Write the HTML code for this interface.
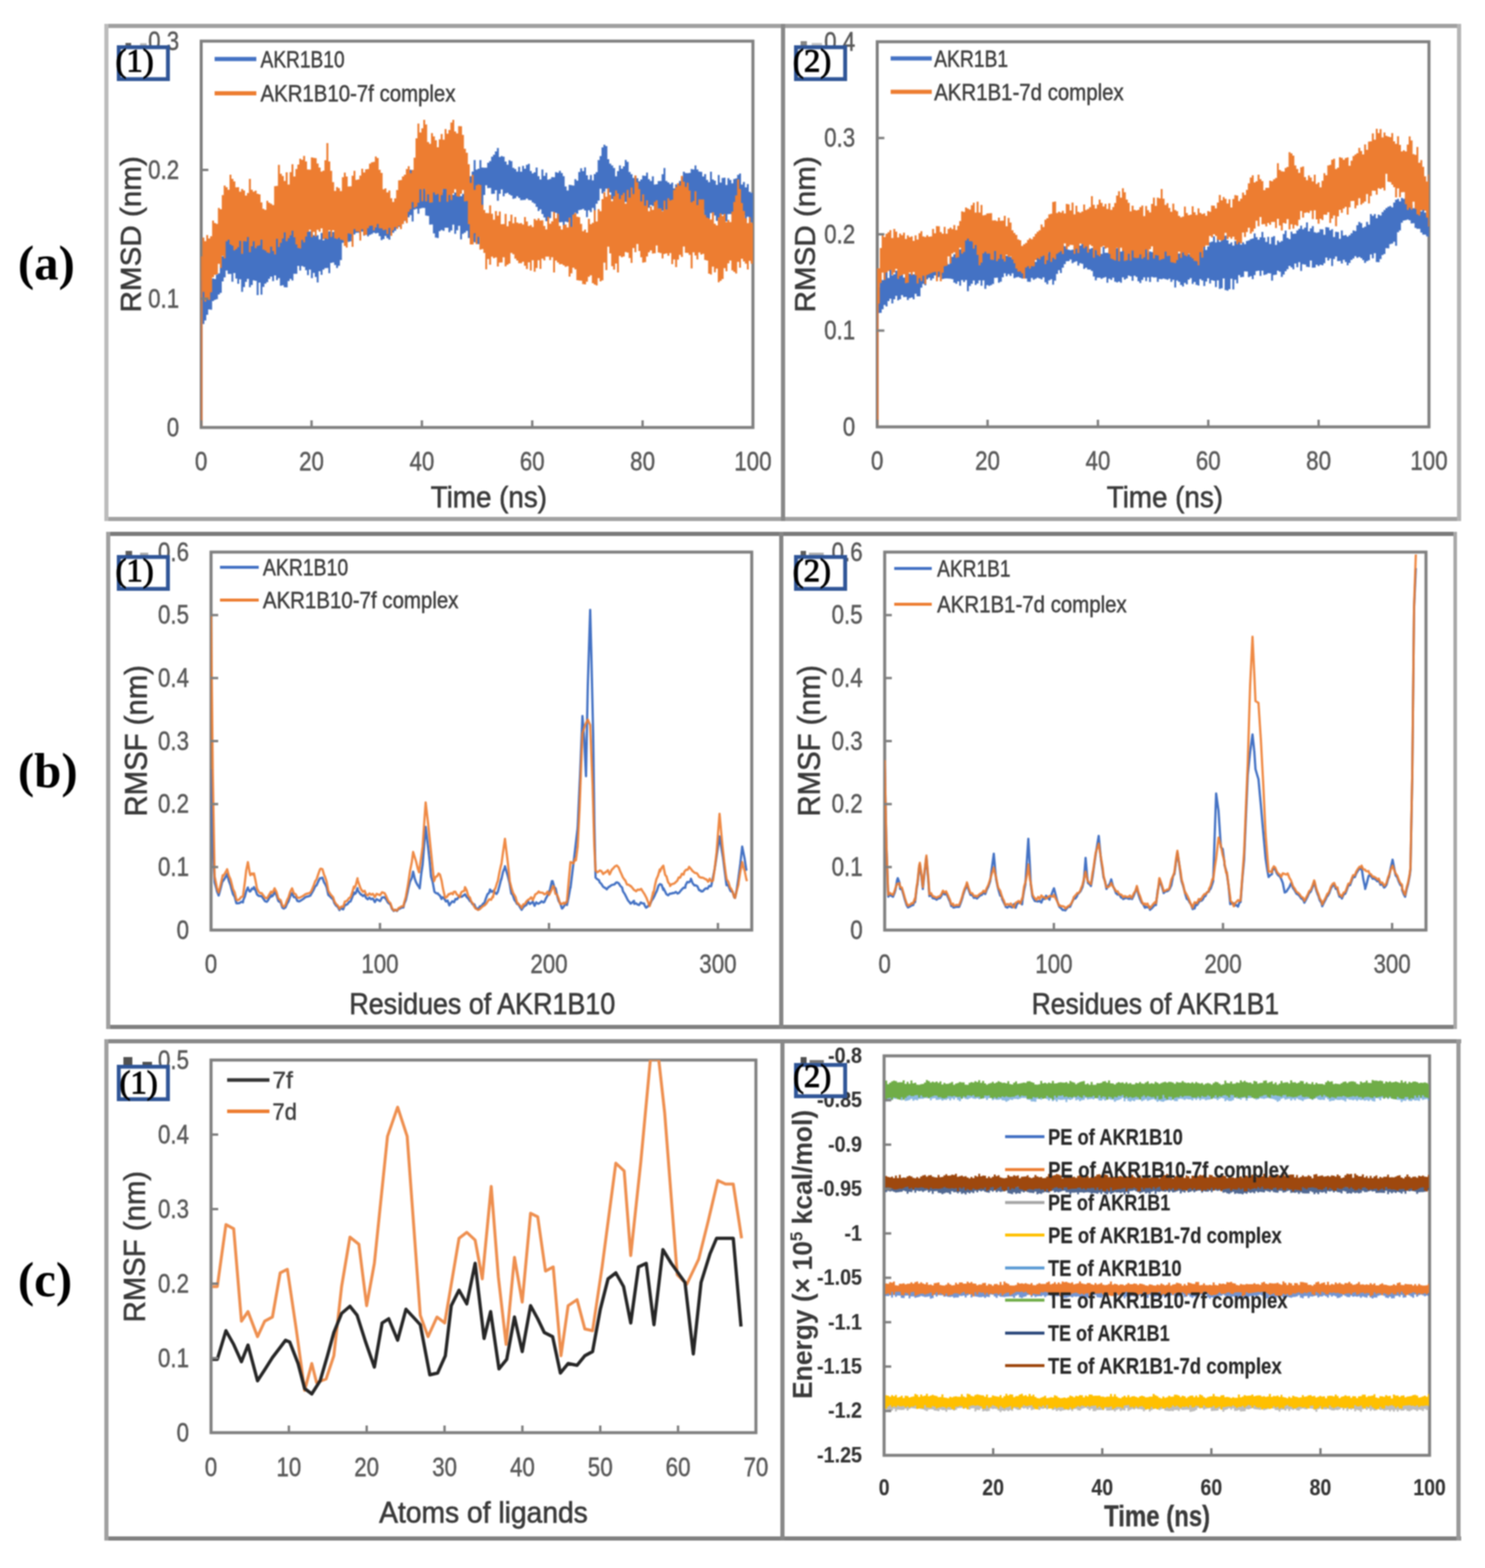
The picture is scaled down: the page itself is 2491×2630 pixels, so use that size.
<!DOCTYPE html>
<html><head><meta charset="utf-8"><title>Figure</title>
<style>html,body{margin:0;padding:0;background:#fff;} svg{display:block;filter:blur(0.8px);}</style>
</head><body>
<svg width="2491" height="2630" viewBox="0 0 2491 2630"><rect x="175" y="40" width="2276" height="7" fill="#a0a0a0"/>
<rect x="175" y="867" width="2276" height="7" fill="#a2a2a2"/>
<rect x="175" y="40" width="7" height="834" fill="#bcbcbc"/>
<rect x="1310" y="40" width="7" height="834" fill="#888888"/>
<rect x="2444" y="40" width="7" height="834" fill="#b5b5b5"/>
<rect x="178" y="892" width="2266" height="7" fill="#7a7a7a"/>
<rect x="178" y="1719" width="2266" height="7" fill="#808080"/>
<rect x="178" y="892" width="7" height="834" fill="#a0a0a0"/>
<rect x="1307" y="892" width="7" height="834" fill="#858585"/>
<rect x="2438" y="892" width="6" height="834" fill="#a8a8a8"/>
<rect x="175" y="1743" width="2276" height="7" fill="#888888"/>
<rect x="175" y="2577" width="2276" height="7" fill="#808080"/>
<rect x="175" y="1743" width="7" height="841" fill="#a0a0a0"/>
<rect x="1309" y="1743" width="7" height="841" fill="#888888"/>
<rect x="2443" y="1743" width="7" height="841" fill="#999999"/>
<text x="30.0" y="469.0" font-size="82" text-anchor="start" fill="#000" font-family="'Liberation Serif', serif" font-weight="bold">(a)</text>
<text x="30.0" y="1320.0" font-size="82" text-anchor="start" fill="#000" font-family="'Liberation Serif', serif" font-weight="bold">(b)</text>
<text x="30.0" y="2174.0" font-size="82" text-anchor="start" fill="#000" font-family="'Liberation Serif', serif" font-weight="bold">(c)</text>
<rect x="337.5" y="69" width="925.5" height="648" fill="none" stroke="#7f7f7f" stroke-width="5"/>
<rect x="1471.5" y="70" width="925.5" height="646" fill="none" stroke="#7f7f7f" stroke-width="5"/>
<rect x="354" y="926" width="907" height="634" fill="none" stroke="#7f7f7f" stroke-width="5"/>
<rect x="1484" y="926" width="908" height="634" fill="none" stroke="#7f7f7f" stroke-width="5"/>
<rect x="354" y="1778" width="914" height="625" fill="none" stroke="#7f7f7f" stroke-width="5"/>
<rect x="1483" y="1771" width="915" height="670" fill="none" stroke="#7f7f7f" stroke-width="5"/>
<clipPath id="clip_a1"><rect x="337.5" y="69" width="925.5" height="648"/></clipPath>
<clipPath id="clip_a2"><rect x="1471.5" y="70" width="925.5" height="646"/></clipPath>
<clipPath id="clip_b1"><rect x="354" y="926" width="907" height="634"/></clipPath>
<clipPath id="clip_b2"><rect x="1484" y="926" width="908" height="634"/></clipPath>
<clipPath id="clip_c1"><rect x="354" y="1778" width="914" height="625"/></clipPath>
<clipPath id="clip_c2"><rect x="1483" y="1771" width="915" height="670"/></clipPath>
<path d="M338.5,717 L338.5,470" fill="none" stroke="#4472C4" stroke-width="3" stroke-linejoin="round"/>
<path d="M339.5,471.7 342.8,471.7 342.8,483.6 346.0,483.6 346.0,482.4 349.2,482.4 349.2,468.8 352.5,468.8 352.5,469.5 355.8,469.5 355.8,467.1 359.0,467.1 359.0,468.1 362.2,468.1 362.2,460.4 365.5,460.4 365.5,458.5 368.8,458.5 368.8,441.9 372.0,441.9 372.0,429.7 375.2,429.7 375.2,402.9 378.5,402.9 378.5,401.7 381.8,401.7 381.8,383.0 385.0,383.0 385.0,384.8 388.2,384.8 388.2,376.9 391.5,376.9 391.5,394.8 394.8,394.8 394.8,385.4 398.0,385.4 398.0,393.6 401.2,393.6 401.2,389.6 404.5,389.6 404.5,389.4 407.8,389.4 407.8,372.1 411.0,372.1 411.0,389.3 414.2,389.3 414.2,388.7 417.5,388.7 417.5,388.6 420.8,388.6 420.8,367.8 424.0,367.8 424.0,390.4 427.2,390.4 427.2,390.9 430.5,390.9 430.5,393.7 433.8,393.7 433.8,390.1 437.0,390.1 437.0,393.3 440.2,393.3 440.2,381.8 443.5,381.8 443.5,394.4 446.8,394.4 446.8,380.6 450.0,380.6 450.0,397.0 453.2,397.0 453.2,393.5 456.5,393.5 456.5,389.8 459.8,389.8 459.8,384.7 463.0,384.7 463.0,397.3 466.2,397.3 466.2,398.7 469.5,398.7 469.5,393.3 472.8,393.3 472.8,381.1 476.0,381.1 476.0,380.8 479.2,380.8 479.2,377.2 482.5,377.2 482.5,378.6 485.8,378.6 485.8,386.8 489.0,386.8 489.0,375.4 492.2,375.4 492.2,383.3 495.5,383.3 495.5,395.1 498.8,395.1 498.8,387.0 502.0,387.0 502.0,386.0 505.2,386.0 505.2,390.2 508.5,390.2 508.5,380.0 511.8,380.0 511.8,390.6 515.0,390.6 515.0,381.8 518.2,381.8 518.2,388.3 521.5,388.3 521.5,381.0 524.8,381.0 524.8,394.4 528.0,394.4 528.0,395.8 531.2,395.8 531.2,394.6 534.5,394.6 534.5,401.4 537.8,401.4 537.8,390.8 541.0,390.8 541.0,402.9 544.2,402.9 544.2,387.8 547.5,387.8 547.5,390.5 550.8,390.5 550.8,388.0 554.0,388.0 554.0,395.5 557.2,395.5 557.2,389.0 560.5,389.0 560.5,388.5 563.8,388.5 563.8,394.4 567.0,394.4 567.0,387.6 570.2,387.6 570.2,388.1 573.5,388.1 573.5,377.8 576.8,377.8 576.8,373.6 580.0,373.6 580.0,368.7 583.2,368.7 583.2,361.4 586.5,361.4 586.5,366.8 589.8,366.8 589.8,368.7 593.0,368.7 593.0,363.3 596.2,363.3 596.2,359.4 599.5,359.4 599.5,363.5 602.8,363.5 602.8,354.2 606.0,354.2 606.0,354.7 609.2,354.7 609.2,361.3 612.5,361.3 612.5,356.7 615.8,356.7 615.8,356.5 619.0,356.5 619.0,354.4 622.2,354.4 622.2,360.1 625.5,360.1 625.5,356.8 628.8,356.8 628.8,361.2 632.0,361.2 632.0,363.6 635.2,363.6 635.2,369.3 638.5,369.3 638.5,363.0 641.8,363.0 641.8,370.7 645.0,370.7 645.0,367.7 648.2,367.7 648.2,368.5 651.5,368.5 651.5,374.9 654.8,374.9 654.8,371.8 658.0,371.8 658.0,367.7 661.2,367.7 661.2,365.8 664.5,365.8 664.5,357.9 667.8,357.9 667.8,357.5 671.0,357.5 671.0,359.0 674.2,359.0 674.2,349.6 677.5,349.6 677.5,350.4 680.8,350.4 680.8,334.7 684.0,334.7 684.0,323.7 687.2,323.7 687.2,284.7 690.5,284.7 690.5,286.5 693.8,286.5 693.8,299.2 697.0,299.2 697.0,297.0 700.2,297.0 700.2,297.7 703.5,297.7 703.5,316.3 706.8,316.3 706.8,315.5 710.0,315.5 710.0,312.8 713.2,312.8 713.2,320.4 716.5,320.4 716.5,321.8 719.8,321.8 719.8,309.8 723.0,309.8 723.0,315.6 726.2,315.6 726.2,307.5 729.5,307.5 729.5,312.4 732.8,312.4 732.8,309.8 736.0,309.8 736.0,313.3 739.2,313.3 739.2,323.0 742.5,323.0 742.5,314.0 745.8,314.0 745.8,312.1 749.0,312.1 749.0,315.9 752.2,315.9 752.2,314.8 755.5,314.8 755.5,317.2 758.8,317.2 758.8,326.7 762.0,326.7 762.0,322.9 765.2,322.9 765.2,306.7 768.5,306.7 768.5,312.1 771.8,312.1 771.8,329.0 775.0,329.0 775.0,325.3 778.2,325.3 778.2,306.6 781.5,306.6 781.5,314.7 784.8,314.7 784.8,306.8 788.0,306.8 788.0,295.5 791.2,295.5 791.2,287.8 794.5,287.8 794.5,268.4 797.8,268.4 797.8,284.4 801.0,284.4 801.0,283.1 804.2,283.1 804.2,268.4 807.5,268.4 807.5,280.9 810.8,280.9 810.8,281.3 814.0,281.3 814.0,281.3 817.2,281.3 817.2,272.9 820.5,272.9 820.5,270.3 823.8,270.3 823.8,262.8 827.0,262.8 827.0,259.5 830.2,259.5 830.2,254.0 833.5,254.0 833.5,248.3 836.8,248.3 836.8,263.3 840.0,263.3 840.0,261.8 843.2,261.8 843.2,262.8 846.5,262.8 846.5,270.9 849.8,270.9 849.8,276.3 853.0,276.3 853.0,268.7 856.2,268.7 856.2,270.2 859.5,270.2 859.5,281.5 862.8,281.5 862.8,283.6 866.0,283.6 866.0,287.8 869.2,287.8 869.2,279.7 872.5,279.7 872.5,288.0 875.8,288.0 875.8,278.3 879.0,278.3 879.0,282.9 882.2,282.9 882.2,276.6 885.5,276.6 885.5,274.8 888.8,274.8 888.8,286.8 892.0,286.8 892.0,290.7 895.2,290.7 895.2,289.0 898.5,289.0 898.5,281.0 901.8,281.0 901.8,295.5 905.0,295.5 905.0,301.1 908.2,301.1 908.2,284.2 911.5,284.2 911.5,295.1 914.8,295.1 914.8,289.7 918.0,289.7 918.0,301.2 921.2,301.2 921.2,300.3 924.5,300.3 924.5,296.9 927.8,296.9 927.8,297.2 931.0,297.2 931.0,288.8 934.2,288.8 934.2,289.8 937.5,289.8 937.5,286.6 940.8,286.6 940.8,290.3 944.0,290.3 944.0,295.5 947.2,295.5 947.2,312.8 950.5,312.8 950.5,319.4 953.8,319.4 953.8,309.9 957.0,309.9 957.0,310.5 960.2,310.5 960.2,311.3 963.5,311.3 963.5,300.6 966.8,300.6 966.8,303.1 970.0,303.1 970.0,288.6 973.2,288.6 973.2,282.3 976.5,282.3 976.5,287.0 979.8,287.0 979.8,280.8 983.0,280.8 983.0,294.1 986.2,294.1 986.2,301.2 989.5,301.2 989.5,293.4 992.8,293.4 992.8,302.4 996.0,302.4 996.0,291.9 999.2,291.9 999.2,288.7 1002.5,288.7 1002.5,268.6 1005.8,268.6 1005.8,261.8 1009.0,261.8 1009.0,247.2 1012.2,247.2 1012.2,242.7 1015.5,242.7 1015.5,244.9 1018.8,244.9 1018.8,266.9 1022.0,266.9 1022.0,274.6 1025.2,274.6 1025.2,277.6 1028.5,277.6 1028.5,281.8 1031.8,281.8 1031.8,295.8 1035.0,295.8 1035.0,287.1 1038.2,287.1 1038.2,277.5 1041.5,277.5 1041.5,282.9 1044.8,282.9 1044.8,279.0 1048.0,279.0 1048.0,268.2 1051.2,268.2 1051.2,271.4 1054.5,271.4 1054.5,288.6 1057.8,288.6 1057.8,292.3 1061.0,292.3 1061.0,298.5 1064.2,298.5 1064.2,295.1 1067.5,295.1 1067.5,299.1 1070.8,299.1 1070.8,304.1 1074.0,304.1 1074.0,301.0 1077.2,301.0 1077.2,294.4 1080.5,294.4 1080.5,294.9 1083.8,294.9 1083.8,289.6 1087.0,289.6 1087.0,300.5 1090.2,300.5 1090.2,303.4 1093.5,303.4 1093.5,295.7 1096.8,295.7 1096.8,309.6 1100.0,309.6 1100.0,309.1 1103.2,309.1 1103.2,303.8 1106.5,303.8 1106.5,303.6 1109.8,303.6 1109.8,292.2 1113.0,292.2 1113.0,281.8 1116.2,281.8 1116.2,303.4 1119.5,303.4 1119.5,306.1 1122.8,306.1 1122.8,308.8 1126.0,308.8 1126.0,306.2 1129.2,306.2 1129.2,316.1 1132.5,316.1 1132.5,309.2 1135.8,309.2 1135.8,312.4 1139.0,312.4 1139.0,303.6 1142.2,303.6 1142.2,297.7 1145.5,297.7 1145.5,287.9 1148.8,287.9 1148.8,290.3 1152.0,290.3 1152.0,290.6 1155.2,290.6 1155.2,289.9 1158.5,289.9 1158.5,283.6 1161.8,283.6 1161.8,284.2 1165.0,284.2 1165.0,277.6 1168.2,277.6 1168.2,284.3 1171.5,284.3 1171.5,287.8 1174.8,287.8 1174.8,288.3 1178.0,288.3 1178.0,296.1 1181.2,296.1 1181.2,292.1 1184.5,292.1 1184.5,301.8 1187.8,301.8 1187.8,305.6 1191.0,305.6 1191.0,288.1 1194.2,288.1 1194.2,301.1 1197.5,301.1 1197.5,303.1 1200.8,303.1 1200.8,309.9 1204.0,309.9 1204.0,293.4 1207.2,293.4 1207.2,306.3 1210.5,306.3 1210.5,298.5 1213.8,298.5 1213.8,298.1 1217.0,298.1 1217.0,310.3 1220.2,310.3 1220.2,298.8 1223.5,298.8 1223.5,301.7 1226.8,301.7 1226.8,307.5 1230.0,307.5 1230.0,300.3 1233.2,300.3 1233.2,299.2 1236.5,299.2 1236.5,293.2 1239.8,293.2 1239.8,291.1 1243.0,291.1 1243.0,309.5 1246.2,309.5 1246.2,305.3 1249.5,305.3 1249.5,314.3 1252.8,314.3 1252.8,308.7 1256.0,308.7 1256.0,321.7 1259.2,321.7 1259.2,323.6 1262.5,323.6 1262.5,322.5 1263.0,322.5 1263.0,366.5 1262.5,366.5 1262.5,372.9 1259.2,372.9 1259.2,375.4 1256.0,375.4 1256.0,363.4 1252.8,363.4 1252.8,373.4 1249.5,373.4 1249.5,360.9 1246.2,360.9 1246.2,378.3 1243.0,378.3 1243.0,370.3 1239.8,370.3 1239.8,369.3 1236.5,369.3 1236.5,372.5 1233.2,372.5 1233.2,361.8 1230.0,361.8 1230.0,360.8 1226.8,360.8 1226.8,359.1 1223.5,359.1 1223.5,359.3 1220.2,359.3 1220.2,371.2 1217.0,371.2 1217.0,372.0 1213.8,372.0 1213.8,359.9 1210.5,359.9 1210.5,371.6 1207.2,371.6 1207.2,373.2 1204.0,373.2 1204.0,370.5 1200.8,370.5 1200.8,361.5 1197.5,361.5 1197.5,356.5 1194.2,356.5 1194.2,357.4 1191.0,357.4 1191.0,372.8 1187.8,372.8 1187.8,369.7 1184.5,369.7 1184.5,370.2 1181.2,370.2 1181.2,351.7 1178.0,351.7 1178.0,352.7 1174.8,352.7 1174.8,352.9 1171.5,352.9 1171.5,347.0 1168.2,347.0 1168.2,358.6 1165.0,358.6 1165.0,346.1 1161.8,346.1 1161.8,353.9 1158.5,353.9 1158.5,349.9 1155.2,349.9 1155.2,360.5 1152.0,360.5 1152.0,352.1 1148.8,352.1 1148.8,350.3 1145.5,350.3 1145.5,342.1 1142.2,342.1 1142.2,346.4 1139.0,346.4 1139.0,350.2 1135.8,350.2 1135.8,346.9 1132.5,346.9 1132.5,355.2 1129.2,355.2 1129.2,359.8 1126.0,359.8 1126.0,349.6 1122.8,349.6 1122.8,357.8 1119.5,357.8 1119.5,360.0 1116.2,360.0 1116.2,362.7 1113.0,362.7 1113.0,353.5 1109.8,353.5 1109.8,358.3 1106.5,358.3 1106.5,356.2 1103.2,356.2 1103.2,343.0 1100.0,343.0 1100.0,354.0 1096.8,354.0 1096.8,345.4 1093.5,345.4 1093.5,344.1 1090.2,344.1 1090.2,348.5 1087.0,348.5 1087.0,348.7 1083.8,348.7 1083.8,346.6 1080.5,346.6 1080.5,346.6 1077.2,346.6 1077.2,346.6 1074.0,346.6 1074.0,342.4 1070.8,342.4 1070.8,346.2 1067.5,346.2 1067.5,337.8 1064.2,337.8 1064.2,341.9 1061.0,341.9 1061.0,344.9 1057.8,344.9 1057.8,336.8 1054.5,336.8 1054.5,341.0 1051.2,341.0 1051.2,338.8 1048.0,338.8 1048.0,345.2 1044.8,345.2 1044.8,342.0 1041.5,342.0 1041.5,336.4 1038.2,336.4 1038.2,336.6 1035.0,336.6 1035.0,335.5 1031.8,335.5 1031.8,341.3 1028.5,341.3 1028.5,334.0 1025.2,334.0 1025.2,322.8 1022.0,322.8 1022.0,331.0 1018.8,331.0 1018.8,316.5 1015.5,316.5 1015.5,321.5 1012.2,321.5 1012.2,324.6 1009.0,324.6 1009.0,316.6 1005.8,316.6 1005.8,336.4 1002.5,336.4 1002.5,341.8 999.2,341.8 999.2,353.0 996.0,353.0 996.0,348.8 992.8,348.8 992.8,355.8 989.5,355.8 989.5,352.7 986.2,352.7 986.2,364.3 983.0,364.3 983.0,353.0 979.8,353.0 979.8,350.4 976.5,350.4 976.5,351.7 973.2,351.7 973.2,352.5 970.0,352.5 970.0,358.6 966.8,358.6 966.8,356.8 963.5,356.8 963.5,361.3 960.2,361.3 960.2,381.6 957.0,381.6 957.0,372.3 953.8,372.3 953.8,372.7 950.5,372.7 950.5,371.8 947.2,371.8 947.2,387.1 944.0,387.1 944.0,372.6 940.8,372.6 940.8,372.9 937.5,372.9 937.5,370.8 934.2,370.8 934.2,357.1 931.0,357.1 931.0,357.4 927.8,357.4 927.8,355.1 924.5,355.1 924.5,365.7 921.2,365.7 921.2,368.7 918.0,368.7 918.0,371.1 914.8,371.1 914.8,364.8 911.5,364.8 911.5,359.1 908.2,359.1 908.2,351.3 905.0,351.3 905.0,354.0 901.8,354.0 901.8,347.0 898.5,347.0 898.5,341.6 895.2,341.6 895.2,339.6 892.0,339.6 892.0,336.0 888.8,336.0 888.8,335.4 885.5,335.4 885.5,333.1 882.2,333.1 882.2,335.3 879.0,335.3 879.0,335.5 875.8,335.5 875.8,335.7 872.5,335.7 872.5,332.1 869.2,332.1 869.2,329.2 866.0,329.2 866.0,332.4 862.8,332.4 862.8,333.6 859.5,333.6 859.5,327.9 856.2,327.9 856.2,326.3 853.0,326.3 853.0,323.6 849.8,323.6 849.8,324.5 846.5,324.5 846.5,329.3 843.2,329.3 843.2,317.7 840.0,317.7 840.0,325.0 836.8,325.0 836.8,336.8 833.5,336.8 833.5,319.0 830.2,319.0 830.2,325.0 827.0,325.0 827.0,325.3 823.8,325.3 823.8,315.3 820.5,315.3 820.5,315.4 817.2,315.4 817.2,310.8 814.0,310.8 814.0,327.0 810.8,327.0 810.8,352.8 807.5,352.8 807.5,385.4 804.2,385.4 804.2,409.5 801.0,409.5 801.0,394.1 797.8,394.1 797.8,406.5 794.5,406.5 794.5,404.8 791.2,404.8 791.2,376.8 788.0,376.8 788.0,399.3 784.8,399.3 784.8,387.2 781.5,387.2 781.5,390.2 778.2,390.2 778.2,392.3 775.0,392.3 775.0,401.5 771.8,401.5 771.8,378.8 768.5,378.8 768.5,386.3 765.2,386.3 765.2,392.2 762.0,392.2 762.0,376.8 758.8,376.8 758.8,386.5 755.5,386.5 755.5,389.5 752.2,389.5 752.2,382.1 749.0,382.1 749.0,382.0 745.8,382.0 745.8,387.2 742.5,387.2 742.5,385.8 739.2,385.8 739.2,387.8 736.0,387.8 736.0,399.3 732.8,399.3 732.8,398.6 729.5,398.6 729.5,391.4 726.2,391.4 726.2,376.6 723.0,376.6 723.0,376.8 719.8,376.8 719.8,362.2 716.5,362.2 716.5,361.4 713.2,361.4 713.2,348.8 710.0,348.8 710.0,348.7 706.8,348.7 706.8,349.7 703.5,349.7 703.5,358.4 700.2,358.4 700.2,350.2 697.0,350.2 697.0,351.6 693.8,351.6 693.8,371.6 690.5,371.6 690.5,360.7 687.2,360.7 687.2,364.4 684.0,364.4 684.0,366.9 680.8,366.9 680.8,370.6 677.5,370.6 677.5,372.2 674.2,372.2 674.2,378.5 671.0,378.5 671.0,380.5 667.8,380.5 667.8,383.1 664.5,383.1 664.5,387.2 661.2,387.2 661.2,390.4 658.0,390.4 658.0,393.0 654.8,393.0 654.8,402.1 651.5,402.1 651.5,399.4 648.2,399.4 648.2,395.8 645.0,395.8 645.0,401.1 641.8,401.1 641.8,402.7 638.5,402.7 638.5,395.9 635.2,395.9 635.2,390.8 632.0,390.8 632.0,391.5 628.8,391.5 628.8,390.2 625.5,390.2 625.5,392.4 622.2,392.4 622.2,394.1 619.0,394.1 619.0,396.5 615.8,396.5 615.8,393.4 612.5,393.4 612.5,395.2 609.2,395.2 609.2,388.5 606.0,388.5 606.0,395.3 602.8,395.3 602.8,390.2 599.5,390.2 599.5,390.6 596.2,390.6 596.2,393.3 593.0,393.3 593.0,397.3 589.8,397.3 589.8,404.8 586.5,404.8 586.5,405.8 583.2,405.8 583.2,402.4 580.0,402.4 580.0,397.7 576.8,397.7 576.8,407.2 573.5,407.2 573.5,436.2 570.2,436.2 570.2,445.7 567.0,445.7 567.0,449.4 563.8,449.4 563.8,444.5 560.5,444.5 560.5,440.2 557.2,440.2 557.2,441.1 554.0,441.1 554.0,458.3 550.8,458.3 550.8,449.4 547.5,449.4 547.5,449.8 544.2,449.8 544.2,452.2 541.0,452.2 541.0,460.9 537.8,460.9 537.8,454.9 534.5,454.9 534.5,473.8 531.2,473.8 531.2,464.6 528.0,464.6 528.0,457.8 524.8,457.8 524.8,466.6 521.5,466.6 521.5,452.2 518.2,452.2 518.2,461.4 515.0,461.4 515.0,453.2 511.8,453.2 511.8,447.8 508.5,447.8 508.5,446.3 505.2,446.3 505.2,453.8 502.0,453.8 502.0,445.9 498.8,445.9 498.8,459.2 495.5,459.2 495.5,459.2 492.2,459.2 492.2,470.6 489.0,470.6 489.0,467.8 485.8,467.8 485.8,471.5 482.5,471.5 482.5,482.1 479.2,482.1 479.2,481.8 476.0,481.8 476.0,478.5 472.8,478.5 472.8,479.2 469.5,479.2 469.5,466.6 466.2,466.6 466.2,469.7 463.0,469.7 463.0,462.1 459.8,462.1 459.8,471.4 456.5,471.4 456.5,464.1 453.2,464.1 453.2,467.8 450.0,467.8 450.0,473.3 446.8,473.3 446.8,475.7 443.5,475.7 443.5,481.2 440.2,481.2 440.2,494.2 437.0,494.2 437.0,473.9 433.8,473.9 433.8,495.1 430.5,495.1 430.5,471.1 427.2,471.1 427.2,470.3 424.0,470.3 424.0,478.1 420.8,478.1 420.8,481.7 417.5,481.7 417.5,467.7 414.2,467.7 414.2,472.8 411.0,472.8 411.0,481.4 407.8,481.4 407.8,489.4 404.5,489.4 404.5,468.4 401.2,468.4 401.2,476.1 398.0,476.1 398.0,467.2 394.8,467.2 394.8,458.1 391.5,458.1 391.5,472.6 388.2,472.6 388.2,459.6 385.0,459.6 385.0,459.5 381.8,459.5 381.8,453.7 378.5,453.7 378.5,465.3 375.2,465.3 375.2,471.9 372.0,471.9 372.0,491.3 368.8,491.3 368.8,493.9 365.5,493.9 365.5,501.8 362.2,501.8 362.2,503.0 359.0,503.0 359.0,504.9 355.8,504.9 355.8,519.4 352.5,519.4 352.5,519.1 349.2,519.1 349.2,527.9 346.0,527.9 346.0,537.4 342.8,537.4 342.8,543.6 339.5,543.6Z" fill="#4472C4" clip-path="url(#clip_a1)"/>
<path d="M338.5,717 L338.5,430" fill="none" stroke="#ED7D31" stroke-width="3" stroke-linejoin="round" opacity="0.8"/>
<path d="M339.5,398.6 342.8,398.6 342.8,404.6 346.0,404.6 346.0,394.3 349.2,394.3 349.2,400.0 352.5,400.0 352.5,396.3 355.8,396.3 355.8,369.9 359.0,369.9 359.0,374.0 362.2,374.0 362.2,375.4 365.5,375.4 365.5,348.7 368.8,348.7 368.8,351.0 372.0,351.0 372.0,327.3 375.2,327.3 375.2,311.2 378.5,311.2 378.5,314.0 381.8,314.0 381.8,318.2 385.0,318.2 385.0,293.1 388.2,293.1 388.2,299.9 391.5,299.9 391.5,304.2 394.8,304.2 394.8,314.3 398.0,314.3 398.0,313.9 401.2,313.9 401.2,321.5 404.5,321.5 404.5,317.0 407.8,317.0 407.8,319.6 411.0,319.6 411.0,328.0 414.2,328.0 414.2,323.8 417.5,323.8 417.5,299.9 420.8,299.9 420.8,318.2 424.0,318.2 424.0,321.4 427.2,321.4 427.2,319.8 430.5,319.8 430.5,325.1 433.8,325.1 433.8,326.1 437.0,326.1 437.0,339.6 440.2,339.6 440.2,350.3 443.5,350.3 443.5,351.9 446.8,351.9 446.8,336.7 450.0,336.7 450.0,339.9 453.2,339.9 453.2,341.8 456.5,341.8 456.5,344.1 459.8,344.1 459.8,312.3 463.0,312.3 463.0,311.8 466.2,311.8 466.2,276.5 469.5,276.5 469.5,291.4 472.8,291.4 472.8,295.3 476.0,295.3 476.0,303.6 479.2,303.6 479.2,288.9 482.5,288.9 482.5,309.4 485.8,309.4 485.8,288.7 489.0,288.7 489.0,275.4 492.2,275.4 492.2,295.9 495.5,295.9 495.5,283.4 498.8,283.4 498.8,275.9 502.0,275.9 502.0,266.2 505.2,266.2 505.2,268.1 508.5,268.1 508.5,261.6 511.8,261.6 511.8,270.8 515.0,270.8 515.0,284.2 518.2,284.2 518.2,284.4 521.5,284.4 521.5,263.9 524.8,263.9 524.8,264.7 528.0,264.7 528.0,265.3 531.2,265.3 531.2,274.3 534.5,274.3 534.5,281.1 537.8,281.1 537.8,287.7 541.0,287.7 541.0,286.2 544.2,286.2 544.2,268.8 547.5,268.8 547.5,240.0 550.8,240.0 550.8,270.8 554.0,270.8 554.0,286.5 557.2,286.5 557.2,305.5 560.5,305.5 560.5,320.3 563.8,320.3 563.8,313.7 567.0,313.7 567.0,315.5 570.2,315.5 570.2,320.5 573.5,320.5 573.5,297.3 576.8,297.3 576.8,289.5 580.0,289.5 580.0,296.0 583.2,296.0 583.2,312.7 586.5,312.7 586.5,312.5 589.8,312.5 589.8,294.7 593.0,294.7 593.0,286.4 596.2,286.4 596.2,301.7 599.5,301.7 599.5,301.1 602.8,301.1 602.8,294.5 606.0,294.5 606.0,282.9 609.2,282.9 609.2,289.3 612.5,289.3 612.5,284.0 615.8,284.0 615.8,283.5 619.0,283.5 619.0,274.4 622.2,274.4 622.2,272.3 625.5,272.3 625.5,271.5 628.8,271.5 628.8,262.4 632.0,262.4 632.0,264.9 635.2,264.9 635.2,284.7 638.5,284.7 638.5,290.0 641.8,290.0 641.8,317.5 645.0,317.5 645.0,315.9 648.2,315.9 648.2,322.8 651.5,322.8 651.5,319.4 654.8,319.4 654.8,332.4 658.0,332.4 658.0,338.7 661.2,338.7 661.2,332.7 664.5,332.7 664.5,318.8 667.8,318.8 667.8,302.5 671.0,302.5 671.0,301.9 674.2,301.9 674.2,296.1 677.5,296.1 677.5,293.1 680.8,293.1 680.8,283.5 684.0,283.5 684.0,278.8 687.2,278.8 687.2,290.4 690.5,290.4 690.5,284.9 693.8,284.9 693.8,264.6 697.0,264.6 697.0,231.9 700.2,231.9 700.2,207.2 703.5,207.2 703.5,222.2 706.8,222.2 706.8,215.3 710.0,215.3 710.0,200.9 713.2,200.9 713.2,208.8 716.5,208.8 716.5,238.2 719.8,238.2 719.8,241.3 723.0,241.3 723.0,223.3 726.2,223.3 726.2,228.7 729.5,228.7 729.5,235.3 732.8,235.3 732.8,247.1 736.0,247.1 736.0,233.7 739.2,233.7 739.2,224.7 742.5,224.7 742.5,234.2 745.8,234.2 745.8,216.5 749.0,216.5 749.0,224.2 752.2,224.2 752.2,218.1 755.5,218.1 755.5,205.4 758.8,205.4 758.8,201.0 762.0,201.0 762.0,220.4 765.2,220.4 765.2,223.8 768.5,223.8 768.5,211.6 771.8,211.6 771.8,211.8 775.0,211.8 775.0,226.2 778.2,226.2 778.2,249.4 781.5,249.4 781.5,256.3 784.8,256.3 784.8,275.6 788.0,275.6 788.0,306.7 791.2,306.7 791.2,293.2 794.5,293.2 794.5,318.4 797.8,318.4 797.8,310.8 801.0,310.8 801.0,309.2 804.2,309.2 804.2,310.3 807.5,310.3 807.5,343.5 810.8,343.5 810.8,352.2 814.0,352.2 814.0,357.2 817.2,357.2 817.2,357.5 820.5,357.5 820.5,344.6 823.8,344.6 823.8,358.4 827.0,358.4 827.0,368.6 830.2,368.6 830.2,353.9 833.5,353.9 833.5,361.8 836.8,361.8 836.8,354.8 840.0,354.8 840.0,376.1 843.2,376.1 843.2,375.7 846.5,375.7 846.5,358.8 849.8,358.8 849.8,379.6 853.0,379.6 853.0,371.1 856.2,371.1 856.2,359.9 859.5,359.9 859.5,374.5 862.8,374.5 862.8,364.0 866.0,364.0 866.0,373.2 869.2,373.2 869.2,374.7 872.5,374.7 872.5,374.3 875.8,374.3 875.8,376.4 879.0,376.4 879.0,364.1 882.2,364.1 882.2,371.4 885.5,371.4 885.5,379.1 888.8,379.1 888.8,377.6 892.0,377.6 892.0,380.7 895.2,380.7 895.2,367.3 898.5,367.3 898.5,369.4 901.8,369.4 901.8,366.2 905.0,366.2 905.0,369.7 908.2,369.7 908.2,369.6 911.5,369.6 911.5,378.9 914.8,378.9 914.8,384.7 918.0,384.7 918.0,363.7 921.2,363.7 921.2,375.3 924.5,375.3 924.5,371.3 927.8,371.3 927.8,355.4 931.0,355.4 931.0,366.2 934.2,366.2 934.2,358.4 937.5,358.4 937.5,379.1 940.8,379.1 940.8,384.9 944.0,384.9 944.0,377.6 947.2,377.6 947.2,376.6 950.5,376.6 950.5,381.4 953.8,381.4 953.8,365.0 957.0,365.0 957.0,380.5 960.2,380.5 960.2,359.9 963.5,359.9 963.5,357.2 966.8,357.2 966.8,363.6 970.0,363.6 970.0,364.2 973.2,364.2 973.2,375.5 976.5,375.5 976.5,387.7 979.8,387.7 979.8,385.0 983.0,385.0 983.0,389.9 986.2,389.9 986.2,366.9 989.5,366.9 989.5,376.1 992.8,376.1 992.8,373.7 996.0,373.7 996.0,352.6 999.2,352.6 999.2,371.5 1002.5,371.5 1002.5,350.7 1005.8,350.7 1005.8,354.3 1009.0,354.3 1009.0,333.9 1012.2,333.9 1012.2,322.6 1015.5,322.6 1015.5,329.9 1018.8,329.9 1018.8,315.8 1022.0,315.8 1022.0,326.7 1025.2,326.7 1025.2,337.6 1028.5,337.6 1028.5,329.1 1031.8,329.1 1031.8,319.4 1035.0,319.4 1035.0,324.5 1038.2,324.5 1038.2,333.7 1041.5,333.7 1041.5,327.2 1044.8,327.2 1044.8,323.4 1048.0,323.4 1048.0,341.4 1051.2,341.4 1051.2,318.6 1054.5,318.6 1054.5,331.6 1057.8,331.6 1057.8,314.6 1061.0,314.6 1061.0,325.5 1064.2,325.5 1064.2,294.3 1067.5,294.3 1067.5,305.8 1070.8,305.8 1070.8,317.3 1074.0,317.3 1074.0,337.7 1077.2,337.7 1077.2,326.1 1080.5,326.1 1080.5,345.1 1083.8,345.1 1083.8,336.0 1087.0,336.0 1087.0,354.2 1090.2,354.2 1090.2,346.2 1093.5,346.2 1093.5,352.0 1096.8,352.0 1096.8,338.4 1100.0,338.4 1100.0,336.0 1103.2,336.0 1103.2,349.6 1106.5,349.6 1106.5,349.5 1109.8,349.5 1109.8,354.3 1113.0,354.3 1113.0,336.6 1116.2,336.6 1116.2,351.3 1119.5,351.3 1119.5,332.4 1122.8,332.4 1122.8,336.2 1126.0,336.2 1126.0,335.0 1129.2,335.0 1129.2,318.6 1132.5,318.6 1132.5,313.8 1135.8,313.8 1135.8,307.3 1139.0,307.3 1139.0,311.2 1142.2,311.2 1142.2,295.0 1145.5,295.0 1145.5,304.7 1148.8,304.7 1148.8,313.4 1152.0,313.4 1152.0,306.6 1155.2,306.6 1155.2,319.5 1158.5,319.5 1158.5,339.3 1161.8,339.3 1161.8,336.9 1165.0,336.9 1165.0,320.8 1168.2,320.8 1168.2,344.0 1171.5,344.0 1171.5,334.4 1174.8,334.4 1174.8,334.4 1178.0,334.4 1178.0,334.5 1181.2,334.5 1181.2,360.4 1184.5,360.4 1184.5,365.1 1187.8,365.1 1187.8,366.3 1191.0,366.3 1191.0,368.3 1194.2,368.3 1194.2,356.0 1197.5,356.0 1197.5,375.2 1200.8,375.2 1200.8,377.9 1204.0,377.9 1204.0,364.4 1207.2,364.4 1207.2,357.9 1210.5,357.9 1210.5,362.2 1213.8,362.2 1213.8,358.8 1217.0,358.8 1217.0,372.5 1220.2,372.5 1220.2,368.7 1223.5,368.7 1223.5,372.4 1226.8,372.4 1226.8,355.0 1230.0,355.0 1230.0,338.7 1233.2,338.7 1233.2,327.8 1236.5,327.8 1236.5,300.7 1239.8,300.7 1239.8,317.0 1243.0,317.0 1243.0,340.5 1246.2,340.5 1246.2,353.7 1249.5,353.7 1249.5,366.1 1252.8,366.1 1252.8,374.3 1256.0,374.3 1256.0,364.2 1259.2,364.2 1259.2,373.6 1262.5,373.6 1262.5,376.5 1263.0,376.5 1263.0,442.8 1262.5,442.8 1262.5,442.2 1259.2,442.2 1259.2,437.4 1256.0,437.4 1256.0,452.1 1252.8,452.1 1252.8,442.3 1249.5,442.3 1249.5,438.4 1246.2,438.4 1246.2,434.1 1243.0,434.1 1243.0,448.9 1239.8,448.9 1239.8,439.3 1236.5,439.3 1236.5,458.7 1233.2,458.7 1233.2,455.9 1230.0,455.9 1230.0,453.4 1226.8,453.4 1226.8,436.9 1223.5,436.9 1223.5,441.8 1220.2,441.8 1220.2,454.9 1217.0,454.9 1217.0,449.8 1213.8,449.8 1213.8,468.1 1210.5,468.1 1210.5,471.1 1207.2,471.1 1207.2,473.6 1204.0,473.6 1204.0,450.6 1200.8,450.6 1200.8,456.8 1197.5,456.8 1197.5,447.3 1194.2,447.3 1194.2,460.5 1191.0,460.5 1191.0,459.0 1187.8,459.0 1187.8,436.9 1184.5,436.9 1184.5,435.9 1181.2,435.9 1181.2,425.8 1178.0,425.8 1178.0,427.0 1174.8,427.0 1174.8,423.4 1171.5,423.4 1171.5,435.3 1168.2,435.3 1168.2,428.4 1165.0,428.4 1165.0,423.2 1161.8,423.2 1161.8,450.2 1158.5,450.2 1158.5,427.6 1155.2,427.6 1155.2,424.3 1152.0,424.3 1152.0,424.1 1148.8,424.1 1148.8,413.5 1145.5,413.5 1145.5,430.9 1142.2,430.9 1142.2,427.5 1139.0,427.5 1139.0,435.5 1135.8,435.5 1135.8,448.1 1132.5,448.1 1132.5,435.3 1129.2,435.3 1129.2,442.9 1126.0,442.9 1126.0,424.6 1122.8,424.6 1122.8,428.9 1119.5,428.9 1119.5,425.1 1116.2,425.1 1116.2,425.9 1113.0,425.9 1113.0,433.6 1109.8,433.6 1109.8,424.5 1106.5,424.5 1106.5,423.4 1103.2,423.4 1103.2,411.8 1100.0,411.8 1100.0,424.7 1096.8,424.7 1096.8,425.2 1093.5,425.2 1093.5,420.1 1090.2,420.1 1090.2,423.3 1087.0,423.3 1087.0,430.3 1083.8,430.3 1083.8,439.7 1080.5,439.7 1080.5,440.6 1077.2,440.6 1077.2,431.4 1074.0,431.4 1074.0,420.9 1070.8,420.9 1070.8,409.3 1067.5,409.3 1067.5,422.9 1064.2,422.9 1064.2,416.1 1061.0,416.1 1061.0,441.1 1057.8,441.1 1057.8,432.7 1054.5,432.7 1054.5,423.8 1051.2,423.8 1051.2,422.8 1048.0,422.8 1048.0,430.2 1044.8,430.2 1044.8,431.4 1041.5,431.4 1041.5,429.2 1038.2,429.2 1038.2,457.0 1035.0,457.0 1035.0,442.0 1031.8,442.0 1031.8,452.3 1028.5,452.3 1028.5,446.4 1025.2,446.4 1025.2,425.1 1022.0,425.1 1022.0,413.8 1018.8,413.8 1018.8,453.0 1015.5,453.0 1015.5,440.6 1012.2,440.6 1012.2,470.3 1009.0,470.3 1009.0,471.9 1005.8,471.9 1005.8,466.6 1002.5,466.6 1002.5,478.7 999.2,478.7 999.2,477.3 996.0,477.3 996.0,475.0 992.8,475.0 992.8,461.8 989.5,461.8 989.5,464.3 986.2,464.3 986.2,472.5 983.0,472.5 983.0,476.9 979.8,476.9 979.8,476.5 976.5,476.5 976.5,470.8 973.2,470.8 973.2,470.6 970.0,470.6 970.0,469.9 966.8,469.9 966.8,451.8 963.5,451.8 963.5,449.0 960.2,449.0 960.2,458.4 957.0,458.4 957.0,463.9 953.8,463.9 953.8,446.6 950.5,446.6 950.5,447.6 947.2,447.6 947.2,445.0 944.0,445.0 944.0,443.0 940.8,443.0 940.8,443.3 937.5,443.3 937.5,440.2 934.2,440.2 934.2,437.1 931.0,437.1 931.0,457.0 927.8,457.0 927.8,431.4 924.5,431.4 924.5,436.3 921.2,436.3 921.2,430.5 918.0,430.5 918.0,430.4 914.8,430.4 914.8,436.7 911.5,436.7 911.5,433.8 908.2,433.8 908.2,450.9 905.0,450.9 905.0,436.6 901.8,436.6 901.8,449.4 898.5,449.4 898.5,455.7 895.2,455.7 895.2,436.4 892.0,436.4 892.0,453.8 888.8,453.8 888.8,440.1 885.5,440.1 885.5,451.3 882.2,451.3 882.2,445.7 879.0,445.7 879.0,438.9 875.8,438.9 875.8,441.5 872.5,441.5 872.5,441.6 869.2,441.6 869.2,437.0 866.0,437.0 866.0,433.8 862.8,433.8 862.8,426.4 859.5,426.4 859.5,424.3 856.2,424.3 856.2,442.1 853.0,442.1 853.0,444.0 849.8,444.0 849.8,446.7 846.5,446.7 846.5,431.4 843.2,431.4 843.2,440.2 840.0,440.2 840.0,440.5 836.8,440.5 836.8,446.9 833.5,446.9 833.5,431.8 830.2,431.8 830.2,432.9 827.0,432.9 827.0,430.5 823.8,430.5 823.8,444.1 820.5,444.1 820.5,434.4 817.2,434.4 817.2,451.7 814.0,451.7 814.0,424.2 810.8,424.2 810.8,417.8 807.5,417.8 807.5,418.7 804.2,418.7 804.2,397.2 801.0,397.2 801.0,409.4 797.8,409.4 797.8,391.2 794.5,391.2 794.5,410.1 791.2,410.1 791.2,409.9 788.0,409.9 788.0,376.0 784.8,376.0 784.8,337.2 781.5,337.2 781.5,337.8 778.2,337.8 778.2,318.8 775.0,318.8 775.0,325.1 771.8,325.1 771.8,329.9 768.5,329.9 768.5,329.2 765.2,329.2 765.2,317.5 762.0,317.5 762.0,324.2 758.8,324.2 758.8,335.5 755.5,335.5 755.5,327.1 752.2,327.1 752.2,338.5 749.0,338.5 749.0,317.1 745.8,317.1 745.8,316.9 742.5,316.9 742.5,327.2 739.2,327.2 739.2,338.6 736.0,338.6 736.0,325.6 732.8,325.6 732.8,326.7 729.5,326.7 729.5,322.7 726.2,322.7 726.2,339.4 723.0,339.4 723.0,340.0 719.8,340.0 719.8,325.9 716.5,325.9 716.5,337.7 713.2,337.7 713.2,317.0 710.0,317.0 710.0,337.4 706.8,337.4 706.8,317.5 703.5,317.5 703.5,340.1 700.2,340.1 700.2,346.7 697.0,346.7 697.0,348.5 693.8,348.5 693.8,338.9 690.5,338.9 690.5,350.7 687.2,350.7 687.2,355.3 684.0,355.3 684.0,374.2 680.8,374.2 680.8,370.3 677.5,370.3 677.5,375.7 674.2,375.7 674.2,384.2 671.0,384.2 671.0,379.1 667.8,379.1 667.8,383.9 664.5,383.9 664.5,381.0 661.2,381.0 661.2,386.0 658.0,386.0 658.0,395.6 654.8,395.6 654.8,382.3 651.5,382.3 651.5,392.6 648.2,392.6 648.2,385.3 645.0,385.3 645.0,385.9 641.8,385.9 641.8,382.9 638.5,382.9 638.5,382.8 635.2,382.8 635.2,375.7 632.0,375.7 632.0,381.5 628.8,381.5 628.8,386.6 625.5,386.6 625.5,378.6 622.2,378.6 622.2,378.8 619.0,378.8 619.0,382.8 615.8,382.8 615.8,394.0 612.5,394.0 612.5,394.5 609.2,394.5 609.2,384.4 606.0,384.4 606.0,403.4 602.8,403.4 602.8,388.4 599.5,388.4 599.5,388.2 596.2,388.2 596.2,384.3 593.0,384.3 593.0,414.0 589.8,414.0 589.8,392.6 586.5,392.6 586.5,391.6 583.2,391.6 583.2,415.3 580.0,415.3 580.0,412.5 576.8,412.5 576.8,402.8 573.5,402.8 573.5,402.1 570.2,402.1 570.2,398.8 567.0,398.8 567.0,401.0 563.8,401.0 563.8,399.7 560.5,399.7 560.5,386.2 557.2,386.2 557.2,397.4 554.0,397.4 554.0,386.2 550.8,386.2 550.8,401.1 547.5,401.1 547.5,399.5 544.2,399.5 544.2,401.4 541.0,401.4 541.0,382.9 537.8,382.9 537.8,388.7 534.5,388.7 534.5,385.4 531.2,385.4 531.2,396.8 528.0,396.8 528.0,389.1 524.8,389.1 524.8,397.8 521.5,397.8 521.5,385.3 518.2,385.3 518.2,389.0 515.0,389.0 515.0,396.7 511.8,396.7 511.8,406.4 508.5,406.4 508.5,402.6 505.2,402.6 505.2,416.8 502.0,416.8 502.0,416.1 498.8,416.1 498.8,410.0 495.5,410.0 495.5,398.1 492.2,398.1 492.2,387.1 489.0,387.1 489.0,394.8 485.8,394.8 485.8,399.5 482.5,399.5 482.5,404.4 479.2,404.4 479.2,389.8 476.0,389.8 476.0,400.1 472.8,400.1 472.8,407.2 469.5,407.2 469.5,414.2 466.2,414.2 466.2,400.4 463.0,400.4 463.0,426.7 459.8,426.7 459.8,421.1 456.5,421.1 456.5,413.8 453.2,413.8 453.2,424.6 450.0,424.6 450.0,423.6 446.8,423.6 446.8,420.3 443.5,420.3 443.5,418.4 440.2,418.4 440.2,402.0 437.0,402.0 437.0,411.4 433.8,411.4 433.8,412.5 430.5,412.5 430.5,416.3 427.2,416.3 427.2,404.8 424.0,404.8 424.0,412.9 420.8,412.9 420.8,423.1 417.5,423.1 417.5,397.6 414.2,397.6 414.2,405.0 411.0,405.0 411.0,404.4 407.8,404.4 407.8,425.8 404.5,425.8 404.5,404.0 401.2,404.0 401.2,414.6 398.0,414.6 398.0,417.7 394.8,417.7 394.8,420.0 391.5,420.0 391.5,412.1 388.2,412.1 388.2,409.9 385.0,409.9 385.0,402.0 381.8,402.0 381.8,404.8 378.5,404.8 378.5,433.2 375.2,433.2 375.2,429.0 372.0,429.0 372.0,449.6 368.8,449.6 368.8,442.5 365.5,442.5 365.5,459.9 362.2,459.9 362.2,461.0 359.0,461.0 359.0,465.1 355.8,465.1 355.8,490.2 352.5,490.2 352.5,503.1 349.2,503.1 349.2,499.1 346.0,499.1 346.0,505.9 342.8,505.9 342.8,489.4 339.5,489.4Z" fill="#ED7D31" clip-path="url(#clip_a1)"/>
<path d="M1472.5,716 L1472.5,520" fill="none" stroke="#4472C4" stroke-width="3" stroke-linejoin="round"/>
<path d="M1472.5,482.1 1475.8,482.1 1475.8,466.6 1479.0,466.6 1479.0,469.7 1482.2,469.7 1482.2,456.8 1485.5,456.8 1485.5,451.0 1488.8,451.0 1488.8,466.3 1492.0,466.3 1492.0,452.2 1495.2,452.2 1495.2,462.1 1498.5,462.1 1498.5,460.1 1501.8,460.1 1501.8,453.9 1505.0,453.9 1505.0,454.8 1508.2,454.8 1508.2,462.2 1511.5,462.2 1511.5,458.1 1514.8,458.1 1514.8,465.4 1518.0,465.4 1518.0,457.5 1521.2,457.5 1521.2,457.9 1524.5,457.9 1524.5,459.2 1527.8,459.2 1527.8,458.2 1531.0,458.2 1531.0,460.1 1534.2,460.1 1534.2,459.9 1537.5,459.9 1537.5,453.4 1540.8,453.4 1540.8,443.7 1544.0,443.7 1544.0,431.1 1547.2,431.1 1547.2,440.5 1550.5,440.5 1550.5,445.1 1553.8,445.1 1553.8,438.7 1557.0,438.7 1557.0,441.9 1560.2,441.9 1560.2,435.3 1563.5,435.3 1563.5,442.0 1566.8,442.0 1566.8,443.5 1570.0,443.5 1570.0,438.8 1573.2,438.8 1573.2,438.7 1576.5,438.7 1576.5,439.6 1579.8,439.6 1579.8,445.9 1583.0,445.9 1583.0,442.8 1586.2,442.8 1586.2,439.6 1589.5,439.6 1589.5,443.3 1592.8,443.3 1592.8,432.7 1596.0,432.7 1596.0,430.7 1599.2,430.7 1599.2,426.6 1602.5,426.6 1602.5,418.2 1605.8,418.2 1605.8,425.7 1609.0,425.7 1609.0,418.2 1612.2,418.2 1612.2,412.0 1615.5,412.0 1615.5,396.7 1618.8,396.7 1618.8,393.1 1622.0,393.1 1622.0,396.4 1625.2,396.4 1625.2,398.6 1628.5,398.6 1628.5,384.9 1631.8,384.9 1631.8,406.2 1635.0,406.2 1635.0,393.3 1638.2,393.3 1638.2,398.2 1641.5,398.2 1641.5,405.1 1644.8,405.1 1644.8,408.7 1648.0,408.7 1648.0,407.5 1651.2,407.5 1651.2,404.8 1654.5,404.8 1654.5,408.0 1657.8,408.0 1657.8,408.7 1661.0,408.7 1661.0,409.7 1664.2,409.7 1664.2,415.4 1667.5,415.4 1667.5,407.7 1670.8,407.7 1670.8,418.4 1674.0,418.4 1674.0,421.0 1677.2,421.0 1677.2,425.6 1680.5,425.6 1680.5,425.1 1683.8,425.1 1683.8,419.3 1687.0,419.3 1687.0,428.9 1690.2,428.9 1690.2,427.9 1693.5,427.9 1693.5,431.1 1696.8,431.1 1696.8,433.0 1700.0,433.0 1700.0,436.6 1703.2,436.6 1703.2,441.2 1706.5,441.2 1706.5,436.5 1709.8,436.5 1709.8,440.9 1713.0,440.9 1713.0,441.8 1716.2,441.8 1716.2,442.0 1719.5,442.0 1719.5,439.1 1722.8,439.1 1722.8,436.3 1726.0,436.3 1726.0,439.7 1729.2,439.7 1729.2,439.1 1732.5,439.1 1732.5,436.0 1735.8,436.0 1735.8,439.2 1739.0,439.2 1739.0,431.0 1742.2,431.0 1742.2,427.6 1745.5,427.6 1745.5,429.9 1748.8,429.9 1748.8,426.9 1752.0,426.9 1752.0,423.0 1755.2,423.0 1755.2,425.4 1758.5,425.4 1758.5,417.4 1761.8,417.4 1761.8,408.5 1765.0,408.5 1765.0,402.8 1768.2,402.8 1768.2,405.3 1771.5,405.3 1771.5,403.4 1774.8,403.4 1774.8,409.7 1778.0,409.7 1778.0,412.4 1781.2,412.4 1781.2,410.4 1784.5,410.4 1784.5,413.0 1787.8,413.0 1787.8,416.5 1791.0,416.5 1791.0,418.7 1794.2,418.7 1794.2,419.6 1797.5,419.6 1797.5,418.8 1800.8,418.8 1800.8,408.4 1804.0,408.4 1804.0,416.7 1807.2,416.7 1807.2,408.6 1810.5,408.6 1810.5,411.9 1813.8,411.9 1813.8,409.3 1817.0,409.3 1817.0,407.3 1820.2,407.3 1820.2,403.8 1823.5,403.8 1823.5,409.4 1826.8,409.4 1826.8,417.4 1830.0,417.4 1830.0,416.1 1833.2,416.1 1833.2,416.5 1836.5,416.5 1836.5,415.7 1839.8,415.7 1839.8,421.6 1843.0,421.6 1843.0,412.4 1846.2,412.4 1846.2,425.7 1849.5,425.7 1849.5,414.0 1852.8,414.0 1852.8,424.1 1856.0,424.1 1856.0,424.1 1859.2,424.1 1859.2,421.1 1862.5,421.1 1862.5,413.6 1865.8,413.6 1865.8,412.5 1869.0,412.5 1869.0,417.3 1872.2,417.3 1872.2,416.3 1875.5,416.3 1875.5,413.6 1878.8,413.6 1878.8,422.0 1882.0,422.0 1882.0,416.1 1885.2,416.1 1885.2,421.6 1888.5,421.6 1888.5,416.7 1891.8,416.7 1891.8,417.7 1895.0,417.7 1895.0,418.4 1898.2,418.4 1898.2,416.7 1901.5,416.7 1901.5,413.8 1904.8,413.8 1904.8,420.1 1908.0,420.1 1908.0,415.5 1911.2,415.5 1911.2,418.6 1914.5,418.6 1914.5,422.3 1917.8,422.3 1917.8,416.8 1921.0,416.8 1921.0,412.2 1924.2,412.2 1924.2,424.5 1927.5,424.5 1927.5,421.7 1930.8,421.7 1930.8,422.7 1934.0,422.7 1934.0,422.9 1937.2,422.9 1937.2,416.3 1940.5,416.3 1940.5,415.8 1943.8,415.8 1943.8,415.0 1947.0,415.0 1947.0,418.0 1950.2,418.0 1950.2,415.3 1953.5,415.3 1953.5,408.4 1956.8,408.4 1956.8,413.6 1960.0,413.6 1960.0,419.8 1963.2,419.8 1963.2,415.9 1966.5,415.9 1966.5,412.6 1969.8,412.6 1969.8,416.4 1973.0,416.4 1973.0,412.7 1976.2,412.7 1976.2,425.3 1979.5,425.3 1979.5,424.6 1982.8,424.6 1982.8,417.0 1986.0,417.0 1986.0,415.6 1989.2,415.6 1989.2,416.8 1992.5,416.8 1992.5,426.3 1995.8,426.3 1995.8,428.2 1999.0,428.2 1999.0,426.4 2002.2,426.4 2002.2,419.9 2005.5,419.9 2005.5,418.2 2008.8,418.2 2008.8,409.3 2012.0,409.3 2012.0,411.9 2015.2,411.9 2015.2,420.2 2018.5,420.2 2018.5,410.6 2021.8,410.6 2021.8,419.2 2025.0,419.2 2025.0,413.4 2028.2,413.4 2028.2,406.5 2031.5,406.5 2031.5,405.3 2034.8,405.3 2034.8,396.4 2038.0,396.4 2038.0,406.6 2041.2,406.6 2041.2,399.2 2044.5,399.2 2044.5,405.5 2047.8,405.5 2047.8,393.1 2051.0,393.1 2051.0,397.6 2054.2,397.6 2054.2,395.3 2057.5,395.3 2057.5,403.1 2060.8,403.1 2060.8,409.1 2064.0,409.1 2064.0,406.5 2067.2,406.5 2067.2,412.1 2070.5,412.1 2070.5,404.3 2073.8,404.3 2073.8,407.9 2077.0,407.9 2077.0,400.0 2080.2,400.0 2080.2,410.3 2083.5,410.3 2083.5,406.6 2086.8,406.6 2086.8,409.6 2090.0,409.6 2090.0,404.3 2093.2,404.3 2093.2,403.2 2096.5,403.2 2096.5,400.9 2099.8,400.9 2099.8,400.1 2103.0,400.1 2103.0,391.4 2106.2,391.4 2106.2,397.8 2109.5,397.8 2109.5,402.0 2112.8,402.0 2112.8,398.1 2116.0,398.1 2116.0,389.0 2119.2,389.0 2119.2,398.5 2122.5,398.5 2122.5,405.7 2125.8,405.7 2125.8,397.2 2129.0,397.2 2129.0,409.3 2132.2,409.3 2132.2,397.7 2135.5,397.7 2135.5,396.0 2138.8,396.0 2138.8,410.8 2142.0,410.8 2142.0,403.4 2145.2,403.4 2145.2,406.3 2148.5,406.3 2148.5,404.2 2151.8,404.2 2151.8,392.5 2155.0,392.5 2155.0,386.7 2158.2,386.7 2158.2,399.1 2161.5,399.1 2161.5,401.0 2164.8,401.0 2164.8,388.6 2168.0,388.6 2168.0,392.0 2171.2,392.0 2171.2,391.8 2174.5,391.8 2174.5,386.6 2177.8,386.6 2177.8,383.8 2181.0,383.8 2181.0,378.4 2184.2,378.4 2184.2,384.6 2187.5,384.6 2187.5,381.7 2190.8,381.7 2190.8,372.9 2194.0,372.9 2194.0,388.0 2197.2,388.0 2197.2,383.0 2200.5,383.0 2200.5,379.3 2203.8,379.3 2203.8,389.4 2207.0,389.4 2207.0,390.4 2210.2,390.4 2210.2,389.6 2213.5,389.6 2213.5,384.4 2216.8,384.4 2216.8,384.8 2220.0,384.8 2220.0,393.7 2223.2,393.7 2223.2,380.9 2226.5,380.9 2226.5,381.6 2229.8,381.6 2229.8,386.3 2233.0,386.3 2233.0,384.6 2236.2,384.6 2236.2,397.4 2239.5,397.4 2239.5,388.8 2242.8,388.8 2242.8,389.3 2246.0,389.3 2246.0,400.4 2249.2,400.4 2249.2,386.5 2252.5,386.5 2252.5,395.0 2255.8,395.0 2255.8,394.3 2259.0,394.3 2259.0,396.8 2262.2,396.8 2262.2,394.6 2265.5,394.6 2265.5,391.3 2268.8,391.3 2268.8,386.4 2272.0,386.4 2272.0,387.4 2275.2,387.4 2275.2,377.7 2278.5,377.7 2278.5,372.3 2281.8,372.3 2281.8,374.3 2285.0,374.3 2285.0,381.9 2288.2,381.9 2288.2,380.3 2291.5,380.3 2291.5,372.2 2294.8,372.2 2294.8,376.8 2298.0,376.8 2298.0,359.1 2301.2,359.1 2301.2,362.1 2304.5,362.1 2304.5,359.0 2307.8,359.0 2307.8,366.0 2311.0,366.0 2311.0,360.1 2314.2,360.1 2314.2,361.4 2317.5,361.4 2317.5,355.7 2320.8,355.7 2320.8,352.3 2324.0,352.3 2324.0,348.9 2327.2,348.9 2327.2,346.8 2330.5,346.8 2330.5,345.6 2333.8,345.6 2333.8,347.7 2337.0,347.7 2337.0,339.8 2340.2,339.8 2340.2,334.9 2343.5,334.9 2343.5,333.4 2346.8,333.4 2346.8,337.7 2350.0,337.7 2350.0,332.0 2353.2,332.0 2353.2,333.5 2356.5,333.5 2356.5,332.6 2359.8,332.6 2359.8,337.6 2363.0,337.6 2363.0,336.8 2366.2,336.8 2366.2,344.0 2369.5,344.0 2369.5,349.2 2372.8,349.2 2372.8,348.3 2376.0,348.3 2376.0,347.1 2379.2,347.1 2379.2,353.5 2382.5,353.5 2382.5,354.5 2385.8,354.5 2385.8,351.9 2389.0,351.9 2389.0,356.6 2392.2,356.6 2392.2,361.6 2395.5,361.6 2395.5,363.6 2398.0,363.6 2398.0,397.4 2395.5,397.4 2395.5,396.6 2392.2,396.6 2392.2,393.5 2389.0,393.5 2389.0,393.4 2385.8,393.4 2385.8,390.1 2382.5,390.1 2382.5,383.8 2379.2,383.8 2379.2,383.7 2376.0,383.7 2376.0,382.2 2372.8,382.2 2372.8,374.5 2369.5,374.5 2369.5,374.7 2366.2,374.7 2366.2,369.4 2363.0,369.4 2363.0,368.2 2359.8,368.2 2359.8,369.2 2356.5,369.2 2356.5,369.9 2353.2,369.9 2353.2,373.4 2350.0,373.4 2350.0,386.6 2346.8,386.6 2346.8,389.4 2343.5,389.4 2343.5,412.3 2340.2,412.3 2340.2,405.6 2337.0,405.6 2337.0,408.4 2333.8,408.4 2333.8,409.6 2330.5,409.6 2330.5,416.4 2327.2,416.4 2327.2,416.2 2324.0,416.2 2324.0,425.9 2320.8,425.9 2320.8,427.8 2317.5,427.8 2317.5,434.5 2314.2,434.5 2314.2,439.7 2311.0,439.7 2311.0,439.4 2307.8,439.4 2307.8,424.7 2304.5,424.7 2304.5,433.3 2301.2,433.3 2301.2,426.7 2298.0,426.7 2298.0,436.6 2294.8,436.6 2294.8,438.1 2291.5,438.1 2291.5,441.1 2288.2,441.1 2288.2,436.3 2285.0,436.3 2285.0,433.0 2281.8,433.0 2281.8,430.9 2278.5,430.9 2278.5,432.4 2275.2,432.4 2275.2,429.8 2272.0,429.8 2272.0,433.6 2268.8,433.6 2268.8,436.1 2265.5,436.1 2265.5,440.9 2262.2,440.9 2262.2,445.0 2259.0,445.0 2259.0,439.4 2255.8,439.4 2255.8,435.7 2252.5,435.7 2252.5,441.9 2249.2,441.9 2249.2,437.7 2246.0,437.7 2246.0,437.9 2242.8,437.9 2242.8,430.2 2239.5,430.2 2239.5,434.5 2236.2,434.5 2236.2,446.3 2233.0,446.3 2233.0,433.5 2229.8,433.5 2229.8,437.0 2226.5,437.0 2226.5,432.0 2223.2,432.0 2223.2,441.4 2220.0,441.4 2220.0,445.1 2216.8,445.1 2216.8,443.9 2213.5,443.9 2213.5,446.2 2210.2,446.2 2210.2,443.9 2207.0,443.9 2207.0,448.7 2203.8,448.7 2203.8,448.9 2200.5,448.9 2200.5,437.0 2197.2,437.0 2197.2,447.9 2194.0,447.9 2194.0,447.4 2190.8,447.4 2190.8,443.7 2187.5,443.7 2187.5,443.3 2184.2,443.3 2184.2,454.6 2181.0,454.6 2181.0,439.7 2177.8,439.7 2177.8,448.3 2174.5,448.3 2174.5,442.0 2171.2,442.0 2171.2,451.8 2168.0,451.8 2168.0,448.5 2164.8,448.5 2164.8,445.9 2161.5,445.9 2161.5,451.5 2158.2,451.5 2158.2,454.9 2155.0,454.9 2155.0,460.5 2151.8,460.5 2151.8,464.4 2148.5,464.4 2148.5,455.8 2145.2,455.8 2145.2,454.0 2142.0,454.0 2142.0,460.8 2138.8,460.8 2138.8,461.2 2135.5,461.2 2135.5,470.7 2132.2,470.7 2132.2,458.5 2129.0,458.5 2129.0,458.3 2125.8,458.3 2125.8,460.3 2122.5,460.3 2122.5,461.3 2119.2,461.3 2119.2,454.1 2116.0,454.1 2116.0,462.8 2112.8,462.8 2112.8,454.1 2109.5,454.1 2109.5,454.8 2106.2,454.8 2106.2,461.4 2103.0,461.4 2103.0,468.2 2099.8,468.2 2099.8,463.3 2096.5,463.3 2096.5,464.7 2093.2,464.7 2093.2,455.5 2090.0,455.5 2090.0,455.3 2086.8,455.3 2086.8,464.4 2083.5,464.4 2083.5,465.1 2080.2,465.1 2080.2,461.5 2077.0,461.5 2077.0,475.2 2073.8,475.2 2073.8,469.2 2070.5,469.2 2070.5,485.4 2067.2,485.4 2067.2,467.6 2064.0,467.6 2064.0,485.1 2060.8,485.1 2060.8,487.6 2057.5,487.6 2057.5,486.6 2054.2,486.6 2054.2,467.1 2051.0,467.1 2051.0,483.4 2047.8,483.4 2047.8,484.4 2044.5,484.4 2044.5,470.3 2041.2,470.3 2041.2,481.5 2038.0,481.5 2038.0,471.0 2034.8,471.0 2034.8,469.9 2031.5,469.9 2031.5,475.4 2028.2,475.4 2028.2,466.8 2025.0,466.8 2025.0,472.2 2021.8,472.2 2021.8,479.8 2018.5,479.8 2018.5,470.5 2015.2,470.5 2015.2,468.2 2012.0,468.2 2012.0,479.1 2008.8,479.1 2008.8,477.7 2005.5,477.7 2005.5,473.0 2002.2,473.0 2002.2,476.2 1999.0,476.2 1999.0,466.6 1995.8,466.6 1995.8,469.0 1992.5,469.0 1992.5,476.9 1989.2,476.9 1989.2,474.4 1986.0,474.4 1986.0,480.6 1982.8,480.6 1982.8,478.1 1979.5,478.1 1979.5,472.8 1976.2,472.8 1976.2,470.5 1973.0,470.5 1973.0,482.2 1969.8,482.2 1969.8,469.3 1966.5,469.3 1966.5,472.8 1963.2,472.8 1963.2,467.6 1960.0,467.6 1960.0,469.3 1956.8,469.3 1956.8,468.3 1953.5,468.3 1953.5,467.2 1950.2,467.2 1950.2,468.2 1947.0,468.2 1947.0,468.0 1943.8,468.0 1943.8,472.7 1940.5,472.7 1940.5,465.3 1937.2,465.3 1937.2,465.6 1934.0,465.6 1934.0,464.6 1930.8,464.6 1930.8,473.0 1927.5,473.0 1927.5,465.2 1924.2,465.2 1924.2,471.5 1921.0,471.5 1921.0,465.2 1917.8,465.2 1917.8,469.4 1914.5,469.4 1914.5,474.7 1911.2,474.7 1911.2,471.8 1908.0,471.8 1908.0,464.4 1904.8,464.4 1904.8,462.5 1901.5,462.5 1901.5,471.1 1898.2,471.1 1898.2,463.5 1895.0,463.5 1895.0,462.2 1891.8,462.2 1891.8,466.9 1888.5,466.9 1888.5,469.0 1885.2,469.0 1885.2,465.2 1882.0,465.2 1882.0,474.3 1878.8,474.3 1878.8,472.2 1875.5,472.2 1875.5,473.7 1872.2,473.7 1872.2,472.6 1869.0,472.6 1869.0,465.8 1865.8,465.8 1865.8,469.4 1862.5,469.4 1862.5,467.6 1859.2,467.6 1859.2,474.2 1856.0,474.2 1856.0,464.8 1852.8,464.8 1852.8,466.0 1849.5,466.0 1849.5,467.8 1846.2,467.8 1846.2,465.7 1843.0,465.7 1843.0,465.8 1839.8,465.8 1839.8,470.3 1836.5,470.3 1836.5,463.7 1833.2,463.7 1833.2,454.4 1830.0,454.4 1830.0,452.3 1826.8,452.3 1826.8,451.9 1823.5,451.9 1823.5,449.1 1820.2,449.1 1820.2,451.1 1817.0,451.1 1817.0,442.4 1813.8,442.4 1813.8,441.4 1810.5,441.4 1810.5,445.6 1807.2,445.6 1807.2,438.3 1804.0,438.3 1804.0,439.6 1800.8,439.6 1800.8,441.5 1797.5,441.5 1797.5,435.3 1794.2,435.3 1794.2,438.0 1791.0,438.0 1791.0,438.3 1787.8,438.3 1787.8,443.1 1784.5,443.1 1784.5,448.9 1781.2,448.9 1781.2,457.9 1778.0,457.9 1778.0,453.2 1774.8,453.2 1774.8,459.5 1771.5,459.5 1771.5,470.7 1768.2,470.7 1768.2,477.4 1765.0,477.4 1765.0,468.6 1761.8,468.6 1761.8,470.3 1758.5,470.3 1758.5,476.8 1755.2,476.8 1755.2,473.5 1752.0,473.5 1752.0,465.2 1748.8,465.2 1748.8,468.4 1745.5,468.4 1745.5,466.9 1742.2,466.9 1742.2,465.7 1739.0,465.7 1739.0,467.4 1735.8,467.4 1735.8,469.2 1732.5,469.2 1732.5,466.3 1729.2,466.3 1729.2,472.8 1726.0,472.8 1726.0,472.5 1722.8,472.5 1722.8,467.2 1719.5,467.2 1719.5,466.9 1716.2,466.9 1716.2,467.2 1713.0,467.2 1713.0,466.0 1709.8,466.0 1709.8,464.5 1706.5,464.5 1706.5,465.2 1703.2,465.2 1703.2,466.4 1700.0,466.4 1700.0,458.5 1696.8,458.5 1696.8,462.7 1693.5,462.7 1693.5,459.8 1690.2,459.8 1690.2,463.2 1687.0,463.2 1687.0,458.5 1683.8,458.5 1683.8,465.0 1680.5,465.0 1680.5,472.6 1677.2,472.6 1677.2,474.3 1674.0,474.3 1674.0,465.7 1670.8,465.7 1670.8,466.1 1667.5,466.1 1667.5,476.2 1664.2,476.2 1664.2,478.3 1661.0,478.3 1661.0,479.6 1657.8,479.6 1657.8,478.2 1654.5,478.2 1654.5,484.4 1651.2,484.4 1651.2,470.3 1648.0,470.3 1648.0,479.3 1644.8,479.3 1644.8,470.2 1641.5,470.2 1641.5,475.6 1638.2,475.6 1638.2,478.1 1635.0,478.1 1635.0,470.6 1631.8,470.6 1631.8,476.0 1628.5,476.0 1628.5,479.8 1625.2,479.8 1625.2,488.6 1622.0,488.6 1622.0,469.8 1618.8,469.8 1618.8,473.1 1615.5,473.1 1615.5,469.8 1612.2,469.8 1612.2,479.3 1609.0,479.3 1609.0,472.1 1605.8,472.1 1605.8,475.9 1602.5,475.9 1602.5,473.9 1599.2,473.9 1599.2,468.3 1596.0,468.3 1596.0,467.6 1592.8,467.6 1592.8,467.3 1589.5,467.3 1589.5,466.9 1586.2,466.9 1586.2,467.2 1583.0,467.2 1583.0,468.0 1579.8,468.0 1579.8,461.8 1576.5,461.8 1576.5,464.7 1573.2,464.7 1573.2,466.5 1570.0,466.5 1570.0,462.1 1566.8,462.1 1566.8,467.0 1563.5,467.0 1563.5,470.2 1560.2,470.2 1560.2,466.1 1557.0,466.1 1557.0,468.4 1553.8,468.4 1553.8,478.4 1550.5,478.4 1550.5,476.2 1547.2,476.2 1547.2,482.6 1544.0,482.6 1544.0,496.9 1540.8,496.9 1540.8,497.1 1537.5,497.1 1537.5,492.7 1534.2,492.7 1534.2,502.1 1531.0,502.1 1531.0,499.1 1527.8,499.1 1527.8,500.1 1524.5,500.1 1524.5,503.2 1521.2,503.2 1521.2,497.9 1518.0,497.9 1518.0,498.2 1514.8,498.2 1514.8,495.1 1511.5,495.1 1511.5,502.0 1508.2,502.0 1508.2,503.8 1505.0,503.8 1505.0,496.3 1501.8,496.3 1501.8,501.9 1498.5,501.9 1498.5,509.0 1495.2,509.0 1495.2,501.1 1492.0,501.1 1492.0,504.9 1488.8,504.9 1488.8,514.0 1485.5,514.0 1485.5,511.4 1482.2,511.4 1482.2,518.8 1479.0,518.8 1479.0,524.8 1475.8,524.8 1475.8,525.1 1472.5,525.1Z" fill="#4472C4" clip-path="url(#clip_a2)"/>
<path d="M1472.5,716 L1472.5,450" fill="none" stroke="#ED7D31" stroke-width="3" stroke-linejoin="round" opacity="0.8"/>
<path d="M1472.5,450.1 1475.8,450.1 1475.8,415.9 1479.0,415.9 1479.0,393.0 1482.2,393.0 1482.2,397.5 1485.5,397.5 1485.5,391.9 1488.8,391.9 1488.8,389.6 1492.0,389.6 1492.0,386.0 1495.2,386.0 1495.2,399.3 1498.5,399.3 1498.5,384.0 1501.8,384.0 1501.8,388.5 1505.0,388.5 1505.0,398.2 1508.2,398.2 1508.2,391.7 1511.5,391.7 1511.5,394.6 1514.8,394.6 1514.8,390.2 1518.0,390.2 1518.0,400.8 1521.2,400.8 1521.2,394.8 1524.5,394.8 1524.5,397.7 1527.8,397.7 1527.8,396.6 1531.0,396.6 1531.0,404.0 1534.2,404.0 1534.2,394.8 1537.5,394.8 1537.5,401.7 1540.8,401.7 1540.8,391.3 1544.0,391.3 1544.0,387.7 1547.2,387.7 1547.2,396.4 1550.5,396.4 1550.5,397.4 1553.8,397.4 1553.8,394.4 1557.0,394.4 1557.0,397.1 1560.2,397.1 1560.2,396.4 1563.5,396.4 1563.5,384.1 1566.8,384.1 1566.8,391.2 1570.0,391.2 1570.0,379.3 1573.2,379.3 1573.2,379.6 1576.5,379.6 1576.5,389.3 1579.8,389.3 1579.8,391.9 1583.0,391.9 1583.0,380.4 1586.2,380.4 1586.2,391.9 1589.5,391.9 1589.5,384.1 1592.8,384.1 1592.8,381.8 1596.0,381.8 1596.0,384.2 1599.2,384.2 1599.2,377.6 1602.5,377.6 1602.5,385.7 1605.8,385.7 1605.8,378.7 1609.0,378.7 1609.0,370.8 1612.2,370.8 1612.2,354.6 1615.5,354.6 1615.5,355.5 1618.8,355.5 1618.8,347.9 1622.0,347.9 1622.0,349.8 1625.2,349.8 1625.2,351.5 1628.5,351.5 1628.5,344.2 1631.8,344.2 1631.8,340.0 1635.0,340.0 1635.0,356.6 1638.2,356.6 1638.2,338.3 1641.5,338.3 1641.5,356.4 1644.8,356.4 1644.8,343.7 1648.0,343.7 1648.0,361.3 1651.2,361.3 1651.2,360.5 1654.5,360.5 1654.5,358.0 1657.8,358.0 1657.8,357.8 1661.0,357.8 1661.0,357.4 1664.2,357.4 1664.2,369.8 1667.5,369.8 1667.5,369.5 1670.8,369.5 1670.8,370.7 1674.0,370.7 1674.0,365.1 1677.2,365.1 1677.2,370.3 1680.5,370.3 1680.5,370.0 1683.8,370.0 1683.8,361.9 1687.0,361.9 1687.0,379.6 1690.2,379.6 1690.2,365.6 1693.5,365.6 1693.5,373.3 1696.8,373.3 1696.8,386.2 1700.0,386.2 1700.0,390.7 1703.2,390.7 1703.2,394.0 1706.5,394.0 1706.5,401.4 1709.8,401.4 1709.8,403.0 1713.0,403.0 1713.0,412.6 1716.2,412.6 1716.2,409.7 1719.5,409.7 1719.5,407.5 1722.8,407.5 1722.8,402.6 1726.0,402.6 1726.0,399.4 1729.2,399.4 1729.2,401.2 1732.5,401.2 1732.5,397.0 1735.8,397.0 1735.8,392.3 1739.0,392.3 1739.0,388.8 1742.2,388.8 1742.2,386.2 1745.5,386.2 1745.5,376.6 1748.8,376.6 1748.8,380.7 1752.0,380.7 1752.0,368.5 1755.2,368.5 1755.2,366.1 1758.5,366.1 1758.5,359.6 1761.8,359.6 1761.8,358.4 1765.0,358.4 1765.0,338.7 1768.2,338.7 1768.2,337.9 1771.5,337.9 1771.5,357.3 1774.8,357.3 1774.8,355.0 1778.0,355.0 1778.0,356.5 1781.2,356.5 1781.2,353.5 1784.5,353.5 1784.5,358.1 1787.8,358.1 1787.8,341.9 1791.0,341.9 1791.0,342.8 1794.2,342.8 1794.2,353.0 1797.5,353.0 1797.5,339.7 1800.8,339.7 1800.8,359.4 1804.0,359.4 1804.0,344.9 1807.2,344.9 1807.2,355.2 1810.5,355.2 1810.5,356.7 1813.8,356.7 1813.8,354.8 1817.0,354.8 1817.0,343.0 1820.2,343.0 1820.2,352.3 1823.5,352.3 1823.5,350.4 1826.8,350.4 1826.8,347.4 1830.0,347.4 1830.0,328.9 1833.2,328.9 1833.2,343.4 1836.5,343.4 1836.5,349.8 1839.8,349.8 1839.8,343.2 1843.0,343.2 1843.0,334.8 1846.2,334.8 1846.2,340.3 1849.5,340.3 1849.5,346.3 1852.8,346.3 1852.8,341.9 1856.0,341.9 1856.0,350.6 1859.2,350.6 1859.2,340.9 1862.5,340.9 1862.5,352.0 1865.8,352.0 1865.8,347.3 1869.0,347.3 1869.0,340.5 1872.2,340.5 1872.2,328.1 1875.5,328.1 1875.5,320.7 1878.8,320.7 1878.8,331.6 1882.0,331.6 1882.0,315.8 1885.2,315.8 1885.2,322.5 1888.5,322.5 1888.5,334.8 1891.8,334.8 1891.8,340.2 1895.0,340.2 1895.0,354.6 1898.2,354.6 1898.2,345.0 1901.5,345.0 1901.5,351.9 1904.8,351.9 1904.8,352.9 1908.0,352.9 1908.0,351.9 1911.2,351.9 1911.2,347.4 1914.5,347.4 1914.5,344.7 1917.8,344.7 1917.8,362.4 1921.0,362.4 1921.0,345.4 1924.2,345.4 1924.2,352.5 1927.5,352.5 1927.5,356.3 1930.8,356.3 1930.8,342.0 1934.0,342.0 1934.0,331.5 1937.2,331.5 1937.2,345.2 1940.5,345.2 1940.5,331.4 1943.8,331.4 1943.8,332.8 1947.0,332.8 1947.0,317.1 1950.2,317.1 1950.2,333.3 1953.5,333.3 1953.5,343.7 1956.8,343.7 1956.8,340.7 1960.0,340.7 1960.0,348.8 1963.2,348.8 1963.2,355.2 1966.5,355.2 1966.5,341.5 1969.8,341.5 1969.8,352.2 1973.0,352.2 1973.0,354.2 1976.2,354.2 1976.2,362.0 1979.5,362.0 1979.5,364.4 1982.8,364.4 1982.8,363.2 1986.0,363.2 1986.0,346.5 1989.2,346.5 1989.2,357.2 1992.5,357.2 1992.5,361.1 1995.8,361.1 1995.8,360.1 1999.0,360.1 1999.0,346.0 2002.2,346.0 2002.2,356.0 2005.5,356.0 2005.5,360.4 2008.8,360.4 2008.8,349.4 2012.0,349.4 2012.0,357.1 2015.2,357.1 2015.2,359.1 2018.5,359.1 2018.5,357.8 2021.8,357.8 2021.8,362.0 2025.0,362.0 2025.0,354.1 2028.2,354.1 2028.2,355.3 2031.5,355.3 2031.5,344.7 2034.8,344.7 2034.8,344.9 2038.0,344.9 2038.0,349.4 2041.2,349.4 2041.2,339.7 2044.5,339.7 2044.5,326.9 2047.8,326.9 2047.8,336.1 2051.0,336.1 2051.0,330.6 2054.2,330.6 2054.2,333.4 2057.5,333.4 2057.5,341.2 2060.8,341.2 2060.8,334.2 2064.0,334.2 2064.0,348.0 2067.2,348.0 2067.2,333.7 2070.5,333.7 2070.5,327.2 2073.8,327.2 2073.8,327.9 2077.0,327.9 2077.0,337.3 2080.2,337.3 2080.2,333.3 2083.5,333.3 2083.5,323.1 2086.8,323.1 2086.8,326.9 2090.0,326.9 2090.0,318.5 2093.2,318.5 2093.2,307.6 2096.5,307.6 2096.5,297.7 2099.8,297.7 2099.8,293.9 2103.0,293.9 2103.0,305.9 2106.2,305.9 2106.2,303.9 2109.5,303.9 2109.5,293.0 2112.8,293.0 2112.8,300.6 2116.0,300.6 2116.0,303.8 2119.2,303.8 2119.2,319.0 2122.5,319.0 2122.5,315.0 2125.8,315.0 2125.8,314.9 2129.0,314.9 2129.0,303.1 2132.2,303.1 2132.2,304.1 2135.5,304.1 2135.5,300.8 2138.8,300.8 2138.8,298.6 2142.0,298.6 2142.0,273.7 2145.2,273.7 2145.2,285.0 2148.5,285.0 2148.5,287.2 2151.8,287.2 2151.8,287.8 2155.0,287.8 2155.0,281.7 2158.2,281.7 2158.2,279.9 2161.5,279.9 2161.5,255.3 2164.8,255.3 2164.8,257.2 2168.0,257.2 2168.0,261.1 2171.2,261.1 2171.2,277.5 2174.5,277.5 2174.5,283.5 2177.8,283.5 2177.8,289.9 2181.0,289.9 2181.0,280.6 2184.2,280.6 2184.2,279.2 2187.5,279.2 2187.5,296.9 2190.8,296.9 2190.8,302.2 2194.0,302.2 2194.0,294.2 2197.2,294.2 2197.2,297.8 2200.5,297.8 2200.5,304.2 2203.8,304.2 2203.8,293.0 2207.0,293.0 2207.0,308.5 2210.2,308.5 2210.2,306.0 2213.5,306.0 2213.5,314.3 2216.8,314.3 2216.8,303.3 2220.0,303.3 2220.0,290.4 2223.2,290.4 2223.2,293.9 2226.5,293.9 2226.5,277.4 2229.8,277.4 2229.8,276.6 2233.0,276.6 2233.0,268.0 2236.2,268.0 2236.2,266.2 2239.5,266.2 2239.5,283.6 2242.8,283.6 2242.8,281.3 2246.0,281.3 2246.0,263.8 2249.2,263.8 2249.2,264.7 2252.5,264.7 2252.5,267.9 2255.8,267.9 2255.8,264.9 2259.0,264.9 2259.0,264.1 2262.2,264.1 2262.2,277.9 2265.5,277.9 2265.5,269.5 2268.8,269.5 2268.8,261.8 2272.0,261.8 2272.0,259.3 2275.2,259.3 2275.2,257.1 2278.5,257.1 2278.5,248.1 2281.8,248.1 2281.8,253.3 2285.0,253.3 2285.0,259.0 2288.2,259.0 2288.2,242.3 2291.5,242.3 2291.5,251.2 2294.8,251.2 2294.8,237.5 2298.0,237.5 2298.0,236.9 2301.2,236.9 2301.2,223.7 2304.5,223.7 2304.5,234.2 2307.8,234.2 2307.8,216.1 2311.0,216.1 2311.0,223.2 2314.2,223.2 2314.2,216.5 2317.5,216.5 2317.5,230.5 2320.8,230.5 2320.8,222.2 2324.0,222.2 2324.0,227.8 2327.2,227.8 2327.2,229.0 2330.5,229.0 2330.5,230.0 2333.8,230.0 2333.8,223.3 2337.0,223.3 2337.0,237.1 2340.2,237.1 2340.2,241.2 2343.5,241.2 2343.5,228.6 2346.8,228.6 2346.8,243.0 2350.0,243.0 2350.0,253.9 2353.2,253.9 2353.2,252.1 2356.5,252.1 2356.5,253.9 2359.8,253.9 2359.8,242.6 2363.0,242.6 2363.0,228.7 2366.2,228.7 2366.2,235.6 2369.5,235.6 2369.5,258.5 2372.8,258.5 2372.8,259.8 2376.0,259.8 2376.0,246.5 2379.2,246.5 2379.2,273.1 2382.5,273.1 2382.5,268.5 2385.8,268.5 2385.8,279.7 2389.0,279.7 2389.0,295.8 2392.2,295.8 2392.2,304.6 2395.5,304.6 2395.5,292.7 2398.0,292.7 2398.0,380.0 2395.5,380.0 2395.5,365.1 2392.2,365.1 2392.2,353.5 2389.0,353.5 2389.0,351.9 2385.8,351.9 2385.8,352.9 2382.5,352.9 2382.5,361.5 2379.2,361.5 2379.2,359.6 2376.0,359.6 2376.0,350.6 2372.8,350.6 2372.8,338.2 2369.5,338.2 2369.5,351.4 2366.2,351.4 2366.2,348.4 2363.0,348.4 2363.0,352.1 2359.8,352.1 2359.8,342.6 2356.5,342.6 2356.5,322.3 2353.2,322.3 2353.2,322.4 2350.0,322.4 2350.0,330.8 2346.8,330.8 2346.8,315.9 2343.5,315.9 2343.5,331.0 2340.2,331.0 2340.2,313.9 2337.0,313.9 2337.0,309.7 2333.8,309.7 2333.8,305.6 2330.5,305.6 2330.5,304.7 2327.2,304.7 2327.2,291.4 2324.0,291.4 2324.0,319.4 2320.8,319.4 2320.8,315.1 2317.5,315.1 2317.5,316.9 2314.2,316.9 2314.2,315.7 2311.0,315.7 2311.0,326.6 2307.8,326.6 2307.8,320.1 2304.5,320.1 2304.5,319.7 2301.2,319.7 2301.2,328.8 2298.0,328.8 2298.0,341.3 2294.8,341.3 2294.8,325.5 2291.5,325.5 2291.5,337.9 2288.2,337.9 2288.2,340.7 2285.0,340.7 2285.0,343.3 2281.8,343.3 2281.8,332.4 2278.5,332.4 2278.5,344.4 2275.2,344.4 2275.2,349.5 2272.0,349.5 2272.0,336.9 2268.8,336.9 2268.8,337.2 2265.5,337.2 2265.5,347.7 2262.2,347.7 2262.2,360.0 2259.0,360.0 2259.0,346.9 2255.8,346.9 2255.8,349.7 2252.5,349.7 2252.5,356.9 2249.2,356.9 2249.2,351.9 2246.0,351.9 2246.0,363.0 2242.8,363.0 2242.8,379.4 2239.5,379.4 2239.5,361.5 2236.2,361.5 2236.2,366.4 2233.0,366.4 2233.0,374.0 2229.8,374.0 2229.8,355.9 2226.5,355.9 2226.5,360.3 2223.2,360.3 2223.2,359.9 2220.0,359.9 2220.0,368.9 2216.8,368.9 2216.8,367.0 2213.5,367.0 2213.5,375.3 2210.2,375.3 2210.2,368.1 2207.0,368.1 2207.0,352.8 2203.8,352.8 2203.8,367.5 2200.5,367.5 2200.5,353.6 2197.2,353.6 2197.2,357.3 2194.0,357.3 2194.0,356.2 2190.8,356.2 2190.8,357.1 2187.5,357.1 2187.5,365.0 2184.2,365.0 2184.2,354.0 2181.0,354.0 2181.0,368.4 2177.8,368.4 2177.8,378.9 2174.5,378.9 2174.5,377.3 2171.2,377.3 2171.2,383.5 2168.0,383.5 2168.0,376.2 2164.8,376.2 2164.8,384.7 2161.5,384.7 2161.5,367.6 2158.2,367.6 2158.2,374.9 2155.0,374.9 2155.0,374.0 2151.8,374.0 2151.8,386.6 2148.5,386.6 2148.5,378.2 2145.2,378.2 2145.2,367.1 2142.0,367.1 2142.0,382.4 2138.8,382.4 2138.8,372.3 2135.5,372.3 2135.5,372.2 2132.2,372.2 2132.2,377.0 2129.0,377.0 2129.0,373.9 2125.8,373.9 2125.8,379.7 2122.5,379.7 2122.5,375.8 2119.2,375.8 2119.2,376.3 2116.0,376.3 2116.0,364.0 2112.8,364.0 2112.8,379.5 2109.5,379.5 2109.5,370.3 2106.2,370.3 2106.2,383.5 2103.0,383.5 2103.0,388.5 2099.8,388.5 2099.8,391.8 2096.5,391.8 2096.5,381.9 2093.2,381.9 2093.2,389.2 2090.0,389.2 2090.0,397.5 2086.8,397.5 2086.8,389.9 2083.5,389.9 2083.5,408.2 2080.2,408.2 2080.2,406.2 2077.0,406.2 2077.0,409.7 2073.8,409.7 2073.8,402.6 2070.5,402.6 2070.5,396.9 2067.2,396.9 2067.2,400.5 2064.0,400.5 2064.0,397.6 2060.8,397.6 2060.8,400.9 2057.5,400.9 2057.5,390.4 2054.2,390.4 2054.2,401.9 2051.0,401.9 2051.0,403.8 2047.8,403.8 2047.8,402.8 2044.5,402.8 2044.5,402.0 2041.2,402.0 2041.2,395.8 2038.0,395.8 2038.0,393.0 2034.8,393.0 2034.8,398.3 2031.5,398.3 2031.5,395.7 2028.2,395.7 2028.2,411.8 2025.0,411.8 2025.0,411.4 2021.8,411.4 2021.8,413.9 2018.5,413.9 2018.5,431.9 2015.2,431.9 2015.2,423.1 2012.0,423.1 2012.0,445.1 2008.8,445.1 2008.8,438.3 2005.5,438.3 2005.5,437.6 2002.2,437.6 2002.2,433.6 1999.0,433.6 1999.0,431.0 1995.8,431.0 1995.8,425.6 1992.5,425.6 1992.5,429.7 1989.2,429.7 1989.2,428.3 1986.0,428.3 1986.0,423.4 1982.8,423.4 1982.8,432.6 1979.5,432.6 1979.5,422.0 1976.2,422.0 1976.2,436.2 1973.0,436.2 1973.0,441.3 1969.8,441.3 1969.8,440.4 1966.5,440.4 1966.5,439.7 1963.2,439.7 1963.2,429.0 1960.0,429.0 1960.0,429.6 1956.8,429.6 1956.8,421.9 1953.5,421.9 1953.5,434.0 1950.2,434.0 1950.2,435.1 1947.0,435.1 1947.0,436.3 1943.8,436.3 1943.8,428.6 1940.5,428.6 1940.5,427.8 1937.2,427.8 1937.2,433.6 1934.0,433.6 1934.0,413.3 1930.8,413.3 1930.8,418.1 1927.5,418.1 1927.5,435.5 1924.2,435.5 1924.2,418.6 1921.0,418.6 1921.0,431.6 1917.8,431.6 1917.8,433.9 1914.5,433.9 1914.5,426.7 1911.2,426.7 1911.2,432.6 1908.0,432.6 1908.0,433.1 1904.8,433.1 1904.8,432.3 1901.5,432.3 1901.5,420.3 1898.2,420.3 1898.2,437.0 1895.0,437.0 1895.0,425.8 1891.8,425.8 1891.8,436.6 1888.5,436.6 1888.5,437.4 1885.2,437.4 1885.2,420.9 1882.0,420.9 1882.0,415.4 1878.8,415.4 1878.8,438.0 1875.5,438.0 1875.5,415.8 1872.2,415.8 1872.2,436.8 1869.0,436.8 1869.0,435.2 1865.8,435.2 1865.8,433.7 1862.5,433.7 1862.5,426.0 1859.2,426.0 1859.2,415.6 1856.0,415.6 1856.0,417.0 1852.8,417.0 1852.8,412.4 1849.5,412.4 1849.5,414.2 1846.2,414.2 1846.2,429.8 1843.0,429.8 1843.0,427.7 1839.8,427.7 1839.8,419.6 1836.5,419.6 1836.5,432.2 1833.2,432.2 1833.2,412.7 1830.0,412.7 1830.0,410.6 1826.8,410.6 1826.8,423.7 1823.5,423.7 1823.5,413.5 1820.2,413.5 1820.2,416.3 1817.0,416.3 1817.0,409.6 1813.8,409.6 1813.8,408.4 1810.5,408.4 1810.5,424.4 1807.2,424.4 1807.2,417.3 1804.0,417.3 1804.0,425.7 1800.8,425.7 1800.8,410.9 1797.5,410.9 1797.5,410.8 1794.2,410.8 1794.2,413.5 1791.0,413.5 1791.0,418.2 1787.8,418.2 1787.8,408.2 1784.5,408.2 1784.5,425.9 1781.2,425.9 1781.2,421.3 1778.0,421.3 1778.0,423.6 1774.8,423.6 1774.8,425.7 1771.5,425.7 1771.5,435.1 1768.2,435.1 1768.2,432.4 1765.0,432.4 1765.0,439.3 1761.8,439.3 1761.8,422.8 1758.5,422.8 1758.5,436.4 1755.2,436.4 1755.2,442.9 1752.0,442.9 1752.0,428.7 1748.8,428.7 1748.8,430.6 1745.5,430.6 1745.5,435.0 1742.2,435.0 1742.2,433.2 1739.0,433.2 1739.0,436.2 1735.8,436.2 1735.8,446.8 1732.5,446.8 1732.5,446.6 1729.2,446.6 1729.2,450.4 1726.0,450.4 1726.0,446.5 1722.8,446.5 1722.8,448.8 1719.5,448.8 1719.5,467.2 1716.2,467.2 1716.2,458.4 1713.0,458.4 1713.0,455.3 1709.8,455.3 1709.8,455.4 1706.5,455.4 1706.5,450.6 1703.2,450.6 1703.2,441.5 1700.0,441.5 1700.0,435.3 1696.8,435.3 1696.8,430.2 1693.5,430.2 1693.5,431.1 1690.2,431.1 1690.2,427.3 1687.0,427.3 1687.0,438.4 1683.8,438.4 1683.8,434.6 1680.5,434.6 1680.5,426.7 1677.2,426.7 1677.2,434.3 1674.0,434.3 1674.0,438.1 1670.8,438.1 1670.8,421.0 1667.5,421.0 1667.5,436.1 1664.2,436.1 1664.2,435.4 1661.0,435.4 1661.0,425.2 1657.8,425.2 1657.8,425.4 1654.5,425.4 1654.5,422.3 1651.2,422.3 1651.2,425.1 1648.0,425.1 1648.0,440.4 1644.8,440.4 1644.8,445.1 1641.5,445.1 1641.5,427.6 1638.2,427.6 1638.2,411.0 1635.0,411.0 1635.0,417.0 1631.8,417.0 1631.8,404.7 1628.5,404.7 1628.5,404.4 1625.2,404.4 1625.2,400.2 1622.0,400.2 1622.0,403.6 1618.8,403.6 1618.8,422.4 1615.5,422.4 1615.5,425.6 1612.2,425.6 1612.2,415.4 1609.0,415.4 1609.0,431.5 1605.8,431.5 1605.8,432.6 1602.5,432.6 1602.5,423.2 1599.2,423.2 1599.2,425.2 1596.0,425.2 1596.0,441.8 1592.8,441.8 1592.8,429.9 1589.5,429.9 1589.5,445.7 1586.2,445.7 1586.2,446.4 1583.0,446.4 1583.0,457.4 1579.8,457.4 1579.8,471.7 1576.5,471.7 1576.5,455.5 1573.2,455.5 1573.2,471.8 1570.0,471.8 1570.0,456.1 1566.8,456.1 1566.8,456.8 1563.5,456.8 1563.5,458.2 1560.2,458.2 1560.2,459.7 1557.0,459.7 1557.0,461.3 1553.8,461.3 1553.8,476.4 1550.5,476.4 1550.5,462.5 1547.2,462.5 1547.2,471.6 1544.0,471.6 1544.0,466.6 1540.8,466.6 1540.8,475.4 1537.5,475.4 1537.5,461.8 1534.2,461.8 1534.2,456.3 1531.0,456.3 1531.0,461.6 1527.8,461.6 1527.8,457.1 1524.5,457.1 1524.5,474.2 1521.2,474.2 1521.2,474.9 1518.0,474.9 1518.0,460.1 1514.8,460.1 1514.8,461.6 1511.5,461.6 1511.5,463.1 1508.2,463.1 1508.2,467.8 1505.0,467.8 1505.0,450.9 1501.8,450.9 1501.8,457.2 1498.5,457.2 1498.5,461.2 1495.2,461.2 1495.2,452.7 1492.0,452.7 1492.0,454.4 1488.8,454.4 1488.8,457.2 1485.5,457.2 1485.5,469.4 1482.2,469.4 1482.2,457.3 1479.0,457.3 1479.0,474.4 1475.8,474.4 1475.8,509.2 1472.5,509.2Z" fill="#ED7D31" clip-path="url(#clip_a2)"/>
<path d="M354.0,1290.0 356.8,1413.1 357.0,1420.0 359.8,1475.5 360.0,1480.0 362.8,1489.9 364.0,1495.0 366.8,1502.0 368.0,1498.0 370.8,1487.5 373.7,1475.9 374.0,1478.0 376.8,1473.8 379.7,1468.6 381.0,1466.0 383.8,1477.3 386.7,1484.7 388.0,1490.0 390.8,1499.7 393.7,1504.3 396.5,1515.1 399.0,1515.0 401.8,1514.7 404.7,1512.5 407.5,1513.5 408.0,1510.0 410.8,1503.5 413.0,1495.0 415.8,1488.6 416.0,1490.0 418.8,1495.4 420.0,1495.0 422.8,1490.2 425.7,1491.2 426.0,1488.0 428.8,1493.6 431.0,1500.0 433.8,1502.6 436.0,1503.0 438.8,1503.1 441.7,1507.3 444.5,1511.4 447.4,1512.6 449.0,1511.0 451.8,1506.3 454.7,1501.4 455.0,1504.0 457.8,1502.3 460.7,1495.9 461.0,1497.0 463.8,1501.4 466.7,1510.8 468.0,1512.0 470.8,1513.6 473.7,1522.4 476.0,1524.0 478.8,1522.2 481.7,1515.6 484.0,1512.0 486.8,1503.4 489.7,1498.3 490.0,1498.0 492.8,1504.7 495.7,1505.1 496.0,1505.0 498.8,1511.1 501.7,1511.8 502.0,1512.0 504.8,1510.3 507.7,1508.5 510.5,1506.4 512.0,1505.0 514.8,1503.9 517.7,1503.3 520.5,1502.3 523.0,1498.0 525.8,1493.1 528.7,1486.7 531.0,1485.0 533.8,1478.7 536.7,1473.2 538.0,1473.0 540.8,1472.2 543.7,1480.3 545.0,1482.0 547.8,1487.8 550.7,1501.0 553.0,1503.0 555.8,1506.1 558.7,1508.4 561.0,1515.0 563.8,1519.1 566.7,1521.3 569.5,1526.5 570.0,1525.0 572.8,1523.4 575.7,1525.3 578.5,1517.5 580.0,1518.0 582.8,1516.5 585.7,1512.8 588.0,1512.0 590.8,1505.3 593.7,1497.0 594.0,1500.0 596.8,1498.1 599.7,1489.7 600.0,1493.0 602.8,1497.2 605.7,1500.7 606.0,1500.0 608.8,1503.1 611.7,1500.8 614.0,1506.0 616.8,1508.3 619.7,1505.5 622.5,1508.3 625.4,1507.1 626.0,1508.0 628.8,1513.1 631.7,1508.2 634.5,1509.7 637.4,1511.5 638.0,1511.0 640.8,1505.4 643.7,1505.1 645.0,1505.0 647.8,1508.6 650.7,1513.7 652.0,1515.0 654.8,1517.1 657.7,1524.7 660.5,1527.9 663.0,1526.0 665.8,1528.1 668.7,1524.6 671.0,1524.0 673.8,1522.2 676.7,1522.2 678.0,1516.0 680.8,1509.5 683.7,1496.5 685.0,1490.0 687.8,1478.9 690.7,1472.8 693.0,1462.0 695.8,1474.0 698.0,1480.0 700.8,1485.0 703.7,1489.2 704.0,1490.0 706.8,1464.4 709.0,1450.0 711.8,1414.2 714.0,1387.0 716.8,1410.4 718.0,1420.0 720.8,1445.2 723.0,1470.0 725.8,1479.5 728.7,1495.3 729.0,1496.0 731.8,1498.4 734.7,1498.3 735.0,1500.0 737.8,1501.9 740.7,1507.9 741.0,1505.0 743.8,1505.3 746.7,1509.8 748.0,1512.0 750.8,1510.4 753.7,1518.6 756.0,1515.0 758.8,1511.7 761.7,1513.3 764.0,1508.0 766.8,1508.3 769.7,1503.8 772.0,1504.0 774.8,1504.0 777.7,1501.7 780.0,1500.0 782.8,1504.5 785.7,1507.3 788.5,1511.7 790.0,1512.0 792.8,1516.7 795.7,1517.0 798.5,1523.7 801.4,1523.6 802.0,1526.0 804.8,1520.3 807.7,1519.5 810.5,1515.5 812.0,1516.0 814.8,1507.7 817.7,1500.0 820.5,1497.5 822.0,1492.0 824.8,1495.8 827.7,1494.2 830.0,1497.0 832.8,1499.4 835.0,1496.0 837.8,1485.9 840.7,1474.5 841.0,1475.0 843.8,1462.4 846.7,1455.1 847.0,1453.0 849.8,1462.5 852.0,1470.0 854.8,1481.6 857.7,1498.6 860.0,1501.0 862.8,1509.2 865.7,1513.0 867.0,1516.0 869.8,1517.2 872.7,1522.2 875.0,1526.0 877.8,1521.7 880.7,1519.0 883.0,1518.0 885.8,1511.7 888.7,1516.2 891.0,1515.0 893.8,1512.2 896.7,1519.3 899.5,1513.5 900.0,1514.0 902.8,1515.9 905.7,1514.4 908.5,1511.7 911.4,1513.6 913.0,1513.0 915.8,1506.8 918.7,1501.6 920.0,1500.0 922.8,1491.0 925.7,1477.8 927.0,1478.0 929.8,1487.9 932.0,1490.0 934.8,1503.2 937.0,1511.0 939.8,1515.6 942.7,1523.9 944.0,1523.0 946.8,1518.8 949.7,1513.3 951.0,1518.0 953.8,1504.9 956.7,1488.6 957.0,1489.0 959.8,1465.7 962.7,1441.4 963.0,1440.0 965.8,1415.4 968.7,1390.8 969.0,1388.0 971.8,1325.5 973.0,1300.0 975.8,1229.7 977.0,1201.0 979.8,1237.9 980.0,1240.0 982.8,1298.7 983.0,1302.0 985.8,1158.1 986.0,1150.0 988.8,1059.8 990.0,1023.0 992.0,1100.0 994.8,1223.1 995.0,1230.0 997.0,1380.0 999.0,1472.0 1001.8,1474.7 1004.7,1476.3 1006.0,1480.0 1008.8,1482.7 1011.7,1487.3 1014.5,1489.3 1015.0,1489.0 1017.8,1491.7 1020.7,1488.0 1023.5,1486.5 1025.0,1485.0 1027.8,1484.0 1030.7,1483.4 1033.5,1480.4 1035.0,1480.0 1037.8,1481.4 1040.7,1486.1 1043.5,1488.7 1045.0,1495.0 1047.8,1499.2 1050.7,1504.8 1053.5,1510.5 1055.0,1512.0 1057.8,1515.7 1060.7,1513.5 1063.5,1511.0 1064.0,1516.0 1066.8,1515.1 1069.7,1517.3 1072.0,1518.0 1074.8,1513.7 1077.7,1515.2 1080.5,1515.5 1081.0,1518.0 1083.8,1522.4 1086.7,1520.4 1089.5,1516.4 1090.0,1518.0 1092.8,1511.2 1095.7,1506.8 1098.5,1501.4 1099.0,1500.0 1101.8,1494.4 1104.7,1485.3 1107.0,1483.0 1109.8,1484.1 1112.7,1492.6 1113.0,1490.0 1115.8,1495.6 1118.0,1500.0 1120.8,1501.7 1123.7,1498.8 1126.5,1498.8 1128.0,1498.0 1130.8,1497.9 1133.7,1496.0 1136.5,1498.7 1139.4,1497.2 1141.0,1495.0 1143.8,1491.7 1146.7,1489.0 1149.5,1489.0 1150.0,1485.0 1152.8,1479.4 1155.7,1479.9 1158.5,1477.1 1159.0,1474.0 1161.8,1481.4 1164.7,1485.0 1167.0,1485.0 1169.8,1486.4 1172.7,1493.1 1175.5,1493.7 1176.0,1495.0 1178.8,1495.1 1181.7,1491.8 1184.0,1490.0 1186.8,1490.7 1189.7,1486.0 1192.5,1486.6 1193.0,1486.0 1195.8,1472.6 1198.7,1458.0 1200.0,1450.0 1202.8,1430.9 1205.7,1411.9 1207.0,1403.0 1209.8,1420.5 1212.7,1438.0 1213.0,1440.0 1215.8,1462.4 1218.7,1484.8 1219.0,1483.0 1221.8,1485.8 1224.7,1492.9 1226.0,1495.0 1228.8,1495.8 1231.7,1505.3 1233.0,1506.0 1235.8,1492.5 1238.7,1472.4 1239.0,1470.0 1241.8,1449.0 1244.7,1422.7 1245.0,1420.0 1247.8,1434.2 1249.0,1440.0 1251.8,1458.7 1253.0,1460.0" fill="none" stroke="#4472C4" stroke-width="3.8" stroke-linejoin="round" clip-path="url(#clip_b1)"/>
<path d="M354.0,1030.0 356.8,1285.6 357.0,1300.0 359.8,1459.7 360.0,1470.0 362.8,1483.5 364.0,1490.0 366.8,1497.0 368.0,1493.0 370.8,1481.0 373.7,1468.0 374.0,1470.0 376.8,1465.8 379.7,1460.6 381.0,1458.0 383.8,1468.4 386.7,1475.0 388.0,1480.0 390.8,1491.0 393.7,1496.9 396.5,1508.9 399.0,1510.0 401.8,1508.1 404.7,1504.3 407.5,1503.7 408.0,1500.0 410.8,1479.3 413.0,1460.0 415.8,1446.0 416.0,1447.0 418.8,1463.8 420.0,1468.0 422.8,1465.1 425.7,1467.9 426.0,1465.0 428.8,1478.0 431.0,1490.0 433.8,1495.4 436.0,1498.0 438.8,1497.8 441.7,1501.9 444.5,1505.7 447.4,1506.7 449.0,1505.0 451.8,1500.3 454.7,1495.4 455.0,1498.0 457.8,1496.3 460.7,1489.9 461.0,1491.0 463.8,1496.2 466.7,1506.4 468.0,1508.0 470.8,1509.9 473.7,1519.1 476.0,1521.0 478.8,1517.8 481.7,1509.7 484.0,1505.0 486.8,1495.9 489.7,1490.4 490.0,1490.0 492.8,1498.1 495.7,1499.9 496.0,1500.0 498.8,1505.7 501.7,1505.8 502.0,1506.0 504.8,1504.6 507.7,1503.1 510.5,1501.2 512.0,1500.0 514.8,1498.9 517.7,1498.3 520.5,1497.3 523.0,1493.0 525.8,1486.3 528.7,1478.2 531.0,1475.0 533.8,1466.3 536.7,1458.4 538.0,1457.0 540.8,1457.8 543.7,1467.6 545.0,1470.0 547.8,1478.3 550.7,1494.0 553.0,1498.0 555.8,1501.8 558.7,1504.8 561.0,1512.0 563.8,1516.4 566.7,1519.0 569.5,1524.4 570.0,1523.0 572.8,1520.3 575.7,1521.0 578.5,1512.1 580.0,1512.0 582.8,1510.1 585.7,1506.1 588.0,1505.0 590.8,1496.9 593.7,1487.1 594.0,1490.0 596.8,1484.8 599.7,1473.1 600.0,1476.0 602.8,1484.5 605.7,1492.2 606.0,1492.0 608.8,1495.8 611.7,1494.2 614.0,1500.0 616.8,1501.9 619.7,1498.5 622.5,1500.9 625.4,1499.2 626.0,1500.0 628.8,1504.6 631.7,1499.3 634.5,1500.3 637.4,1501.6 638.0,1501.0 640.8,1496.6 643.7,1497.6 645.0,1498.0 647.8,1503.2 650.7,1510.0 652.0,1512.0 654.8,1514.9 657.7,1523.3 660.5,1527.2 663.0,1526.0 665.8,1527.4 668.7,1523.2 671.0,1522.0 673.8,1520.2 676.7,1520.2 678.0,1514.0 680.8,1504.2 683.7,1488.0 685.0,1480.0 687.8,1460.8 690.7,1446.4 693.0,1429.0 695.8,1438.1 698.0,1445.0 700.8,1457.0 703.0,1463.0 705.8,1442.9 708.7,1422.3 709.0,1420.0 711.8,1378.0 714.0,1346.0 716.8,1370.1 718.0,1380.0 720.8,1407.8 723.0,1429.0 725.8,1456.6 728.0,1478.0 730.8,1470.5 733.0,1470.0 735.8,1465.1 738.0,1467.0 740.8,1477.3 743.0,1490.0 745.8,1502.1 747.0,1506.0 749.8,1504.1 752.7,1499.6 754.0,1500.0 756.8,1497.9 759.7,1500.0 761.0,1496.0 763.8,1495.7 766.0,1500.0 768.8,1502.0 771.0,1505.0 773.8,1496.7 776.0,1495.0 778.8,1494.5 780.0,1488.0 782.8,1493.2 785.7,1503.3 788.0,1505.0 790.8,1512.8 793.7,1515.8 795.0,1520.0 797.8,1523.9 800.7,1525.4 802.0,1526.0 804.8,1525.0 807.7,1522.2 810.0,1520.0 812.8,1518.6 815.7,1515.7 818.0,1512.0 820.8,1508.2 823.7,1509.3 826.5,1503.7 827.0,1505.0 829.8,1491.5 831.0,1490.0 833.8,1480.7 835.0,1478.0 837.8,1462.8 840.7,1450.0 841.0,1450.0 843.8,1429.6 846.7,1409.3 847.0,1407.0 849.8,1430.4 851.0,1440.0 853.8,1464.6 855.0,1478.0 857.8,1488.8 860.7,1497.8 862.0,1500.0 864.8,1504.7 867.7,1515.2 869.0,1515.0 871.8,1518.6 874.7,1520.9 875.0,1523.0 877.8,1516.9 880.7,1516.2 883.0,1512.0 885.8,1509.3 888.7,1507.6 891.0,1505.0 893.8,1509.6 896.7,1503.1 898.0,1500.0 900.8,1498.6 903.7,1495.2 905.0,1497.0 907.8,1497.2 910.7,1497.6 913.0,1500.0 915.8,1499.0 918.7,1495.5 921.0,1501.0 923.8,1495.7 925.0,1493.0 927.8,1486.3 929.0,1487.0 931.8,1499.3 934.0,1500.0 936.8,1506.6 939.7,1516.3 940.0,1515.0 942.8,1516.2 945.7,1514.1 947.0,1516.0 949.8,1513.7 951.0,1512.0 953.8,1479.8 956.7,1448.7 957.0,1446.0 959.8,1447.1 962.0,1448.0 964.8,1440.1 966.0,1443.0 968.8,1421.2 969.0,1420.0 971.8,1363.2 972.0,1360.0 974.8,1286.2 977.0,1230.0 979.8,1221.5 982.0,1215.0 984.8,1209.3 986.0,1207.0 988.8,1213.4 990.0,1216.0 992.8,1287.0 994.0,1316.0 996.8,1414.5 997.0,1420.0 999.0,1460.0 1001.8,1463.1 1004.7,1461.3 1006.0,1460.0 1008.8,1461.1 1011.7,1466.0 1014.0,1464.0 1016.8,1462.5 1019.7,1459.6 1022.5,1466.5 1023.0,1466.0 1025.8,1459.4 1028.7,1456.4 1029.0,1456.0 1031.8,1452.9 1034.7,1451.7 1035.0,1452.0 1037.8,1455.0 1040.7,1462.4 1042.0,1465.0 1044.8,1471.5 1047.7,1475.6 1049.0,1477.0 1051.8,1483.7 1054.7,1484.0 1057.5,1486.4 1058.0,1486.0 1060.8,1489.3 1063.7,1492.9 1066.5,1494.2 1067.0,1495.0 1069.8,1492.1 1072.7,1492.6 1075.5,1490.9 1078.0,1495.0 1080.8,1499.2 1083.7,1504.7 1084.0,1505.0 1086.8,1512.1 1089.7,1519.8 1090.0,1518.0 1092.8,1508.4 1095.7,1496.1 1096.0,1500.0 1098.8,1484.2 1101.0,1475.0 1103.8,1468.7 1106.7,1458.4 1107.0,1462.0 1109.8,1455.4 1112.7,1451.9 1113.0,1454.0 1115.8,1467.5 1118.0,1470.0 1120.8,1479.9 1123.7,1483.5 1124.0,1486.0 1126.8,1483.0 1129.7,1482.4 1132.5,1480.8 1133.0,1480.0 1135.8,1477.6 1138.7,1471.7 1141.0,1472.0 1143.8,1465.7 1146.7,1466.9 1148.0,1462.0 1150.8,1459.0 1153.7,1458.6 1156.0,1454.0 1158.8,1457.2 1161.7,1461.0 1163.0,1462.0 1165.8,1464.2 1168.7,1464.6 1170.0,1466.0 1172.8,1470.8 1175.7,1472.1 1178.0,1472.0 1180.8,1473.1 1183.7,1474.8 1185.0,1475.0 1187.8,1479.0 1190.7,1473.8 1191.0,1476.0 1193.8,1478.4 1196.0,1477.0 1198.8,1457.3 1201.7,1432.5 1202.0,1430.0 1204.8,1393.1 1207.0,1365.0 1209.8,1396.2 1212.0,1420.0 1214.8,1445.8 1217.7,1467.9 1219.0,1475.0 1221.8,1479.3 1224.7,1489.0 1226.0,1490.0 1228.8,1495.7 1231.7,1504.8 1233.0,1506.0 1235.8,1494.1 1238.7,1483.4 1239.0,1480.0 1241.8,1462.4 1244.7,1448.2 1245.0,1446.0 1247.8,1457.1 1249.0,1460.0 1251.8,1474.0 1253.0,1478.0" fill="none" stroke="#ED7D31" stroke-width="3.8" stroke-linejoin="round" clip-path="url(#clip_b1)" stroke-opacity="0.9"/>
<path d="M1484.0,1278.0 1486.8,1415.3 1487.0,1423.0 1489.8,1500.0 1490.0,1504.0 1492.8,1500.8 1495.7,1502.8 1498.0,1504.0 1500.8,1497.0 1502.0,1493.0 1504.8,1476.2 1506.0,1473.0 1508.8,1480.6 1510.0,1491.0 1512.8,1491.7 1515.0,1499.0 1517.8,1509.0 1520.7,1518.0 1523.0,1522.0 1525.8,1520.7 1528.7,1519.0 1529.0,1518.0 1531.8,1518.1 1534.7,1510.0 1535.0,1513.0 1537.8,1488.9 1539.0,1483.0 1541.8,1455.2 1543.0,1450.0 1545.8,1471.1 1546.0,1473.0 1548.0,1491.0 1550.8,1464.0 1551.0,1463.0 1553.8,1439.3 1554.0,1438.0 1556.8,1472.2 1557.0,1473.0 1559.0,1503.0 1561.8,1501.0 1564.7,1506.6 1565.0,1506.0 1567.8,1507.3 1570.7,1508.3 1571.0,1509.0 1573.8,1506.9 1576.7,1506.4 1579.0,1503.0 1581.8,1496.9 1584.7,1500.2 1587.0,1498.0 1589.8,1504.1 1592.7,1511.0 1593.0,1511.0 1595.8,1519.8 1598.7,1518.8 1599.0,1522.0 1601.8,1521.8 1604.7,1520.8 1607.5,1521.1 1609.0,1521.0 1611.8,1513.8 1614.7,1504.9 1615.0,1503.0 1617.8,1494.3 1620.7,1487.9 1622.0,1483.0 1624.8,1492.6 1627.7,1500.4 1628.0,1501.0 1630.8,1501.1 1633.7,1506.0 1636.5,1505.5 1639.0,1507.0 1641.8,1504.0 1644.7,1501.6 1647.0,1501.0 1649.8,1497.0 1652.7,1499.6 1655.0,1493.0 1657.8,1487.5 1660.7,1478.8 1661.0,1478.0 1663.8,1455.8 1666.7,1434.5 1667.0,1432.0 1669.8,1463.1 1671.0,1475.0 1673.8,1488.5 1675.0,1493.0 1677.8,1502.1 1680.7,1504.4 1681.0,1508.0 1683.8,1513.8 1686.7,1519.6 1687.0,1521.0 1689.8,1522.3 1692.7,1519.6 1695.5,1521.1 1698.0,1522.0 1700.8,1516.5 1703.7,1522.6 1706.0,1516.0 1708.8,1514.1 1711.7,1512.6 1714.5,1516.9 1715.0,1511.0 1717.8,1493.5 1720.0,1483.0 1722.8,1439.8 1725.0,1407.0 1727.8,1456.2 1729.0,1483.0 1731.8,1503.2 1733.0,1506.0 1735.8,1511.2 1738.7,1511.6 1741.5,1512.0 1744.0,1511.0 1746.8,1513.8 1749.7,1506.4 1752.0,1508.0 1754.8,1502.4 1757.7,1505.7 1760.5,1509.1 1761.0,1506.0 1763.8,1500.6 1766.7,1492.6 1768.0,1490.0 1770.8,1500.9 1773.7,1512.1 1776.5,1519.8 1777.0,1521.0 1779.8,1523.3 1782.7,1526.4 1785.5,1526.3 1787.0,1527.0 1789.8,1523.4 1792.7,1520.7 1795.0,1521.0 1797.8,1514.4 1800.7,1508.4 1801.0,1508.0 1803.8,1507.0 1806.7,1503.1 1807.0,1501.0 1809.8,1497.9 1812.7,1494.7 1813.0,1494.0 1815.8,1487.9 1818.0,1478.0 1820.8,1442.3 1821.0,1439.0 1823.8,1471.3 1825.0,1481.0 1827.8,1483.2 1830.0,1486.0 1832.8,1469.7 1834.0,1461.0 1836.8,1441.2 1838.0,1433.0 1840.8,1415.4 1843.0,1402.0 1845.8,1431.1 1847.0,1443.0 1849.8,1461.2 1851.0,1471.0 1853.8,1478.8 1856.0,1491.0 1858.8,1486.0 1861.7,1482.0 1864.0,1475.0 1866.8,1485.8 1869.7,1492.0 1872.0,1498.0 1874.8,1500.5 1877.7,1500.1 1880.5,1505.5 1883.4,1505.9 1884.0,1508.0 1886.8,1506.8 1889.7,1505.9 1892.5,1507.3 1895.4,1507.5 1898.2,1505.1 1899.0,1508.0 1901.8,1502.1 1904.7,1494.8 1907.0,1489.0 1909.8,1500.7 1912.7,1509.0 1915.0,1514.0 1917.8,1517.1 1920.7,1522.6 1922.0,1521.0 1924.8,1521.9 1927.7,1520.6 1929.0,1526.0 1931.8,1523.6 1934.7,1520.5 1937.5,1516.7 1939.0,1518.0 1941.8,1495.0 1944.7,1481.4 1945.0,1476.0 1947.8,1482.6 1950.7,1492.9 1952.0,1498.0 1954.8,1495.1 1957.7,1494.9 1960.5,1493.1 1962.0,1491.0 1964.8,1484.9 1967.7,1469.6 1970.0,1466.0 1972.8,1444.7 1975.0,1430.0 1977.8,1447.4 1980.7,1469.6 1982.0,1478.0 1984.8,1486.4 1987.7,1497.3 1988.0,1499.0 1990.8,1507.7 1993.7,1509.6 1995.0,1513.0 1997.8,1516.9 2000.7,1524.9 2001.0,1523.0 2003.8,1523.9 2006.7,1514.4 2008.0,1518.0 2010.8,1513.8 2013.7,1508.0 2015.0,1511.0 2017.8,1508.5 2020.7,1502.5 2022.0,1503.0 2024.8,1496.6 2027.7,1495.7 2028.0,1494.0 2030.8,1490.3 2033.7,1482.0 2035.0,1478.0 2037.8,1394.5 2040.0,1331.0 2042.8,1351.6 2044.0,1360.0 2046.8,1403.3 2048.0,1421.0 2050.8,1423.8 2051.0,1424.0 2053.8,1445.9 2054.0,1451.0 2056.8,1460.4 2058.0,1466.0 2060.8,1485.5 2063.7,1516.6 2064.0,1514.0 2066.8,1515.8 2069.7,1515.2 2071.0,1519.0 2073.8,1518.0 2076.7,1520.7 2079.5,1512.6 2081.0,1513.0 2083.8,1475.6 2086.7,1444.4 2087.0,1440.0 2089.8,1373.7 2092.7,1307.5 2093.0,1300.0 2095.8,1273.0 2097.0,1262.0 2099.8,1240.7 2101.0,1232.0 2103.8,1258.5 2104.0,1260.0 2106.0,1290.0 2108.8,1299.7 2111.0,1307.0 2113.8,1337.5 2115.0,1350.0 2117.8,1382.7 2119.0,1396.0 2121.8,1427.2 2123.0,1440.0 2125.8,1459.0 2128.0,1471.0 2130.8,1467.9 2133.7,1466.2 2134.0,1461.0 2136.8,1456.1 2139.0,1458.0 2141.8,1464.9 2144.0,1468.0 2146.8,1470.0 2149.0,1474.0 2151.8,1481.1 2154.7,1495.4 2155.0,1497.0 2157.8,1495.6 2160.0,1492.0 2162.8,1488.0 2165.7,1481.3 2166.0,1481.0 2168.8,1489.4 2171.7,1493.3 2172.0,1494.0 2174.8,1499.0 2177.7,1500.6 2180.0,1503.0 2182.8,1507.1 2185.7,1508.6 2188.0,1514.0 2190.8,1508.9 2193.7,1503.3 2196.0,1498.0 2198.8,1495.4 2201.7,1488.1 2204.5,1479.7 2205.0,1481.0 2207.8,1492.9 2210.7,1501.2 2211.0,1501.0 2213.8,1510.0 2216.7,1514.6 2218.0,1520.0 2220.8,1514.0 2223.7,1508.7 2226.5,1502.3 2227.0,1503.0 2229.8,1498.1 2232.7,1489.9 2235.5,1485.4 2238.0,1484.0 2240.8,1491.0 2243.7,1491.6 2244.0,1495.0 2246.8,1503.9 2249.7,1504.6 2251.0,1507.0 2253.8,1500.2 2256.7,1498.9 2259.0,1493.0 2261.8,1485.2 2264.7,1484.6 2267.0,1478.0 2269.8,1470.8 2272.7,1471.1 2275.0,1465.0 2277.8,1460.4 2280.7,1456.7 2283.5,1458.5 2284.0,1455.0 2286.8,1474.4 2289.7,1487.9 2290.0,1491.0 2292.8,1481.0 2295.7,1469.4 2297.0,1468.0 2299.8,1469.6 2302.7,1474.0 2303.0,1473.0 2305.8,1474.1 2308.7,1476.1 2310.0,1478.0 2312.8,1476.8 2315.7,1484.0 2316.0,1483.0 2318.8,1483.3 2321.7,1488.7 2323.0,1488.0 2325.8,1484.0 2328.7,1473.6 2330.0,1471.0 2332.8,1455.9 2335.7,1443.2 2336.0,1442.0 2338.8,1456.8 2341.0,1468.0 2343.8,1471.6 2346.0,1478.0 2348.8,1484.0 2351.7,1486.9 2352.0,1493.0 2354.8,1500.0 2357.0,1504.0 2359.8,1490.7 2362.0,1483.0 2364.8,1468.2 2366.0,1458.0 2368.8,1311.3 2369.0,1303.0 2371.8,1036.0 2372.0,1021.0 2374.8,956.6 2375.0,953.0" fill="none" stroke="#4472C4" stroke-width="3.8" stroke-linejoin="round" clip-path="url(#clip_b2)"/>
<path d="M1484.0,1275.0 1486.8,1412.3 1487.0,1420.0 1489.8,1497.0 1490.0,1501.0 1492.8,1497.8 1495.7,1499.8 1498.0,1501.0 1500.8,1494.0 1502.0,1490.0 1504.8,1482.4 1506.0,1483.0 1508.8,1481.3 1510.0,1488.0 1512.8,1488.7 1515.0,1496.0 1517.8,1506.0 1520.7,1515.0 1523.0,1519.0 1525.8,1517.7 1528.7,1516.0 1529.0,1515.0 1531.8,1515.1 1534.7,1507.0 1535.0,1510.0 1537.8,1485.9 1539.0,1480.0 1541.8,1452.2 1543.0,1447.0 1545.8,1468.1 1546.0,1470.0 1548.0,1488.0 1550.8,1461.0 1551.0,1460.0 1553.8,1436.3 1554.0,1435.0 1556.8,1469.2 1557.0,1470.0 1559.0,1500.0 1561.8,1498.0 1564.7,1503.6 1565.0,1503.0 1567.8,1504.3 1570.7,1505.3 1571.0,1506.0 1573.8,1503.9 1576.7,1503.4 1579.0,1500.0 1581.8,1493.9 1584.7,1497.2 1587.0,1495.0 1589.8,1501.1 1592.7,1508.0 1593.0,1508.0 1595.8,1516.8 1598.7,1515.8 1599.0,1519.0 1601.8,1518.8 1604.7,1517.8 1607.5,1518.1 1609.0,1518.0 1611.8,1510.8 1614.7,1501.9 1615.0,1500.0 1617.8,1491.3 1620.7,1484.9 1622.0,1480.0 1624.8,1489.6 1627.7,1497.4 1628.0,1498.0 1630.8,1498.1 1633.7,1503.0 1636.5,1502.5 1639.0,1504.0 1641.8,1501.0 1644.7,1498.6 1647.0,1498.0 1649.8,1494.0 1652.7,1496.6 1655.0,1490.0 1657.8,1484.5 1660.7,1475.8 1661.0,1475.0 1663.8,1465.1 1666.7,1456.7 1667.0,1455.0 1669.8,1467.8 1671.0,1472.0 1673.8,1486.8 1675.0,1490.0 1677.8,1494.3 1680.7,1503.8 1681.0,1505.0 1683.8,1510.4 1686.7,1518.4 1687.0,1518.0 1689.8,1516.3 1692.7,1517.8 1695.5,1515.4 1698.0,1519.0 1700.8,1521.8 1703.7,1514.4 1706.0,1513.0 1708.8,1511.2 1711.7,1515.5 1714.5,1506.7 1715.0,1508.0 1717.8,1487.4 1720.0,1480.0 1722.8,1466.9 1725.0,1450.0 1727.8,1475.2 1729.0,1480.0 1731.8,1499.4 1733.0,1503.0 1735.8,1506.4 1738.7,1509.4 1741.5,1504.4 1744.0,1508.0 1746.8,1502.0 1749.7,1504.8 1752.0,1505.0 1754.8,1507.4 1757.7,1504.8 1760.5,1502.7 1761.0,1503.0 1763.8,1503.3 1766.7,1504.0 1768.0,1501.0 1770.8,1506.9 1773.7,1512.3 1776.5,1519.1 1777.0,1518.0 1779.8,1519.9 1782.7,1520.0 1785.5,1521.1 1787.0,1524.0 1789.8,1521.5 1792.7,1519.4 1795.0,1518.0 1797.8,1514.1 1800.7,1507.4 1801.0,1505.0 1803.8,1501.9 1806.7,1498.7 1807.0,1498.0 1809.8,1497.6 1812.7,1492.6 1813.0,1491.0 1815.8,1484.4 1818.0,1475.0 1820.8,1462.1 1821.0,1462.0 1823.8,1474.8 1825.0,1478.0 1827.8,1480.9 1830.0,1483.0 1832.8,1463.6 1834.0,1458.0 1836.8,1438.1 1838.0,1430.0 1840.8,1421.5 1843.0,1415.0 1845.8,1432.8 1847.0,1440.0 1849.8,1456.3 1851.0,1468.0 1853.8,1480.0 1856.0,1488.0 1858.8,1487.9 1861.7,1485.7 1864.0,1481.0 1866.8,1486.6 1869.7,1491.0 1872.0,1495.0 1874.8,1494.8 1877.7,1500.1 1880.5,1500.5 1883.4,1503.2 1884.0,1505.0 1886.8,1502.9 1889.7,1504.3 1892.5,1504.5 1895.4,1502.1 1898.2,1505.9 1899.0,1505.0 1901.8,1498.5 1904.7,1494.3 1907.0,1486.0 1909.8,1497.1 1912.7,1504.0 1915.0,1511.0 1917.8,1516.8 1920.7,1515.5 1922.0,1518.0 1924.8,1515.6 1927.7,1521.9 1929.0,1523.0 1931.8,1519.8 1934.7,1516.0 1937.5,1513.0 1939.0,1515.0 1941.8,1498.3 1944.7,1472.9 1945.0,1473.0 1947.8,1480.9 1950.7,1490.0 1952.0,1495.0 1954.8,1493.9 1957.7,1492.1 1960.5,1491.8 1962.0,1488.0 1964.8,1475.4 1967.7,1469.4 1970.0,1463.0 1972.8,1440.5 1975.0,1427.0 1977.8,1447.2 1980.7,1464.4 1982.0,1475.0 1984.8,1484.4 1987.7,1497.9 1988.0,1496.0 1990.8,1500.9 1993.7,1506.6 1995.0,1510.0 1997.8,1517.2 2000.7,1522.4 2001.0,1520.0 2003.8,1513.4 2006.7,1514.5 2008.0,1515.0 2010.8,1507.9 2013.7,1510.1 2015.0,1508.0 2017.8,1502.8 2020.7,1499.4 2022.0,1500.0 2024.8,1497.0 2027.7,1494.3 2028.0,1491.0 2030.8,1485.5 2033.7,1474.4 2035.0,1475.0 2037.8,1453.9 2040.0,1440.0 2042.8,1415.2 2044.0,1405.0 2046.8,1414.2 2048.0,1418.0 2050.8,1433.1 2051.0,1434.0 2053.8,1444.0 2054.0,1448.0 2056.8,1463.8 2058.0,1463.0 2060.8,1485.5 2063.7,1505.6 2064.0,1511.0 2066.8,1513.7 2069.7,1520.1 2071.0,1516.0 2073.8,1513.0 2076.7,1509.7 2079.5,1511.4 2081.0,1510.0 2083.8,1472.6 2086.7,1432.4 2087.0,1428.0 2089.8,1358.4 2092.7,1288.8 2093.0,1281.0 2095.8,1188.0 2097.0,1150.0 2099.8,1091.8 2101.0,1068.0 2103.8,1126.7 2104.0,1130.0 2106.0,1176.0 2108.8,1177.7 2111.0,1179.0 2113.8,1222.3 2115.0,1240.0 2117.8,1292.5 2119.0,1314.0 2121.8,1375.1 2123.0,1400.0 2125.8,1435.2 2128.0,1462.0 2130.8,1461.7 2133.7,1462.9 2134.0,1458.0 2136.8,1453.1 2139.0,1455.0 2141.8,1461.9 2144.0,1465.0 2146.8,1467.0 2149.0,1471.0 2151.8,1464.9 2154.7,1465.9 2155.0,1466.0 2157.8,1466.9 2160.0,1465.0 2162.8,1472.3 2165.7,1477.0 2166.0,1478.0 2168.8,1486.4 2171.7,1490.3 2172.0,1491.0 2174.8,1496.0 2177.7,1497.6 2180.0,1500.0 2182.8,1504.1 2185.7,1505.6 2188.0,1511.0 2190.8,1505.9 2193.7,1500.3 2196.0,1495.0 2198.8,1492.4 2201.7,1485.1 2204.5,1476.7 2205.0,1478.0 2207.8,1489.9 2210.7,1498.2 2211.0,1498.0 2213.8,1507.0 2216.7,1511.6 2218.0,1517.0 2220.8,1511.0 2223.7,1505.7 2226.5,1499.3 2227.0,1500.0 2229.8,1495.1 2232.7,1486.9 2235.5,1482.4 2238.0,1481.0 2240.8,1488.0 2243.7,1488.6 2244.0,1492.0 2246.8,1500.9 2249.7,1501.6 2251.0,1504.0 2253.8,1497.2 2256.7,1495.9 2259.0,1490.0 2261.8,1482.2 2264.7,1481.6 2267.0,1475.0 2269.8,1467.8 2272.7,1468.1 2275.0,1462.0 2277.8,1457.4 2280.7,1453.7 2283.5,1455.5 2284.0,1452.0 2286.8,1458.2 2289.7,1458.4 2290.0,1460.0 2292.8,1461.4 2295.7,1461.1 2297.0,1465.0 2299.8,1466.6 2302.7,1471.0 2303.0,1470.0 2305.8,1471.1 2308.7,1473.1 2310.0,1475.0 2312.8,1473.8 2315.7,1481.0 2316.0,1480.0 2318.8,1480.3 2321.7,1485.7 2323.0,1485.0 2325.8,1481.0 2328.7,1470.6 2330.0,1468.0 2332.8,1459.0 2335.7,1452.5 2336.0,1452.0 2338.8,1459.4 2341.0,1465.0 2343.8,1468.6 2346.0,1475.0 2348.8,1481.0 2351.7,1483.9 2352.0,1490.0 2354.8,1497.0 2357.0,1501.0 2359.8,1487.7 2362.0,1480.0 2364.8,1465.2 2366.0,1455.0 2368.8,1308.3 2369.0,1300.0 2371.8,1033.0 2372.0,1018.0 2374.8,934.7 2375.0,930.0" fill="none" stroke="#ED7D31" stroke-width="3.8" stroke-linejoin="round" clip-path="url(#clip_b2)" stroke-opacity="0.9"/>
<path d="M356.5,2158.0 364.5,2158.0 379.0,2054.0 392.0,2061.0 405.0,2216.0 416.0,2200.0 432.0,2242.0 444.0,2216.0 457.0,2209.0 470.0,2135.0 482.0,2129.0 497.0,2230.0 511.0,2332.0 523.0,2287.0 531.0,2319.0 547.0,2313.0 560.0,2274.0 573.0,2158.0 587.0,2075.0 602.0,2087.0 615.0,2190.0 628.0,2119.0 650.0,1906.0 667.0,1857.0 683.0,1906.0 705.0,2206.0 718.0,2242.0 733.0,2209.0 746.0,2219.0 770.0,2077.0 783.0,2067.0 797.0,2080.0 809.0,2145.0 824.0,1990.0 836.0,2142.0 849.0,2255.0 863.0,2109.0 876.0,2184.0 890.0,2035.0 902.0,2041.0 915.0,2132.0 928.0,2125.0 941.0,2274.0 953.0,2190.0 968.0,2180.0 981.0,2229.0 994.0,2232.0 1010.0,2125.0 1033.0,1951.0 1047.0,1964.0 1058.0,2106.0 1075.0,1948.0 1091.0,1777.0 1105.0,1777.0 1115.0,1867.0 1136.0,2138.0 1152.0,2154.0 1172.0,2112.0 1188.0,2048.0 1204.0,1980.0 1217.0,1986.0 1230.0,1986.0 1244.0,2077.0" fill="none" stroke="#EE8F4F" stroke-width="5" stroke-linejoin="round" clip-path="url(#clip_c1)"/>
<path d="M356.5,2280.0 364.5,2280.0 379.0,2232.0 392.0,2255.0 405.0,2284.0 416.0,2256.0 432.0,2316.0 445.0,2296.0 457.0,2277.0 470.0,2260.0 479.0,2248.0 486.0,2251.0 500.0,2287.0 511.0,2329.0 523.0,2338.0 537.0,2316.0 549.0,2275.0 560.0,2235.0 573.0,2203.0 587.0,2191.0 599.0,2206.0 613.0,2250.0 628.0,2293.0 641.0,2219.0 652.0,2212.0 667.0,2248.0 681.0,2196.0 694.0,2210.0 705.0,2222.0 721.0,2306.0 734.0,2303.0 747.0,2274.0 757.0,2190.0 770.0,2164.0 783.0,2187.0 797.0,2119.0 812.0,2245.0 823.0,2200.0 837.0,2296.0 850.0,2280.0 863.0,2209.0 876.0,2267.0 890.0,2190.0 902.0,2212.0 913.0,2235.0 927.0,2242.0 940.0,2303.0 953.0,2287.0 968.0,2290.0 981.0,2274.0 994.0,2267.0 1007.0,2196.0 1020.0,2145.0 1033.0,2135.0 1046.0,2158.0 1058.0,2219.0 1071.0,2125.0 1084.0,2119.0 1097.0,2222.0 1112.0,2096.0 1126.0,2119.0 1149.0,2151.0 1163.0,2271.0 1176.0,2151.0 1191.0,2103.0 1202.0,2077.0 1230.0,2077.0 1243.0,2225.0" fill="none" stroke="#262626" stroke-width="5.5" stroke-linejoin="round" clip-path="url(#clip_c1)"/>
<path d="M1485.0,2161.7 1488.2,2161.7 1488.2,2162.3 1491.5,2162.3 1491.5,2160.5 1494.8,2160.5 1494.8,2161.8 1498.0,2161.8 1498.0,2158.9 1501.2,2158.9 1501.2,2161.8 1504.5,2161.8 1504.5,2160.8 1507.8,2160.8 1507.8,2164.1 1511.0,2164.1 1511.0,2165.7 1514.2,2165.7 1514.2,2165.3 1517.5,2165.3 1517.5,2163.6 1520.8,2163.6 1520.8,2162.6 1524.0,2162.6 1524.0,2160.2 1527.2,2160.2 1527.2,2165.0 1530.5,2165.0 1530.5,2163.4 1533.8,2163.4 1533.8,2162.2 1537.0,2162.2 1537.0,2159.1 1540.2,2159.1 1540.2,2163.9 1543.5,2163.9 1543.5,2163.1 1546.8,2163.1 1546.8,2162.8 1550.0,2162.8 1550.0,2159.4 1553.2,2159.4 1553.2,2162.1 1556.5,2162.1 1556.5,2163.3 1559.8,2163.3 1559.8,2160.3 1563.0,2160.3 1563.0,2161.2 1566.2,2161.2 1566.2,2162.4 1569.5,2162.4 1569.5,2162.6 1572.8,2162.6 1572.8,2162.4 1576.0,2162.4 1576.0,2164.0 1579.2,2164.0 1579.2,2161.9 1582.5,2161.9 1582.5,2164.1 1585.8,2164.1 1585.8,2165.1 1589.0,2165.1 1589.0,2163.3 1592.2,2163.3 1592.2,2163.9 1595.5,2163.9 1595.5,2162.0 1598.8,2162.0 1598.8,2163.3 1602.0,2163.3 1602.0,2165.0 1605.2,2165.0 1605.2,2165.4 1608.5,2165.4 1608.5,2161.9 1611.8,2161.9 1611.8,2162.7 1615.0,2162.7 1615.0,2162.8 1618.2,2162.8 1618.2,2162.0 1621.5,2162.0 1621.5,2162.7 1624.8,2162.7 1624.8,2162.7 1628.0,2162.7 1628.0,2162.1 1631.2,2162.1 1631.2,2160.2 1634.5,2160.2 1634.5,2162.0 1637.8,2162.0 1637.8,2162.4 1641.0,2162.4 1641.0,2160.6 1644.2,2160.6 1644.2,2163.7 1647.5,2163.7 1647.5,2163.9 1650.8,2163.9 1650.8,2163.7 1654.0,2163.7 1654.0,2160.5 1657.2,2160.5 1657.2,2161.3 1660.5,2161.3 1660.5,2162.0 1663.8,2162.0 1663.8,2161.5 1667.0,2161.5 1667.0,2161.5 1670.2,2161.5 1670.2,2159.1 1673.5,2159.1 1673.5,2163.6 1676.8,2163.6 1676.8,2163.9 1680.0,2163.9 1680.0,2163.6 1683.2,2163.6 1683.2,2165.7 1686.5,2165.7 1686.5,2162.3 1689.8,2162.3 1689.8,2162.1 1693.0,2162.1 1693.0,2164.5 1696.2,2164.5 1696.2,2162.3 1699.5,2162.3 1699.5,2164.3 1702.8,2164.3 1702.8,2164.2 1706.0,2164.2 1706.0,2165.3 1709.2,2165.3 1709.2,2164.1 1712.5,2164.1 1712.5,2162.2 1715.8,2162.2 1715.8,2162.6 1719.0,2162.6 1719.0,2162.1 1722.2,2162.1 1722.2,2160.9 1725.5,2160.9 1725.5,2161.7 1728.8,2161.7 1728.8,2162.3 1732.0,2162.3 1732.0,2162.9 1735.2,2162.9 1735.2,2163.8 1738.5,2163.8 1738.5,2165.2 1741.8,2165.2 1741.8,2161.7 1745.0,2161.7 1745.0,2162.3 1748.2,2162.3 1748.2,2164.2 1751.5,2164.2 1751.5,2164.7 1754.8,2164.7 1754.8,2164.2 1758.0,2164.2 1758.0,2160.8 1761.2,2160.8 1761.2,2163.3 1764.5,2163.3 1764.5,2165.7 1767.8,2165.7 1767.8,2165.5 1771.0,2165.5 1771.0,2164.9 1774.2,2164.9 1774.2,2162.9 1777.5,2162.9 1777.5,2162.7 1780.8,2162.7 1780.8,2162.8 1784.0,2162.8 1784.0,2159.3 1787.2,2159.3 1787.2,2164.2 1790.5,2164.2 1790.5,2164.4 1793.8,2164.4 1793.8,2165.5 1797.0,2165.5 1797.0,2159.5 1800.2,2159.5 1800.2,2160.5 1803.5,2160.5 1803.5,2163.4 1806.8,2163.4 1806.8,2162.2 1810.0,2162.2 1810.0,2159.9 1813.2,2159.9 1813.2,2162.7 1816.5,2162.7 1816.5,2164.0 1819.8,2164.0 1819.8,2159.3 1823.0,2159.3 1823.0,2160.8 1826.2,2160.8 1826.2,2162.4 1829.5,2162.4 1829.5,2160.3 1832.8,2160.3 1832.8,2160.9 1836.0,2160.9 1836.0,2162.7 1839.2,2162.7 1839.2,2165.5 1842.5,2165.5 1842.5,2165.7 1845.8,2165.7 1845.8,2165.6 1849.0,2165.6 1849.0,2163.5 1852.2,2163.5 1852.2,2163.4 1855.5,2163.4 1855.5,2164.9 1858.8,2164.9 1858.8,2162.2 1862.0,2162.2 1862.0,2162.2 1865.2,2162.2 1865.2,2163.0 1868.5,2163.0 1868.5,2161.4 1871.8,2161.4 1871.8,2165.0 1875.0,2165.0 1875.0,2162.9 1878.2,2162.9 1878.2,2164.6 1881.5,2164.6 1881.5,2165.7 1884.8,2165.7 1884.8,2163.7 1888.0,2163.7 1888.0,2161.6 1891.2,2161.6 1891.2,2161.0 1894.5,2161.0 1894.5,2163.7 1897.8,2163.7 1897.8,2160.6 1901.0,2160.6 1901.0,2162.4 1904.2,2162.4 1904.2,2164.8 1907.5,2164.8 1907.5,2163.8 1910.8,2163.8 1910.8,2165.0 1914.0,2165.0 1914.0,2165.2 1917.2,2165.2 1917.2,2164.8 1920.5,2164.8 1920.5,2164.2 1923.8,2164.2 1923.8,2164.4 1927.0,2164.4 1927.0,2165.0 1930.2,2165.0 1930.2,2165.0 1933.5,2165.0 1933.5,2161.5 1936.8,2161.5 1936.8,2163.2 1940.0,2163.2 1940.0,2162.5 1943.2,2162.5 1943.2,2162.2 1946.5,2162.2 1946.5,2160.6 1949.8,2160.6 1949.8,2161.8 1953.0,2161.8 1953.0,2162.0 1956.2,2162.0 1956.2,2160.1 1959.5,2160.1 1959.5,2163.7 1962.8,2163.7 1962.8,2160.3 1966.0,2160.3 1966.0,2160.1 1969.2,2160.1 1969.2,2164.5 1972.5,2164.5 1972.5,2161.6 1975.8,2161.6 1975.8,2163.1 1979.0,2163.1 1979.0,2159.9 1982.2,2159.9 1982.2,2165.2 1985.5,2165.2 1985.5,2162.5 1988.8,2162.5 1988.8,2163.5 1992.0,2163.5 1992.0,2165.4 1995.2,2165.4 1995.2,2161.2 1998.5,2161.2 1998.5,2161.3 2001.8,2161.3 2001.8,2161.3 2005.0,2161.3 2005.0,2160.3 2008.2,2160.3 2008.2,2162.2 2011.5,2162.2 2011.5,2162.8 2014.8,2162.8 2014.8,2164.2 2018.0,2164.2 2018.0,2165.0 2021.2,2165.0 2021.2,2162.8 2024.5,2162.8 2024.5,2162.2 2027.8,2162.2 2027.8,2165.2 2031.0,2165.2 2031.0,2165.5 2034.2,2165.5 2034.2,2165.2 2037.5,2165.2 2037.5,2165.1 2040.8,2165.1 2040.8,2161.0 2044.0,2161.0 2044.0,2162.7 2047.2,2162.7 2047.2,2159.7 2050.5,2159.7 2050.5,2161.4 2053.8,2161.4 2053.8,2159.8 2057.0,2159.8 2057.0,2162.4 2060.2,2162.4 2060.2,2161.3 2063.5,2161.3 2063.5,2159.9 2066.8,2159.9 2066.8,2160.7 2070.0,2160.7 2070.0,2161.8 2073.2,2161.8 2073.2,2162.5 2076.5,2162.5 2076.5,2159.1 2079.8,2159.1 2079.8,2158.5 2083.0,2158.5 2083.0,2160.5 2086.2,2160.5 2086.2,2163.3 2089.5,2163.3 2089.5,2163.4 2092.8,2163.4 2092.8,2161.7 2096.0,2161.7 2096.0,2164.7 2099.2,2164.7 2099.2,2164.4 2102.5,2164.4 2102.5,2164.6 2105.8,2164.6 2105.8,2162.4 2109.0,2162.4 2109.0,2162.0 2112.2,2162.0 2112.2,2161.9 2115.5,2161.9 2115.5,2160.7 2118.8,2160.7 2118.8,2164.3 2122.0,2164.3 2122.0,2163.1 2125.2,2163.1 2125.2,2162.3 2128.5,2162.3 2128.5,2164.0 2131.8,2164.0 2131.8,2162.6 2135.0,2162.6 2135.0,2165.3 2138.2,2165.3 2138.2,2162.8 2141.5,2162.8 2141.5,2165.2 2144.8,2165.2 2144.8,2165.7 2148.0,2165.7 2148.0,2161.9 2151.2,2161.9 2151.2,2163.8 2154.5,2163.8 2154.5,2161.2 2157.8,2161.2 2157.8,2162.1 2161.0,2162.1 2161.0,2164.6 2164.2,2164.6 2164.2,2164.4 2167.5,2164.4 2167.5,2162.4 2170.8,2162.4 2170.8,2164.6 2174.0,2164.6 2174.0,2163.1 2177.2,2163.1 2177.2,2163.8 2180.5,2163.8 2180.5,2163.2 2183.8,2163.2 2183.8,2164.6 2187.0,2164.6 2187.0,2165.1 2190.2,2165.1 2190.2,2163.4 2193.5,2163.4 2193.5,2159.7 2196.8,2159.7 2196.8,2164.2 2200.0,2164.2 2200.0,2162.1 2203.2,2162.1 2203.2,2163.9 2206.5,2163.9 2206.5,2161.6 2209.8,2161.6 2209.8,2163.2 2213.0,2163.2 2213.0,2163.7 2216.2,2163.7 2216.2,2163.8 2219.5,2163.8 2219.5,2161.6 2222.8,2161.6 2222.8,2161.3 2226.0,2161.3 2226.0,2163.4 2229.2,2163.4 2229.2,2161.9 2232.5,2161.9 2232.5,2163.5 2235.8,2163.5 2235.8,2163.5 2239.0,2163.5 2239.0,2165.7 2242.2,2165.7 2242.2,2163.1 2245.5,2163.1 2245.5,2163.0 2248.8,2163.0 2248.8,2159.4 2252.0,2159.4 2252.0,2162.9 2255.2,2162.9 2255.2,2162.9 2258.5,2162.9 2258.5,2163.1 2261.8,2163.1 2261.8,2162.5 2265.0,2162.5 2265.0,2161.9 2268.2,2161.9 2268.2,2161.7 2271.5,2161.7 2271.5,2164.3 2274.8,2164.3 2274.8,2162.9 2278.0,2162.9 2278.0,2164.2 2281.2,2164.2 2281.2,2163.3 2284.5,2163.3 2284.5,2162.6 2287.8,2162.6 2287.8,2162.7 2291.0,2162.7 2291.0,2164.8 2294.2,2164.8 2294.2,2163.6 2297.5,2163.6 2297.5,2160.5 2300.8,2160.5 2300.8,2163.5 2304.0,2163.5 2304.0,2163.0 2307.2,2163.0 2307.2,2163.3 2310.5,2163.3 2310.5,2164.9 2313.8,2164.9 2313.8,2163.3 2317.0,2163.3 2317.0,2163.0 2320.2,2163.0 2320.2,2160.8 2323.5,2160.8 2323.5,2163.5 2326.8,2163.5 2326.8,2160.3 2330.0,2160.3 2330.0,2162.5 2333.2,2162.5 2333.2,2163.2 2336.5,2163.2 2336.5,2162.5 2339.8,2162.5 2339.8,2164.1 2343.0,2164.1 2343.0,2164.5 2346.2,2164.5 2346.2,2165.5 2349.5,2165.5 2349.5,2164.3 2352.8,2164.3 2352.8,2159.4 2356.0,2159.4 2356.0,2163.6 2359.2,2163.6 2359.2,2165.5 2362.5,2165.5 2362.5,2165.7 2365.8,2165.7 2365.8,2163.1 2369.0,2163.1 2369.0,2163.0 2372.2,2163.0 2372.2,2162.7 2375.5,2162.7 2375.5,2160.0 2378.8,2160.0 2378.8,2160.8 2382.0,2160.8 2382.0,2161.9 2385.2,2161.9 2385.2,2161.3 2388.5,2161.3 2388.5,2159.2 2391.8,2159.2 2391.8,2162.7 2395.0,2162.7 2395.0,2158.7 2397.0,2158.7 2397.0,2173.5 2395.0,2173.5 2395.0,2173.0 2391.8,2173.0 2391.8,2174.2 2388.5,2174.2 2388.5,2172.4 2385.2,2172.4 2385.2,2171.4 2382.0,2171.4 2382.0,2172.4 2378.8,2172.4 2378.8,2175.0 2375.5,2175.0 2375.5,2171.3 2372.2,2171.3 2372.2,2176.7 2369.0,2176.7 2369.0,2174.8 2365.8,2174.8 2365.8,2172.8 2362.5,2172.8 2362.5,2171.5 2359.2,2171.5 2359.2,2176.1 2356.0,2176.1 2356.0,2176.5 2352.8,2176.5 2352.8,2171.9 2349.5,2171.9 2349.5,2175.2 2346.2,2175.2 2346.2,2173.3 2343.0,2173.3 2343.0,2173.6 2339.8,2173.6 2339.8,2177.4 2336.5,2177.4 2336.5,2177.8 2333.2,2177.8 2333.2,2174.9 2330.0,2174.9 2330.0,2177.2 2326.8,2177.2 2326.8,2176.6 2323.5,2176.6 2323.5,2173.5 2320.2,2173.5 2320.2,2171.5 2317.0,2171.5 2317.0,2172.6 2313.8,2172.6 2313.8,2173.5 2310.5,2173.5 2310.5,2176.6 2307.2,2176.6 2307.2,2176.3 2304.0,2176.3 2304.0,2178.0 2300.8,2178.0 2300.8,2176.3 2297.5,2176.3 2297.5,2173.0 2294.2,2173.0 2294.2,2176.5 2291.0,2176.5 2291.0,2175.7 2287.8,2175.7 2287.8,2174.4 2284.5,2174.4 2284.5,2176.7 2281.2,2176.7 2281.2,2174.3 2278.0,2174.3 2278.0,2174.9 2274.8,2174.9 2274.8,2174.2 2271.5,2174.2 2271.5,2174.9 2268.2,2174.9 2268.2,2173.3 2265.0,2173.3 2265.0,2175.7 2261.8,2175.7 2261.8,2175.4 2258.5,2175.4 2258.5,2173.7 2255.2,2173.7 2255.2,2172.2 2252.0,2172.2 2252.0,2174.7 2248.8,2174.7 2248.8,2176.5 2245.5,2176.5 2245.5,2177.2 2242.2,2177.2 2242.2,2174.3 2239.0,2174.3 2239.0,2173.1 2235.8,2173.1 2235.8,2174.7 2232.5,2174.7 2232.5,2172.3 2229.2,2172.3 2229.2,2176.5 2226.0,2176.5 2226.0,2174.3 2222.8,2174.3 2222.8,2172.7 2219.5,2172.7 2219.5,2174.5 2216.2,2174.5 2216.2,2174.4 2213.0,2174.4 2213.0,2176.2 2209.8,2176.2 2209.8,2173.1 2206.5,2173.1 2206.5,2173.7 2203.2,2173.7 2203.2,2174.7 2200.0,2174.7 2200.0,2174.6 2196.8,2174.6 2196.8,2177.3 2193.5,2177.3 2193.5,2173.8 2190.2,2173.8 2190.2,2173.9 2187.0,2173.9 2187.0,2177.4 2183.8,2177.4 2183.8,2176.4 2180.5,2176.4 2180.5,2172.5 2177.2,2172.5 2177.2,2174.5 2174.0,2174.5 2174.0,2175.2 2170.8,2175.2 2170.8,2175.5 2167.5,2175.5 2167.5,2176.7 2164.2,2176.7 2164.2,2176.0 2161.0,2176.0 2161.0,2174.8 2157.8,2174.8 2157.8,2174.3 2154.5,2174.3 2154.5,2176.4 2151.2,2176.4 2151.2,2174.5 2148.0,2174.5 2148.0,2174.6 2144.8,2174.6 2144.8,2174.7 2141.5,2174.7 2141.5,2178.4 2138.2,2178.4 2138.2,2174.8 2135.0,2174.8 2135.0,2174.7 2131.8,2174.7 2131.8,2174.3 2128.5,2174.3 2128.5,2177.4 2125.2,2177.4 2125.2,2178.2 2122.0,2178.2 2122.0,2175.9 2118.8,2175.9 2118.8,2173.1 2115.5,2173.1 2115.5,2171.4 2112.2,2171.4 2112.2,2172.8 2109.0,2172.8 2109.0,2175.9 2105.8,2175.9 2105.8,2172.9 2102.5,2172.9 2102.5,2176.6 2099.2,2176.6 2099.2,2173.7 2096.0,2173.7 2096.0,2175.4 2092.8,2175.4 2092.8,2174.3 2089.5,2174.3 2089.5,2175.2 2086.2,2175.2 2086.2,2176.8 2083.0,2176.8 2083.0,2175.0 2079.8,2175.0 2079.8,2178.0 2076.5,2178.0 2076.5,2175.8 2073.2,2175.8 2073.2,2174.8 2070.0,2174.8 2070.0,2174.5 2066.8,2174.5 2066.8,2176.2 2063.5,2176.2 2063.5,2173.5 2060.2,2173.5 2060.2,2175.6 2057.0,2175.6 2057.0,2173.7 2053.8,2173.7 2053.8,2171.5 2050.5,2171.5 2050.5,2173.5 2047.2,2173.5 2047.2,2173.5 2044.0,2173.5 2044.0,2175.9 2040.8,2175.9 2040.8,2177.9 2037.5,2177.9 2037.5,2176.8 2034.2,2176.8 2034.2,2175.9 2031.0,2175.9 2031.0,2178.2 2027.8,2178.2 2027.8,2175.7 2024.5,2175.7 2024.5,2171.4 2021.2,2171.4 2021.2,2174.1 2018.0,2174.1 2018.0,2172.7 2014.8,2172.7 2014.8,2171.6 2011.5,2171.6 2011.5,2174.2 2008.2,2174.2 2008.2,2175.8 2005.0,2175.8 2005.0,2174.6 2001.8,2174.6 2001.8,2176.9 1998.5,2176.9 1998.5,2175.3 1995.2,2175.3 1995.2,2172.3 1992.0,2172.3 1992.0,2175.0 1988.8,2175.0 1988.8,2175.5 1985.5,2175.5 1985.5,2171.6 1982.2,2171.6 1982.2,2172.4 1979.0,2172.4 1979.0,2175.3 1975.8,2175.3 1975.8,2175.9 1972.5,2175.9 1972.5,2173.8 1969.2,2173.8 1969.2,2172.6 1966.0,2172.6 1966.0,2172.7 1962.8,2172.7 1962.8,2173.6 1959.5,2173.6 1959.5,2175.3 1956.2,2175.3 1956.2,2177.0 1953.0,2177.0 1953.0,2173.4 1949.8,2173.4 1949.8,2176.2 1946.5,2176.2 1946.5,2176.5 1943.2,2176.5 1943.2,2173.9 1940.0,2173.9 1940.0,2175.0 1936.8,2175.0 1936.8,2174.8 1933.5,2174.8 1933.5,2174.3 1930.2,2174.3 1930.2,2172.3 1927.0,2172.3 1927.0,2177.1 1923.8,2177.1 1923.8,2177.7 1920.5,2177.7 1920.5,2174.0 1917.2,2174.0 1917.2,2175.1 1914.0,2175.1 1914.0,2173.0 1910.8,2173.0 1910.8,2173.7 1907.5,2173.7 1907.5,2172.7 1904.2,2172.7 1904.2,2174.9 1901.0,2174.9 1901.0,2173.9 1897.8,2173.9 1897.8,2174.8 1894.5,2174.8 1894.5,2176.7 1891.2,2176.7 1891.2,2174.6 1888.0,2174.6 1888.0,2177.8 1884.8,2177.8 1884.8,2174.0 1881.5,2174.0 1881.5,2174.1 1878.2,2174.1 1878.2,2172.2 1875.0,2172.2 1875.0,2173.0 1871.8,2173.0 1871.8,2171.3 1868.5,2171.3 1868.5,2173.8 1865.2,2173.8 1865.2,2172.7 1862.0,2172.7 1862.0,2171.4 1858.8,2171.4 1858.8,2175.2 1855.5,2175.2 1855.5,2175.6 1852.2,2175.6 1852.2,2174.1 1849.0,2174.1 1849.0,2176.7 1845.8,2176.7 1845.8,2176.3 1842.5,2176.3 1842.5,2175.8 1839.2,2175.8 1839.2,2172.3 1836.0,2172.3 1836.0,2172.3 1832.8,2172.3 1832.8,2176.9 1829.5,2176.9 1829.5,2176.9 1826.2,2176.9 1826.2,2176.6 1823.0,2176.6 1823.0,2175.6 1819.8,2175.6 1819.8,2175.6 1816.5,2175.6 1816.5,2175.5 1813.2,2175.5 1813.2,2178.3 1810.0,2178.3 1810.0,2174.6 1806.8,2174.6 1806.8,2175.1 1803.5,2175.1 1803.5,2174.4 1800.2,2174.4 1800.2,2176.1 1797.0,2176.1 1797.0,2174.8 1793.8,2174.8 1793.8,2175.4 1790.5,2175.4 1790.5,2176.8 1787.2,2176.8 1787.2,2176.8 1784.0,2176.8 1784.0,2172.6 1780.8,2172.6 1780.8,2175.3 1777.5,2175.3 1777.5,2173.9 1774.2,2173.9 1774.2,2174.6 1771.0,2174.6 1771.0,2172.9 1767.8,2172.9 1767.8,2177.5 1764.5,2177.5 1764.5,2173.3 1761.2,2173.3 1761.2,2171.5 1758.0,2171.5 1758.0,2173.5 1754.8,2173.5 1754.8,2175.4 1751.5,2175.4 1751.5,2172.7 1748.2,2172.7 1748.2,2174.3 1745.0,2174.3 1745.0,2173.9 1741.8,2173.9 1741.8,2174.3 1738.5,2174.3 1738.5,2175.6 1735.2,2175.6 1735.2,2173.1 1732.0,2173.1 1732.0,2175.6 1728.8,2175.6 1728.8,2171.7 1725.5,2171.7 1725.5,2172.0 1722.2,2172.0 1722.2,2174.5 1719.0,2174.5 1719.0,2175.2 1715.8,2175.2 1715.8,2177.2 1712.5,2177.2 1712.5,2176.1 1709.2,2176.1 1709.2,2171.7 1706.0,2171.7 1706.0,2173.2 1702.8,2173.2 1702.8,2176.9 1699.5,2176.9 1699.5,2174.4 1696.2,2174.4 1696.2,2174.5 1693.0,2174.5 1693.0,2174.8 1689.8,2174.8 1689.8,2175.1 1686.5,2175.1 1686.5,2175.6 1683.2,2175.6 1683.2,2175.2 1680.0,2175.2 1680.0,2174.9 1676.8,2174.9 1676.8,2173.2 1673.5,2173.2 1673.5,2177.1 1670.2,2177.1 1670.2,2174.4 1667.0,2174.4 1667.0,2171.7 1663.8,2171.7 1663.8,2171.3 1660.5,2171.3 1660.5,2175.5 1657.2,2175.5 1657.2,2175.1 1654.0,2175.1 1654.0,2176.9 1650.8,2176.9 1650.8,2175.1 1647.5,2175.1 1647.5,2175.7 1644.2,2175.7 1644.2,2175.8 1641.0,2175.8 1641.0,2175.1 1637.8,2175.1 1637.8,2174.6 1634.5,2174.6 1634.5,2172.5 1631.2,2172.5 1631.2,2176.2 1628.0,2176.2 1628.0,2171.3 1624.8,2171.3 1624.8,2172.7 1621.5,2172.7 1621.5,2176.3 1618.2,2176.3 1618.2,2173.1 1615.0,2173.1 1615.0,2173.7 1611.8,2173.7 1611.8,2173.6 1608.5,2173.6 1608.5,2176.2 1605.2,2176.2 1605.2,2176.3 1602.0,2176.3 1602.0,2176.8 1598.8,2176.8 1598.8,2174.8 1595.5,2174.8 1595.5,2175.4 1592.2,2175.4 1592.2,2175.3 1589.0,2175.3 1589.0,2174.2 1585.8,2174.2 1585.8,2175.0 1582.5,2175.0 1582.5,2172.5 1579.2,2172.5 1579.2,2172.6 1576.0,2172.6 1576.0,2172.2 1572.8,2172.2 1572.8,2174.7 1569.5,2174.7 1569.5,2171.9 1566.2,2171.9 1566.2,2177.2 1563.0,2177.2 1563.0,2178.3 1559.8,2178.3 1559.8,2174.4 1556.5,2174.4 1556.5,2175.2 1553.2,2175.2 1553.2,2175.6 1550.0,2175.6 1550.0,2174.6 1546.8,2174.6 1546.8,2173.8 1543.5,2173.8 1543.5,2175.3 1540.2,2175.3 1540.2,2176.0 1537.0,2176.0 1537.0,2176.7 1533.8,2176.7 1533.8,2174.4 1530.5,2174.4 1530.5,2174.6 1527.2,2174.6 1527.2,2177.7 1524.0,2177.7 1524.0,2173.0 1520.8,2173.0 1520.8,2173.2 1517.5,2173.2 1517.5,2177.3 1514.2,2177.3 1514.2,2176.9 1511.0,2176.9 1511.0,2173.3 1507.8,2173.3 1507.8,2173.0 1504.5,2173.0 1504.5,2175.2 1501.2,2175.2 1501.2,2172.3 1498.0,2172.3 1498.0,2176.4 1494.8,2176.4 1494.8,2172.7 1491.5,2172.7 1491.5,2174.1 1488.2,2174.1 1488.2,2173.7 1485.0,2173.7Z" fill="#4472C4" clip-path="url(#clip_c2)" opacity="0.75"/>
<path d="M1485.0,2152.7 1488.2,2152.7 1488.2,2153.3 1491.5,2153.3 1491.5,2150.6 1494.8,2150.6 1494.8,2151.3 1498.0,2151.3 1498.0,2149.6 1501.2,2149.6 1501.2,2155.7 1504.5,2155.7 1504.5,2156.2 1507.8,2156.2 1507.8,2153.2 1511.0,2153.2 1511.0,2153.2 1514.2,2153.2 1514.2,2152.5 1517.5,2152.5 1517.5,2154.2 1520.8,2154.2 1520.8,2153.2 1524.0,2153.2 1524.0,2153.0 1527.2,2153.0 1527.2,2150.8 1530.5,2150.8 1530.5,2153.1 1533.8,2153.1 1533.8,2150.6 1537.0,2150.6 1537.0,2149.5 1540.2,2149.5 1540.2,2153.1 1543.5,2153.1 1543.5,2150.8 1546.8,2150.8 1546.8,2152.7 1550.0,2152.7 1550.0,2154.0 1553.2,2154.0 1553.2,2151.0 1556.5,2151.0 1556.5,2155.0 1559.8,2155.0 1559.8,2154.5 1563.0,2154.5 1563.0,2156.0 1566.2,2156.0 1566.2,2152.2 1569.5,2152.2 1569.5,2151.8 1572.8,2151.8 1572.8,2151.0 1576.0,2151.0 1576.0,2155.2 1579.2,2155.2 1579.2,2155.9 1582.5,2155.9 1582.5,2156.3 1585.8,2156.3 1585.8,2154.8 1589.0,2154.8 1589.0,2151.7 1592.2,2151.7 1592.2,2154.2 1595.5,2154.2 1595.5,2156.1 1598.8,2156.1 1598.8,2155.6 1602.0,2155.6 1602.0,2151.6 1605.2,2151.6 1605.2,2154.0 1608.5,2154.0 1608.5,2151.1 1611.8,2151.1 1611.8,2151.1 1615.0,2151.1 1615.0,2153.0 1618.2,2153.0 1618.2,2153.0 1621.5,2153.0 1621.5,2149.8 1624.8,2149.8 1624.8,2151.9 1628.0,2151.9 1628.0,2150.2 1631.2,2150.2 1631.2,2152.7 1634.5,2152.7 1634.5,2152.9 1637.8,2152.9 1637.8,2155.8 1641.0,2155.8 1641.0,2154.4 1644.2,2154.4 1644.2,2154.6 1647.5,2154.6 1647.5,2152.1 1650.8,2152.1 1650.8,2151.8 1654.0,2151.8 1654.0,2156.3 1657.2,2156.3 1657.2,2153.4 1660.5,2153.4 1660.5,2154.3 1663.8,2154.3 1663.8,2156.4 1667.0,2156.4 1667.0,2153.8 1670.2,2153.8 1670.2,2153.6 1673.5,2153.6 1673.5,2155.2 1676.8,2155.2 1676.8,2150.3 1680.0,2150.3 1680.0,2155.2 1683.2,2155.2 1683.2,2149.4 1686.5,2149.4 1686.5,2152.0 1689.8,2152.0 1689.8,2153.4 1693.0,2153.4 1693.0,2156.0 1696.2,2156.0 1696.2,2156.3 1699.5,2156.3 1699.5,2156.2 1702.8,2156.2 1702.8,2155.2 1706.0,2155.2 1706.0,2151.4 1709.2,2151.4 1709.2,2153.0 1712.5,2153.0 1712.5,2152.6 1715.8,2152.6 1715.8,2153.3 1719.0,2153.3 1719.0,2152.2 1722.2,2152.2 1722.2,2153.4 1725.5,2153.4 1725.5,2154.3 1728.8,2154.3 1728.8,2151.9 1732.0,2151.9 1732.0,2155.6 1735.2,2155.6 1735.2,2155.7 1738.5,2155.7 1738.5,2153.7 1741.8,2153.7 1741.8,2152.2 1745.0,2152.2 1745.0,2153.4 1748.2,2153.4 1748.2,2153.4 1751.5,2153.4 1751.5,2153.4 1754.8,2153.4 1754.8,2151.0 1758.0,2151.0 1758.0,2149.5 1761.2,2149.5 1761.2,2154.3 1764.5,2154.3 1764.5,2152.9 1767.8,2152.9 1767.8,2150.4 1771.0,2150.4 1771.0,2153.8 1774.2,2153.8 1774.2,2151.1 1777.5,2151.1 1777.5,2153.5 1780.8,2153.5 1780.8,2149.6 1784.0,2149.6 1784.0,2150.4 1787.2,2150.4 1787.2,2150.1 1790.5,2150.1 1790.5,2151.5 1793.8,2151.5 1793.8,2152.3 1797.0,2152.3 1797.0,2150.8 1800.2,2150.8 1800.2,2154.3 1803.5,2154.3 1803.5,2153.2 1806.8,2153.2 1806.8,2152.5 1810.0,2152.5 1810.0,2149.2 1813.2,2149.2 1813.2,2152.6 1816.5,2152.6 1816.5,2153.6 1819.8,2153.6 1819.8,2153.9 1823.0,2153.9 1823.0,2152.0 1826.2,2152.0 1826.2,2152.0 1829.5,2152.0 1829.5,2154.0 1832.8,2154.0 1832.8,2154.9 1836.0,2154.9 1836.0,2152.1 1839.2,2152.1 1839.2,2154.6 1842.5,2154.6 1842.5,2153.5 1845.8,2153.5 1845.8,2151.7 1849.0,2151.7 1849.0,2154.7 1852.2,2154.7 1852.2,2155.6 1855.5,2155.6 1855.5,2155.0 1858.8,2155.0 1858.8,2153.4 1862.0,2153.4 1862.0,2149.6 1865.2,2149.6 1865.2,2154.7 1868.5,2154.7 1868.5,2153.2 1871.8,2153.2 1871.8,2153.9 1875.0,2153.9 1875.0,2155.7 1878.2,2155.7 1878.2,2154.3 1881.5,2154.3 1881.5,2154.6 1884.8,2154.6 1884.8,2156.1 1888.0,2156.1 1888.0,2154.3 1891.2,2154.3 1891.2,2152.1 1894.5,2152.1 1894.5,2154.0 1897.8,2154.0 1897.8,2154.0 1901.0,2154.0 1901.0,2152.8 1904.2,2152.8 1904.2,2153.3 1907.5,2153.3 1907.5,2155.3 1910.8,2155.3 1910.8,2153.1 1914.0,2153.1 1914.0,2153.4 1917.2,2153.4 1917.2,2154.6 1920.5,2154.6 1920.5,2155.9 1923.8,2155.9 1923.8,2156.5 1927.0,2156.5 1927.0,2154.3 1930.2,2154.3 1930.2,2154.7 1933.5,2154.7 1933.5,2156.0 1936.8,2156.0 1936.8,2156.2 1940.0,2156.2 1940.0,2154.5 1943.2,2154.5 1943.2,2155.5 1946.5,2155.5 1946.5,2152.7 1949.8,2152.7 1949.8,2154.5 1953.0,2154.5 1953.0,2155.9 1956.2,2155.9 1956.2,2154.8 1959.5,2154.8 1959.5,2151.6 1962.8,2151.6 1962.8,2156.2 1966.0,2156.2 1966.0,2154.4 1969.2,2154.4 1969.2,2153.9 1972.5,2153.9 1972.5,2151.6 1975.8,2151.6 1975.8,2152.3 1979.0,2152.3 1979.0,2153.2 1982.2,2153.2 1982.2,2156.4 1985.5,2156.4 1985.5,2153.6 1988.8,2153.6 1988.8,2156.1 1992.0,2156.1 1992.0,2150.9 1995.2,2150.9 1995.2,2152.1 1998.5,2152.1 1998.5,2153.2 2001.8,2153.2 2001.8,2153.4 2005.0,2153.4 2005.0,2150.3 2008.2,2150.3 2008.2,2150.3 2011.5,2150.3 2011.5,2155.8 2014.8,2155.8 2014.8,2155.2 2018.0,2155.2 2018.0,2152.5 2021.2,2152.5 2021.2,2155.4 2024.5,2155.4 2024.5,2155.8 2027.8,2155.8 2027.8,2155.1 2031.0,2155.1 2031.0,2155.7 2034.2,2155.7 2034.2,2151.0 2037.5,2151.0 2037.5,2155.3 2040.8,2155.3 2040.8,2156.1 2044.0,2156.1 2044.0,2152.8 2047.2,2152.8 2047.2,2153.4 2050.5,2153.4 2050.5,2153.0 2053.8,2153.0 2053.8,2154.0 2057.0,2154.0 2057.0,2150.4 2060.2,2150.4 2060.2,2150.9 2063.5,2150.9 2063.5,2149.9 2066.8,2149.9 2066.8,2152.2 2070.0,2152.2 2070.0,2152.7 2073.2,2152.7 2073.2,2155.2 2076.5,2155.2 2076.5,2156.1 2079.8,2156.1 2079.8,2153.6 2083.0,2153.6 2083.0,2154.5 2086.2,2154.5 2086.2,2154.7 2089.5,2154.7 2089.5,2153.4 2092.8,2153.4 2092.8,2154.1 2096.0,2154.1 2096.0,2154.1 2099.2,2154.1 2099.2,2154.0 2102.5,2154.0 2102.5,2152.2 2105.8,2152.2 2105.8,2153.9 2109.0,2153.9 2109.0,2153.7 2112.2,2153.7 2112.2,2154.9 2115.5,2154.9 2115.5,2151.2 2118.8,2151.2 2118.8,2150.0 2122.0,2150.0 2122.0,2153.1 2125.2,2153.1 2125.2,2153.9 2128.5,2153.9 2128.5,2152.1 2131.8,2152.1 2131.8,2152.6 2135.0,2152.6 2135.0,2152.7 2138.2,2152.7 2138.2,2152.6 2141.5,2152.6 2141.5,2151.6 2144.8,2151.6 2144.8,2153.5 2148.0,2153.5 2148.0,2154.8 2151.2,2154.8 2151.2,2149.3 2154.5,2149.3 2154.5,2151.7 2157.8,2151.7 2157.8,2155.3 2161.0,2155.3 2161.0,2151.5 2164.2,2151.5 2164.2,2152.5 2167.5,2152.5 2167.5,2156.0 2170.8,2156.0 2170.8,2151.9 2174.0,2151.9 2174.0,2152.2 2177.2,2152.2 2177.2,2155.3 2180.5,2155.3 2180.5,2150.2 2183.8,2150.2 2183.8,2150.4 2187.0,2150.4 2187.0,2151.2 2190.2,2151.2 2190.2,2151.7 2193.5,2151.7 2193.5,2155.1 2196.8,2155.1 2196.8,2154.9 2200.0,2154.9 2200.0,2156.5 2203.2,2156.5 2203.2,2154.3 2206.5,2154.3 2206.5,2150.8 2209.8,2150.8 2209.8,2149.8 2213.0,2149.8 2213.0,2153.4 2216.2,2153.4 2216.2,2152.1 2219.5,2152.1 2219.5,2151.0 2222.8,2151.0 2222.8,2155.0 2226.0,2155.0 2226.0,2150.0 2229.2,2150.0 2229.2,2155.2 2232.5,2155.2 2232.5,2153.6 2235.8,2153.6 2235.8,2154.5 2239.0,2154.5 2239.0,2150.9 2242.2,2150.9 2242.2,2153.2 2245.5,2153.2 2245.5,2151.4 2248.8,2151.4 2248.8,2153.5 2252.0,2153.5 2252.0,2154.5 2255.2,2154.5 2255.2,2152.1 2258.5,2152.1 2258.5,2152.2 2261.8,2152.2 2261.8,2150.0 2265.0,2150.0 2265.0,2152.7 2268.2,2152.7 2268.2,2155.0 2271.5,2155.0 2271.5,2154.5 2274.8,2154.5 2274.8,2153.1 2278.0,2153.1 2278.0,2150.3 2281.2,2150.3 2281.2,2154.5 2284.5,2154.5 2284.5,2154.3 2287.8,2154.3 2287.8,2155.0 2291.0,2155.0 2291.0,2154.3 2294.2,2154.3 2294.2,2154.9 2297.5,2154.9 2297.5,2152.3 2300.8,2152.3 2300.8,2154.4 2304.0,2154.4 2304.0,2152.6 2307.2,2152.6 2307.2,2155.9 2310.5,2155.9 2310.5,2156.1 2313.8,2156.1 2313.8,2154.0 2317.0,2154.0 2317.0,2152.6 2320.2,2152.6 2320.2,2154.7 2323.5,2154.7 2323.5,2155.1 2326.8,2155.1 2326.8,2155.9 2330.0,2155.9 2330.0,2156.5 2333.2,2156.5 2333.2,2156.1 2336.5,2156.1 2336.5,2154.0 2339.8,2154.0 2339.8,2155.7 2343.0,2155.7 2343.0,2152.0 2346.2,2152.0 2346.2,2151.1 2349.5,2151.1 2349.5,2155.3 2352.8,2155.3 2352.8,2155.6 2356.0,2155.6 2356.0,2153.6 2359.2,2153.6 2359.2,2154.0 2362.5,2154.0 2362.5,2154.2 2365.8,2154.2 2365.8,2154.3 2369.0,2154.3 2369.0,2156.3 2372.2,2156.3 2372.2,2153.7 2375.5,2153.7 2375.5,2156.4 2378.8,2156.4 2378.8,2153.4 2382.0,2153.4 2382.0,2155.6 2385.2,2155.6 2385.2,2156.2 2388.5,2156.2 2388.5,2156.3 2391.8,2156.3 2391.8,2155.8 2395.0,2155.8 2395.0,2153.2 2397.0,2153.2 2397.0,2168.8 2395.0,2168.8 2395.0,2170.9 2391.8,2170.9 2391.8,2169.0 2388.5,2169.0 2388.5,2170.3 2385.2,2170.3 2385.2,2170.4 2382.0,2170.4 2382.0,2168.9 2378.8,2168.9 2378.8,2171.6 2375.5,2171.6 2375.5,2168.4 2372.2,2168.4 2372.2,2167.4 2369.0,2167.4 2369.0,2169.0 2365.8,2169.0 2365.8,2169.7 2362.5,2169.7 2362.5,2171.7 2359.2,2171.7 2359.2,2173.0 2356.0,2173.0 2356.0,2169.8 2352.8,2169.8 2352.8,2166.6 2349.5,2166.6 2349.5,2170.8 2346.2,2170.8 2346.2,2167.5 2343.0,2167.5 2343.0,2171.1 2339.8,2171.1 2339.8,2171.1 2336.5,2171.1 2336.5,2168.6 2333.2,2168.6 2333.2,2170.9 2330.0,2170.9 2330.0,2172.3 2326.8,2172.3 2326.8,2170.2 2323.5,2170.2 2323.5,2168.9 2320.2,2168.9 2320.2,2172.6 2317.0,2172.6 2317.0,2169.6 2313.8,2169.6 2313.8,2169.0 2310.5,2169.0 2310.5,2170.3 2307.2,2170.3 2307.2,2167.5 2304.0,2167.5 2304.0,2172.6 2300.8,2172.6 2300.8,2174.3 2297.5,2174.3 2297.5,2169.0 2294.2,2169.0 2294.2,2168.7 2291.0,2168.7 2291.0,2169.9 2287.8,2169.9 2287.8,2168.1 2284.5,2168.1 2284.5,2168.5 2281.2,2168.5 2281.2,2170.6 2278.0,2170.6 2278.0,2171.4 2274.8,2171.4 2274.8,2167.6 2271.5,2167.6 2271.5,2168.2 2268.2,2168.2 2268.2,2171.2 2265.0,2171.2 2265.0,2169.2 2261.8,2169.2 2261.8,2169.2 2258.5,2169.2 2258.5,2170.1 2255.2,2170.1 2255.2,2171.3 2252.0,2171.3 2252.0,2169.9 2248.8,2169.9 2248.8,2169.4 2245.5,2169.4 2245.5,2168.2 2242.2,2168.2 2242.2,2169.0 2239.0,2169.0 2239.0,2167.7 2235.8,2167.7 2235.8,2168.6 2232.5,2168.6 2232.5,2168.1 2229.2,2168.1 2229.2,2170.9 2226.0,2170.9 2226.0,2171.0 2222.8,2171.0 2222.8,2168.3 2219.5,2168.3 2219.5,2166.7 2216.2,2166.7 2216.2,2171.4 2213.0,2171.4 2213.0,2169.1 2209.8,2169.1 2209.8,2166.9 2206.5,2166.9 2206.5,2172.5 2203.2,2172.5 2203.2,2170.9 2200.0,2170.9 2200.0,2167.0 2196.8,2167.0 2196.8,2167.5 2193.5,2167.5 2193.5,2168.9 2190.2,2168.9 2190.2,2167.7 2187.0,2167.7 2187.0,2169.6 2183.8,2169.6 2183.8,2169.5 2180.5,2169.5 2180.5,2167.6 2177.2,2167.6 2177.2,2168.4 2174.0,2168.4 2174.0,2169.9 2170.8,2169.9 2170.8,2169.2 2167.5,2169.2 2167.5,2172.0 2164.2,2172.0 2164.2,2172.7 2161.0,2172.7 2161.0,2170.3 2157.8,2170.3 2157.8,2171.7 2154.5,2171.7 2154.5,2170.0 2151.2,2170.0 2151.2,2173.3 2148.0,2173.3 2148.0,2174.2 2144.8,2174.2 2144.8,2172.7 2141.5,2172.7 2141.5,2172.9 2138.2,2172.9 2138.2,2169.6 2135.0,2169.6 2135.0,2170.7 2131.8,2170.7 2131.8,2172.1 2128.5,2172.1 2128.5,2169.8 2125.2,2169.8 2125.2,2167.9 2122.0,2167.9 2122.0,2170.5 2118.8,2170.5 2118.8,2166.9 2115.5,2166.9 2115.5,2167.6 2112.2,2167.6 2112.2,2167.0 2109.0,2167.0 2109.0,2167.6 2105.8,2167.6 2105.8,2168.0 2102.5,2168.0 2102.5,2168.5 2099.2,2168.5 2099.2,2168.9 2096.0,2168.9 2096.0,2168.9 2092.8,2168.9 2092.8,2167.6 2089.5,2167.6 2089.5,2172.2 2086.2,2172.2 2086.2,2174.1 2083.0,2174.1 2083.0,2167.8 2079.8,2167.8 2079.8,2167.4 2076.5,2167.4 2076.5,2167.4 2073.2,2167.4 2073.2,2168.0 2070.0,2168.0 2070.0,2170.2 2066.8,2170.2 2066.8,2170.1 2063.5,2170.1 2063.5,2167.5 2060.2,2167.5 2060.2,2167.9 2057.0,2167.9 2057.0,2169.8 2053.8,2169.8 2053.8,2169.9 2050.5,2169.9 2050.5,2170.3 2047.2,2170.3 2047.2,2167.7 2044.0,2167.7 2044.0,2170.2 2040.8,2170.2 2040.8,2171.9 2037.5,2171.9 2037.5,2171.9 2034.2,2171.9 2034.2,2172.7 2031.0,2172.7 2031.0,2171.8 2027.8,2171.8 2027.8,2169.3 2024.5,2169.3 2024.5,2167.4 2021.2,2167.4 2021.2,2166.5 2018.0,2166.5 2018.0,2169.5 2014.8,2169.5 2014.8,2170.2 2011.5,2170.2 2011.5,2170.1 2008.2,2170.1 2008.2,2169.8 2005.0,2169.8 2005.0,2170.5 2001.8,2170.5 2001.8,2169.8 1998.5,2169.8 1998.5,2169.7 1995.2,2169.7 1995.2,2169.4 1992.0,2169.4 1992.0,2173.2 1988.8,2173.2 1988.8,2169.8 1985.5,2169.8 1985.5,2167.8 1982.2,2167.8 1982.2,2171.0 1979.0,2171.0 1979.0,2172.2 1975.8,2172.2 1975.8,2168.7 1972.5,2168.7 1972.5,2169.6 1969.2,2169.6 1969.2,2171.9 1966.0,2171.9 1966.0,2169.2 1962.8,2169.2 1962.8,2170.2 1959.5,2170.2 1959.5,2172.2 1956.2,2172.2 1956.2,2171.6 1953.0,2171.6 1953.0,2170.6 1949.8,2170.6 1949.8,2172.4 1946.5,2172.4 1946.5,2166.8 1943.2,2166.8 1943.2,2168.8 1940.0,2168.8 1940.0,2168.6 1936.8,2168.6 1936.8,2170.4 1933.5,2170.4 1933.5,2167.6 1930.2,2167.6 1930.2,2170.2 1927.0,2170.2 1927.0,2171.2 1923.8,2171.2 1923.8,2169.9 1920.5,2169.9 1920.5,2167.1 1917.2,2167.1 1917.2,2170.4 1914.0,2170.4 1914.0,2170.6 1910.8,2170.6 1910.8,2171.9 1907.5,2171.9 1907.5,2172.3 1904.2,2172.3 1904.2,2172.9 1901.0,2172.9 1901.0,2172.9 1897.8,2172.9 1897.8,2169.4 1894.5,2169.4 1894.5,2168.9 1891.2,2168.9 1891.2,2166.8 1888.0,2166.8 1888.0,2167.8 1884.8,2167.8 1884.8,2169.4 1881.5,2169.4 1881.5,2170.6 1878.2,2170.6 1878.2,2172.5 1875.0,2172.5 1875.0,2169.8 1871.8,2169.8 1871.8,2171.8 1868.5,2171.8 1868.5,2173.4 1865.2,2173.4 1865.2,2173.8 1862.0,2173.8 1862.0,2172.8 1858.8,2172.8 1858.8,2169.5 1855.5,2169.5 1855.5,2169.3 1852.2,2169.3 1852.2,2171.6 1849.0,2171.6 1849.0,2168.8 1845.8,2168.8 1845.8,2169.4 1842.5,2169.4 1842.5,2169.6 1839.2,2169.6 1839.2,2169.5 1836.0,2169.5 1836.0,2169.9 1832.8,2169.9 1832.8,2171.9 1829.5,2171.9 1829.5,2173.9 1826.2,2173.9 1826.2,2169.3 1823.0,2169.3 1823.0,2169.6 1819.8,2169.6 1819.8,2171.4 1816.5,2171.4 1816.5,2169.7 1813.2,2169.7 1813.2,2171.0 1810.0,2171.0 1810.0,2169.4 1806.8,2169.4 1806.8,2167.9 1803.5,2167.9 1803.5,2168.7 1800.2,2168.7 1800.2,2169.5 1797.0,2169.5 1797.0,2171.5 1793.8,2171.5 1793.8,2170.9 1790.5,2170.9 1790.5,2170.7 1787.2,2170.7 1787.2,2169.5 1784.0,2169.5 1784.0,2169.6 1780.8,2169.6 1780.8,2173.9 1777.5,2173.9 1777.5,2169.3 1774.2,2169.3 1774.2,2168.4 1771.0,2168.4 1771.0,2170.9 1767.8,2170.9 1767.8,2171.8 1764.5,2171.8 1764.5,2168.5 1761.2,2168.5 1761.2,2170.4 1758.0,2170.4 1758.0,2167.6 1754.8,2167.6 1754.8,2166.8 1751.5,2166.8 1751.5,2167.8 1748.2,2167.8 1748.2,2167.5 1745.0,2167.5 1745.0,2171.3 1741.8,2171.3 1741.8,2171.1 1738.5,2171.1 1738.5,2170.6 1735.2,2170.6 1735.2,2169.7 1732.0,2169.7 1732.0,2172.8 1728.8,2172.8 1728.8,2171.4 1725.5,2171.4 1725.5,2169.2 1722.2,2169.2 1722.2,2166.7 1719.0,2166.7 1719.0,2167.9 1715.8,2167.9 1715.8,2166.6 1712.5,2166.6 1712.5,2167.1 1709.2,2167.1 1709.2,2166.7 1706.0,2166.7 1706.0,2166.7 1702.8,2166.7 1702.8,2168.8 1699.5,2168.8 1699.5,2170.8 1696.2,2170.8 1696.2,2172.5 1693.0,2172.5 1693.0,2168.0 1689.8,2168.0 1689.8,2168.5 1686.5,2168.5 1686.5,2170.3 1683.2,2170.3 1683.2,2172.9 1680.0,2172.9 1680.0,2169.1 1676.8,2169.1 1676.8,2171.2 1673.5,2171.2 1673.5,2169.3 1670.2,2169.3 1670.2,2169.8 1667.0,2169.8 1667.0,2170.8 1663.8,2170.8 1663.8,2169.5 1660.5,2169.5 1660.5,2171.5 1657.2,2171.5 1657.2,2168.6 1654.0,2168.6 1654.0,2171.4 1650.8,2171.4 1650.8,2168.2 1647.5,2168.2 1647.5,2168.2 1644.2,2168.2 1644.2,2167.3 1641.0,2167.3 1641.0,2171.3 1637.8,2171.3 1637.8,2167.3 1634.5,2167.3 1634.5,2174.5 1631.2,2174.5 1631.2,2170.8 1628.0,2170.8 1628.0,2171.1 1624.8,2171.1 1624.8,2169.5 1621.5,2169.5 1621.5,2170.4 1618.2,2170.4 1618.2,2166.9 1615.0,2166.9 1615.0,2168.4 1611.8,2168.4 1611.8,2170.9 1608.5,2170.9 1608.5,2169.8 1605.2,2169.8 1605.2,2168.9 1602.0,2168.9 1602.0,2169.5 1598.8,2169.5 1598.8,2171.4 1595.5,2171.4 1595.5,2172.3 1592.2,2172.3 1592.2,2173.5 1589.0,2173.5 1589.0,2169.6 1585.8,2169.6 1585.8,2173.3 1582.5,2173.3 1582.5,2171.0 1579.2,2171.0 1579.2,2169.3 1576.0,2169.3 1576.0,2171.8 1572.8,2171.8 1572.8,2167.5 1569.5,2167.5 1569.5,2170.6 1566.2,2170.6 1566.2,2172.9 1563.0,2172.9 1563.0,2168.0 1559.8,2168.0 1559.8,2169.6 1556.5,2169.6 1556.5,2170.2 1553.2,2170.2 1553.2,2171.6 1550.0,2171.6 1550.0,2169.8 1546.8,2169.8 1546.8,2169.8 1543.5,2169.8 1543.5,2170.7 1540.2,2170.7 1540.2,2171.9 1537.0,2171.9 1537.0,2173.6 1533.8,2173.6 1533.8,2166.8 1530.5,2166.8 1530.5,2167.4 1527.2,2167.4 1527.2,2172.4 1524.0,2172.4 1524.0,2169.6 1520.8,2169.6 1520.8,2168.2 1517.5,2168.2 1517.5,2172.4 1514.2,2172.4 1514.2,2172.3 1511.0,2172.3 1511.0,2166.8 1507.8,2166.8 1507.8,2166.5 1504.5,2166.5 1504.5,2166.7 1501.2,2166.7 1501.2,2171.5 1498.0,2171.5 1498.0,2166.7 1494.8,2166.7 1494.8,2171.9 1491.5,2171.9 1491.5,2169.5 1488.2,2169.5 1488.2,2170.8 1485.0,2170.8Z" fill="#ED7D31" clip-path="url(#clip_c2)"/>
<path d="M1485.0,2351.5 1488.2,2351.5 1488.2,2351.7 1491.5,2351.7 1491.5,2354.2 1494.8,2354.2 1494.8,2351.9 1498.0,2351.9 1498.0,2353.3 1501.2,2353.3 1501.2,2354.1 1504.5,2354.1 1504.5,2353.4 1507.8,2353.4 1507.8,2352.9 1511.0,2352.9 1511.0,2355.3 1514.2,2355.3 1514.2,2354.2 1517.5,2354.2 1517.5,2352.9 1520.8,2352.9 1520.8,2350.0 1524.0,2350.0 1524.0,2352.6 1527.2,2352.6 1527.2,2352.4 1530.5,2352.4 1530.5,2352.1 1533.8,2352.1 1533.8,2353.0 1537.0,2353.0 1537.0,2350.7 1540.2,2350.7 1540.2,2353.8 1543.5,2353.8 1543.5,2352.1 1546.8,2352.1 1546.8,2354.5 1550.0,2354.5 1550.0,2353.7 1553.2,2353.7 1553.2,2351.6 1556.5,2351.6 1556.5,2353.9 1559.8,2353.9 1559.8,2353.8 1563.0,2353.8 1563.0,2352.6 1566.2,2352.6 1566.2,2354.5 1569.5,2354.5 1569.5,2353.0 1572.8,2353.0 1572.8,2353.6 1576.0,2353.6 1576.0,2353.8 1579.2,2353.8 1579.2,2354.4 1582.5,2354.4 1582.5,2349.9 1585.8,2349.9 1585.8,2355.2 1589.0,2355.2 1589.0,2351.7 1592.2,2351.7 1592.2,2349.8 1595.5,2349.8 1595.5,2351.8 1598.8,2351.8 1598.8,2349.9 1602.0,2349.9 1602.0,2355.6 1605.2,2355.6 1605.2,2355.6 1608.5,2355.6 1608.5,2353.7 1611.8,2353.7 1611.8,2352.7 1615.0,2352.7 1615.0,2349.7 1618.2,2349.7 1618.2,2352.3 1621.5,2352.3 1621.5,2351.8 1624.8,2351.8 1624.8,2352.7 1628.0,2352.7 1628.0,2350.1 1631.2,2350.1 1631.2,2348.6 1634.5,2348.6 1634.5,2350.5 1637.8,2350.5 1637.8,2352.7 1641.0,2352.7 1641.0,2351.2 1644.2,2351.2 1644.2,2353.7 1647.5,2353.7 1647.5,2353.0 1650.8,2353.0 1650.8,2349.5 1654.0,2349.5 1654.0,2348.8 1657.2,2348.8 1657.2,2352.6 1660.5,2352.6 1660.5,2352.7 1663.8,2352.7 1663.8,2352.4 1667.0,2352.4 1667.0,2353.8 1670.2,2353.8 1670.2,2353.9 1673.5,2353.9 1673.5,2352.1 1676.8,2352.1 1676.8,2352.2 1680.0,2352.2 1680.0,2354.4 1683.2,2354.4 1683.2,2354.0 1686.5,2354.0 1686.5,2353.3 1689.8,2353.3 1689.8,2349.2 1693.0,2349.2 1693.0,2353.3 1696.2,2353.3 1696.2,2349.8 1699.5,2349.8 1699.5,2352.7 1702.8,2352.7 1702.8,2349.8 1706.0,2349.8 1706.0,2352.8 1709.2,2352.8 1709.2,2352.7 1712.5,2352.7 1712.5,2352.3 1715.8,2352.3 1715.8,2350.8 1719.0,2350.8 1719.0,2353.9 1722.2,2353.9 1722.2,2351.0 1725.5,2351.0 1725.5,2349.4 1728.8,2349.4 1728.8,2352.9 1732.0,2352.9 1732.0,2354.0 1735.2,2354.0 1735.2,2353.0 1738.5,2353.0 1738.5,2352.2 1741.8,2352.2 1741.8,2353.6 1745.0,2353.6 1745.0,2354.6 1748.2,2354.6 1748.2,2355.5 1751.5,2355.5 1751.5,2351.4 1754.8,2351.4 1754.8,2354.1 1758.0,2354.1 1758.0,2353.0 1761.2,2353.0 1761.2,2353.4 1764.5,2353.4 1764.5,2352.0 1767.8,2352.0 1767.8,2353.6 1771.0,2353.6 1771.0,2353.0 1774.2,2353.0 1774.2,2353.0 1777.5,2353.0 1777.5,2352.5 1780.8,2352.5 1780.8,2353.3 1784.0,2353.3 1784.0,2351.1 1787.2,2351.1 1787.2,2349.6 1790.5,2349.6 1790.5,2351.0 1793.8,2351.0 1793.8,2352.7 1797.0,2352.7 1797.0,2351.5 1800.2,2351.5 1800.2,2351.2 1803.5,2351.2 1803.5,2350.5 1806.8,2350.5 1806.8,2350.5 1810.0,2350.5 1810.0,2351.0 1813.2,2351.0 1813.2,2353.5 1816.5,2353.5 1816.5,2350.0 1819.8,2350.0 1819.8,2352.5 1823.0,2352.5 1823.0,2354.8 1826.2,2354.8 1826.2,2349.3 1829.5,2349.3 1829.5,2351.3 1832.8,2351.3 1832.8,2349.8 1836.0,2349.8 1836.0,2352.7 1839.2,2352.7 1839.2,2352.3 1842.5,2352.3 1842.5,2355.0 1845.8,2355.0 1845.8,2354.2 1849.0,2354.2 1849.0,2350.5 1852.2,2350.5 1852.2,2352.6 1855.5,2352.6 1855.5,2351.0 1858.8,2351.0 1858.8,2350.1 1862.0,2350.1 1862.0,2349.4 1865.2,2349.4 1865.2,2350.4 1868.5,2350.4 1868.5,2349.0 1871.8,2349.0 1871.8,2351.5 1875.0,2351.5 1875.0,2354.6 1878.2,2354.6 1878.2,2355.0 1881.5,2355.0 1881.5,2349.8 1884.8,2349.8 1884.8,2353.5 1888.0,2353.5 1888.0,2349.2 1891.2,2349.2 1891.2,2354.3 1894.5,2354.3 1894.5,2351.6 1897.8,2351.6 1897.8,2352.7 1901.0,2352.7 1901.0,2354.3 1904.2,2354.3 1904.2,2354.9 1907.5,2354.9 1907.5,2351.7 1910.8,2351.7 1910.8,2352.3 1914.0,2352.3 1914.0,2351.9 1917.2,2351.9 1917.2,2352.2 1920.5,2352.2 1920.5,2350.6 1923.8,2350.6 1923.8,2350.9 1927.0,2350.9 1927.0,2350.7 1930.2,2350.7 1930.2,2350.2 1933.5,2350.2 1933.5,2350.8 1936.8,2350.8 1936.8,2355.0 1940.0,2355.0 1940.0,2351.0 1943.2,2351.0 1943.2,2354.9 1946.5,2354.9 1946.5,2355.6 1949.8,2355.6 1949.8,2355.6 1953.0,2355.6 1953.0,2352.6 1956.2,2352.6 1956.2,2351.3 1959.5,2351.3 1959.5,2355.5 1962.8,2355.5 1962.8,2355.7 1966.0,2355.7 1966.0,2353.0 1969.2,2353.0 1969.2,2349.5 1972.5,2349.5 1972.5,2353.7 1975.8,2353.7 1975.8,2354.3 1979.0,2354.3 1979.0,2352.1 1982.2,2352.1 1982.2,2354.7 1985.5,2354.7 1985.5,2353.6 1988.8,2353.6 1988.8,2352.9 1992.0,2352.9 1992.0,2352.6 1995.2,2352.6 1995.2,2354.4 1998.5,2354.4 1998.5,2352.6 2001.8,2352.6 2001.8,2349.7 2005.0,2349.7 2005.0,2350.9 2008.2,2350.9 2008.2,2353.8 2011.5,2353.8 2011.5,2352.6 2014.8,2352.6 2014.8,2352.4 2018.0,2352.4 2018.0,2355.7 2021.2,2355.7 2021.2,2354.4 2024.5,2354.4 2024.5,2351.1 2027.8,2351.1 2027.8,2351.7 2031.0,2351.7 2031.0,2353.4 2034.2,2353.4 2034.2,2353.7 2037.5,2353.7 2037.5,2352.7 2040.8,2352.7 2040.8,2352.1 2044.0,2352.1 2044.0,2353.0 2047.2,2353.0 2047.2,2353.0 2050.5,2353.0 2050.5,2353.2 2053.8,2353.2 2053.8,2353.0 2057.0,2353.0 2057.0,2355.2 2060.2,2355.2 2060.2,2354.5 2063.5,2354.5 2063.5,2350.7 2066.8,2350.7 2066.8,2349.3 2070.0,2349.3 2070.0,2352.8 2073.2,2352.8 2073.2,2353.0 2076.5,2353.0 2076.5,2351.1 2079.8,2351.1 2079.8,2352.6 2083.0,2352.6 2083.0,2348.8 2086.2,2348.8 2086.2,2350.6 2089.5,2350.6 2089.5,2350.3 2092.8,2350.3 2092.8,2349.9 2096.0,2349.9 2096.0,2351.7 2099.2,2351.7 2099.2,2348.8 2102.5,2348.8 2102.5,2352.3 2105.8,2352.3 2105.8,2351.1 2109.0,2351.1 2109.0,2350.5 2112.2,2350.5 2112.2,2353.3 2115.5,2353.3 2115.5,2355.1 2118.8,2355.1 2118.8,2353.2 2122.0,2353.2 2122.0,2350.6 2125.2,2350.6 2125.2,2355.2 2128.5,2355.2 2128.5,2354.1 2131.8,2354.1 2131.8,2355.7 2135.0,2355.7 2135.0,2353.2 2138.2,2353.2 2138.2,2354.7 2141.5,2354.7 2141.5,2354.0 2144.8,2354.0 2144.8,2355.2 2148.0,2355.2 2148.0,2351.0 2151.2,2351.0 2151.2,2350.8 2154.5,2350.8 2154.5,2352.1 2157.8,2352.1 2157.8,2349.4 2161.0,2349.4 2161.0,2350.4 2164.2,2350.4 2164.2,2351.9 2167.5,2351.9 2167.5,2351.3 2170.8,2351.3 2170.8,2353.0 2174.0,2353.0 2174.0,2349.8 2177.2,2349.8 2177.2,2351.8 2180.5,2351.8 2180.5,2351.5 2183.8,2351.5 2183.8,2352.8 2187.0,2352.8 2187.0,2352.8 2190.2,2352.8 2190.2,2354.6 2193.5,2354.6 2193.5,2355.5 2196.8,2355.5 2196.8,2355.3 2200.0,2355.3 2200.0,2355.0 2203.2,2355.0 2203.2,2355.3 2206.5,2355.3 2206.5,2353.4 2209.8,2353.4 2209.8,2351.9 2213.0,2351.9 2213.0,2351.6 2216.2,2351.6 2216.2,2352.9 2219.5,2352.9 2219.5,2351.2 2222.8,2351.2 2222.8,2354.7 2226.0,2354.7 2226.0,2353.4 2229.2,2353.4 2229.2,2355.7 2232.5,2355.7 2232.5,2354.8 2235.8,2354.8 2235.8,2355.4 2239.0,2355.4 2239.0,2352.3 2242.2,2352.3 2242.2,2355.0 2245.5,2355.0 2245.5,2351.1 2248.8,2351.1 2248.8,2352.7 2252.0,2352.7 2252.0,2354.4 2255.2,2354.4 2255.2,2355.3 2258.5,2355.3 2258.5,2355.3 2261.8,2355.3 2261.8,2350.9 2265.0,2350.9 2265.0,2355.1 2268.2,2355.1 2268.2,2354.3 2271.5,2354.3 2271.5,2353.4 2274.8,2353.4 2274.8,2353.4 2278.0,2353.4 2278.0,2354.2 2281.2,2354.2 2281.2,2352.4 2284.5,2352.4 2284.5,2351.9 2287.8,2351.9 2287.8,2355.6 2291.0,2355.6 2291.0,2352.5 2294.2,2352.5 2294.2,2353.5 2297.5,2353.5 2297.5,2354.8 2300.8,2354.8 2300.8,2353.1 2304.0,2353.1 2304.0,2354.3 2307.2,2354.3 2307.2,2349.8 2310.5,2349.8 2310.5,2349.3 2313.8,2349.3 2313.8,2350.9 2317.0,2350.9 2317.0,2351.4 2320.2,2351.4 2320.2,2350.9 2323.5,2350.9 2323.5,2350.8 2326.8,2350.8 2326.8,2352.1 2330.0,2352.1 2330.0,2352.0 2333.2,2352.0 2333.2,2352.1 2336.5,2352.1 2336.5,2353.8 2339.8,2353.8 2339.8,2351.4 2343.0,2351.4 2343.0,2352.4 2346.2,2352.4 2346.2,2352.5 2349.5,2352.5 2349.5,2349.7 2352.8,2349.7 2352.8,2349.9 2356.0,2349.9 2356.0,2354.7 2359.2,2354.7 2359.2,2351.5 2362.5,2351.5 2362.5,2351.8 2365.8,2351.8 2365.8,2352.8 2369.0,2352.8 2369.0,2354.2 2372.2,2354.2 2372.2,2354.7 2375.5,2354.7 2375.5,2354.8 2378.8,2354.8 2378.8,2352.3 2382.0,2352.3 2382.0,2354.7 2385.2,2354.7 2385.2,2355.4 2388.5,2355.4 2388.5,2354.9 2391.8,2354.9 2391.8,2354.6 2395.0,2354.6 2395.0,2353.7 2397.0,2353.7 2397.0,2365.5 2395.0,2365.5 2395.0,2364.9 2391.8,2364.9 2391.8,2363.2 2388.5,2363.2 2388.5,2366.7 2385.2,2366.7 2385.2,2365.0 2382.0,2365.0 2382.0,2364.5 2378.8,2364.5 2378.8,2367.0 2375.5,2367.0 2375.5,2365.1 2372.2,2365.1 2372.2,2364.3 2369.0,2364.3 2369.0,2365.6 2365.8,2365.6 2365.8,2367.2 2362.5,2367.2 2362.5,2366.5 2359.2,2366.5 2359.2,2364.1 2356.0,2364.1 2356.0,2366.1 2352.8,2366.1 2352.8,2366.3 2349.5,2366.3 2349.5,2364.7 2346.2,2364.7 2346.2,2367.8 2343.0,2367.8 2343.0,2364.8 2339.8,2364.8 2339.8,2367.7 2336.5,2367.7 2336.5,2364.9 2333.2,2364.9 2333.2,2367.5 2330.0,2367.5 2330.0,2365.1 2326.8,2365.1 2326.8,2365.4 2323.5,2365.4 2323.5,2366.6 2320.2,2366.6 2320.2,2364.7 2317.0,2364.7 2317.0,2365.1 2313.8,2365.1 2313.8,2362.6 2310.5,2362.6 2310.5,2365.4 2307.2,2365.4 2307.2,2366.3 2304.0,2366.3 2304.0,2364.3 2300.8,2364.3 2300.8,2366.5 2297.5,2366.5 2297.5,2362.8 2294.2,2362.8 2294.2,2365.1 2291.0,2365.1 2291.0,2361.5 2287.8,2361.5 2287.8,2364.0 2284.5,2364.0 2284.5,2368.2 2281.2,2368.2 2281.2,2365.7 2278.0,2365.7 2278.0,2364.7 2274.8,2364.7 2274.8,2367.2 2271.5,2367.2 2271.5,2362.9 2268.2,2362.9 2268.2,2364.5 2265.0,2364.5 2265.0,2363.2 2261.8,2363.2 2261.8,2366.7 2258.5,2366.7 2258.5,2361.7 2255.2,2361.7 2255.2,2365.2 2252.0,2365.2 2252.0,2361.7 2248.8,2361.7 2248.8,2364.0 2245.5,2364.0 2245.5,2365.2 2242.2,2365.2 2242.2,2364.7 2239.0,2364.7 2239.0,2365.8 2235.8,2365.8 2235.8,2365.5 2232.5,2365.5 2232.5,2364.2 2229.2,2364.2 2229.2,2362.9 2226.0,2362.9 2226.0,2363.9 2222.8,2363.9 2222.8,2363.8 2219.5,2363.8 2219.5,2363.5 2216.2,2363.5 2216.2,2362.5 2213.0,2362.5 2213.0,2363.7 2209.8,2363.7 2209.8,2368.0 2206.5,2368.0 2206.5,2364.7 2203.2,2364.7 2203.2,2363.0 2200.0,2363.0 2200.0,2362.4 2196.8,2362.4 2196.8,2362.1 2193.5,2362.1 2193.5,2364.1 2190.2,2364.1 2190.2,2363.5 2187.0,2363.5 2187.0,2362.4 2183.8,2362.4 2183.8,2363.5 2180.5,2363.5 2180.5,2366.1 2177.2,2366.1 2177.2,2365.5 2174.0,2365.5 2174.0,2363.4 2170.8,2363.4 2170.8,2365.1 2167.5,2365.1 2167.5,2363.7 2164.2,2363.7 2164.2,2366.7 2161.0,2366.7 2161.0,2363.2 2157.8,2363.2 2157.8,2366.1 2154.5,2366.1 2154.5,2364.3 2151.2,2364.3 2151.2,2364.4 2148.0,2364.4 2148.0,2367.7 2144.8,2367.7 2144.8,2365.2 2141.5,2365.2 2141.5,2365.0 2138.2,2365.0 2138.2,2362.5 2135.0,2362.5 2135.0,2361.5 2131.8,2361.5 2131.8,2362.9 2128.5,2362.9 2128.5,2363.6 2125.2,2363.6 2125.2,2364.4 2122.0,2364.4 2122.0,2365.4 2118.8,2365.4 2118.8,2362.8 2115.5,2362.8 2115.5,2364.7 2112.2,2364.7 2112.2,2364.2 2109.0,2364.2 2109.0,2364.1 2105.8,2364.1 2105.8,2363.5 2102.5,2363.5 2102.5,2362.0 2099.2,2362.0 2099.2,2363.1 2096.0,2363.1 2096.0,2364.1 2092.8,2364.1 2092.8,2363.6 2089.5,2363.6 2089.5,2366.9 2086.2,2366.9 2086.2,2367.3 2083.0,2367.3 2083.0,2367.4 2079.8,2367.4 2079.8,2365.0 2076.5,2365.0 2076.5,2366.2 2073.2,2366.2 2073.2,2366.4 2070.0,2366.4 2070.0,2362.3 2066.8,2362.3 2066.8,2364.4 2063.5,2364.4 2063.5,2361.9 2060.2,2361.9 2060.2,2364.1 2057.0,2364.1 2057.0,2365.0 2053.8,2365.0 2053.8,2368.1 2050.5,2368.1 2050.5,2364.3 2047.2,2364.3 2047.2,2362.9 2044.0,2362.9 2044.0,2365.9 2040.8,2365.9 2040.8,2366.3 2037.5,2366.3 2037.5,2366.6 2034.2,2366.6 2034.2,2366.8 2031.0,2366.8 2031.0,2361.9 2027.8,2361.9 2027.8,2362.5 2024.5,2362.5 2024.5,2363.3 2021.2,2363.3 2021.2,2364.7 2018.0,2364.7 2018.0,2362.1 2014.8,2362.1 2014.8,2362.6 2011.5,2362.6 2011.5,2361.3 2008.2,2361.3 2008.2,2364.9 2005.0,2364.9 2005.0,2366.8 2001.8,2366.8 2001.8,2367.4 1998.5,2367.4 1998.5,2368.3 1995.2,2368.3 1995.2,2364.6 1992.0,2364.6 1992.0,2364.6 1988.8,2364.6 1988.8,2364.7 1985.5,2364.7 1985.5,2364.9 1982.2,2364.9 1982.2,2363.8 1979.0,2363.8 1979.0,2366.7 1975.8,2366.7 1975.8,2365.1 1972.5,2365.1 1972.5,2365.1 1969.2,2365.1 1969.2,2366.9 1966.0,2366.9 1966.0,2366.5 1962.8,2366.5 1962.8,2366.9 1959.5,2366.9 1959.5,2366.6 1956.2,2366.6 1956.2,2365.9 1953.0,2365.9 1953.0,2362.7 1949.8,2362.7 1949.8,2363.5 1946.5,2363.5 1946.5,2365.2 1943.2,2365.2 1943.2,2362.7 1940.0,2362.7 1940.0,2363.0 1936.8,2363.0 1936.8,2363.6 1933.5,2363.6 1933.5,2365.3 1930.2,2365.3 1930.2,2367.4 1927.0,2367.4 1927.0,2363.4 1923.8,2363.4 1923.8,2364.8 1920.5,2364.8 1920.5,2367.2 1917.2,2367.2 1917.2,2364.2 1914.0,2364.2 1914.0,2363.5 1910.8,2363.5 1910.8,2363.7 1907.5,2363.7 1907.5,2362.6 1904.2,2362.6 1904.2,2364.3 1901.0,2364.3 1901.0,2363.2 1897.8,2363.2 1897.8,2364.8 1894.5,2364.8 1894.5,2366.7 1891.2,2366.7 1891.2,2361.5 1888.0,2361.5 1888.0,2365.7 1884.8,2365.7 1884.8,2365.2 1881.5,2365.2 1881.5,2366.8 1878.2,2366.8 1878.2,2363.5 1875.0,2363.5 1875.0,2365.1 1871.8,2365.1 1871.8,2367.4 1868.5,2367.4 1868.5,2365.3 1865.2,2365.3 1865.2,2365.6 1862.0,2365.6 1862.0,2366.1 1858.8,2366.1 1858.8,2366.0 1855.5,2366.0 1855.5,2362.6 1852.2,2362.6 1852.2,2365.2 1849.0,2365.2 1849.0,2365.0 1845.8,2365.0 1845.8,2365.0 1842.5,2365.0 1842.5,2365.1 1839.2,2365.1 1839.2,2366.8 1836.0,2366.8 1836.0,2366.9 1832.8,2366.9 1832.8,2362.9 1829.5,2362.9 1829.5,2365.5 1826.2,2365.5 1826.2,2363.1 1823.0,2363.1 1823.0,2361.3 1819.8,2361.3 1819.8,2362.0 1816.5,2362.0 1816.5,2363.3 1813.2,2363.3 1813.2,2366.0 1810.0,2366.0 1810.0,2365.4 1806.8,2365.4 1806.8,2363.3 1803.5,2363.3 1803.5,2363.6 1800.2,2363.6 1800.2,2366.7 1797.0,2366.7 1797.0,2364.2 1793.8,2364.2 1793.8,2365.5 1790.5,2365.5 1790.5,2364.6 1787.2,2364.6 1787.2,2365.2 1784.0,2365.2 1784.0,2365.7 1780.8,2365.7 1780.8,2367.1 1777.5,2367.1 1777.5,2365.2 1774.2,2365.2 1774.2,2366.9 1771.0,2366.9 1771.0,2364.2 1767.8,2364.2 1767.8,2365.3 1764.5,2365.3 1764.5,2361.4 1761.2,2361.4 1761.2,2362.1 1758.0,2362.1 1758.0,2363.9 1754.8,2363.9 1754.8,2362.1 1751.5,2362.1 1751.5,2363.1 1748.2,2363.1 1748.2,2362.7 1745.0,2362.7 1745.0,2365.1 1741.8,2365.1 1741.8,2361.3 1738.5,2361.3 1738.5,2362.0 1735.2,2362.0 1735.2,2364.3 1732.0,2364.3 1732.0,2365.3 1728.8,2365.3 1728.8,2361.3 1725.5,2361.3 1725.5,2363.9 1722.2,2363.9 1722.2,2361.8 1719.0,2361.8 1719.0,2362.5 1715.8,2362.5 1715.8,2361.3 1712.5,2361.3 1712.5,2364.8 1709.2,2364.8 1709.2,2365.1 1706.0,2365.1 1706.0,2363.5 1702.8,2363.5 1702.8,2362.0 1699.5,2362.0 1699.5,2366.4 1696.2,2366.4 1696.2,2365.2 1693.0,2365.2 1693.0,2367.1 1689.8,2367.1 1689.8,2365.3 1686.5,2365.3 1686.5,2366.9 1683.2,2366.9 1683.2,2365.9 1680.0,2365.9 1680.0,2368.5 1676.8,2368.5 1676.8,2365.9 1673.5,2365.9 1673.5,2363.5 1670.2,2363.5 1670.2,2362.9 1667.0,2362.9 1667.0,2363.4 1663.8,2363.4 1663.8,2362.6 1660.5,2362.6 1660.5,2366.6 1657.2,2366.6 1657.2,2367.3 1654.0,2367.3 1654.0,2366.4 1650.8,2366.4 1650.8,2367.2 1647.5,2367.2 1647.5,2362.5 1644.2,2362.5 1644.2,2365.3 1641.0,2365.3 1641.0,2364.7 1637.8,2364.7 1637.8,2367.6 1634.5,2367.6 1634.5,2362.1 1631.2,2362.1 1631.2,2362.3 1628.0,2362.3 1628.0,2364.2 1624.8,2364.2 1624.8,2361.8 1621.5,2361.8 1621.5,2362.0 1618.2,2362.0 1618.2,2363.0 1615.0,2363.0 1615.0,2361.4 1611.8,2361.4 1611.8,2361.6 1608.5,2361.6 1608.5,2362.1 1605.2,2362.1 1605.2,2364.7 1602.0,2364.7 1602.0,2365.9 1598.8,2365.9 1598.8,2364.3 1595.5,2364.3 1595.5,2364.8 1592.2,2364.8 1592.2,2364.5 1589.0,2364.5 1589.0,2368.1 1585.8,2368.1 1585.8,2365.2 1582.5,2365.2 1582.5,2365.2 1579.2,2365.2 1579.2,2364.1 1576.0,2364.1 1576.0,2366.9 1572.8,2366.9 1572.8,2366.2 1569.5,2366.2 1569.5,2366.0 1566.2,2366.0 1566.2,2364.1 1563.0,2364.1 1563.0,2363.8 1559.8,2363.8 1559.8,2364.3 1556.5,2364.3 1556.5,2367.1 1553.2,2367.1 1553.2,2365.4 1550.0,2365.4 1550.0,2363.9 1546.8,2363.9 1546.8,2363.5 1543.5,2363.5 1543.5,2362.5 1540.2,2362.5 1540.2,2362.2 1537.0,2362.2 1537.0,2362.8 1533.8,2362.8 1533.8,2362.2 1530.5,2362.2 1530.5,2361.7 1527.2,2361.7 1527.2,2363.3 1524.0,2363.3 1524.0,2366.0 1520.8,2366.0 1520.8,2362.7 1517.5,2362.7 1517.5,2364.7 1514.2,2364.7 1514.2,2365.0 1511.0,2365.0 1511.0,2364.7 1507.8,2364.7 1507.8,2364.4 1504.5,2364.4 1504.5,2367.5 1501.2,2367.5 1501.2,2363.1 1498.0,2363.1 1498.0,2366.1 1494.8,2366.1 1494.8,2368.3 1491.5,2368.3 1491.5,2364.6 1488.2,2364.6 1488.2,2364.0 1485.0,2364.0Z" fill="#A5A5A5" clip-path="url(#clip_c2)" opacity="0.75"/>
<path d="M1485.0,2340.3 1488.2,2340.3 1488.2,2340.9 1491.5,2340.9 1491.5,2342.7 1494.8,2342.7 1494.8,2340.0 1498.0,2340.0 1498.0,2341.9 1501.2,2341.9 1501.2,2339.7 1504.5,2339.7 1504.5,2344.0 1507.8,2344.0 1507.8,2342.9 1511.0,2342.9 1511.0,2341.0 1514.2,2341.0 1514.2,2344.8 1517.5,2344.8 1517.5,2340.9 1520.8,2340.9 1520.8,2341.5 1524.0,2341.5 1524.0,2344.1 1527.2,2344.1 1527.2,2343.1 1530.5,2343.1 1530.5,2342.3 1533.8,2342.3 1533.8,2337.9 1537.0,2337.9 1537.0,2339.4 1540.2,2339.4 1540.2,2343.1 1543.5,2343.1 1543.5,2339.1 1546.8,2339.1 1546.8,2341.8 1550.0,2341.8 1550.0,2341.1 1553.2,2341.1 1553.2,2337.7 1556.5,2337.7 1556.5,2342.1 1559.8,2342.1 1559.8,2340.7 1563.0,2340.7 1563.0,2339.6 1566.2,2339.6 1566.2,2340.8 1569.5,2340.8 1569.5,2341.5 1572.8,2341.5 1572.8,2343.5 1576.0,2343.5 1576.0,2343.3 1579.2,2343.3 1579.2,2338.7 1582.5,2338.7 1582.5,2344.0 1585.8,2344.0 1585.8,2344.6 1589.0,2344.6 1589.0,2345.3 1592.2,2345.3 1592.2,2342.7 1595.5,2342.7 1595.5,2343.8 1598.8,2343.8 1598.8,2342.6 1602.0,2342.6 1602.0,2342.1 1605.2,2342.1 1605.2,2342.7 1608.5,2342.7 1608.5,2342.7 1611.8,2342.7 1611.8,2338.5 1615.0,2338.5 1615.0,2342.2 1618.2,2342.2 1618.2,2343.7 1621.5,2343.7 1621.5,2337.8 1624.8,2337.8 1624.8,2338.8 1628.0,2338.8 1628.0,2341.2 1631.2,2341.2 1631.2,2342.3 1634.5,2342.3 1634.5,2339.7 1637.8,2339.7 1637.8,2338.8 1641.0,2338.8 1641.0,2339.5 1644.2,2339.5 1644.2,2340.3 1647.5,2340.3 1647.5,2340.4 1650.8,2340.4 1650.8,2342.8 1654.0,2342.8 1654.0,2338.9 1657.2,2338.9 1657.2,2344.3 1660.5,2344.3 1660.5,2343.8 1663.8,2343.8 1663.8,2340.4 1667.0,2340.4 1667.0,2341.4 1670.2,2341.4 1670.2,2342.3 1673.5,2342.3 1673.5,2342.7 1676.8,2342.7 1676.8,2340.1 1680.0,2340.1 1680.0,2344.4 1683.2,2344.4 1683.2,2341.8 1686.5,2341.8 1686.5,2337.7 1689.8,2337.7 1689.8,2340.8 1693.0,2340.8 1693.0,2338.7 1696.2,2338.7 1696.2,2339.0 1699.5,2339.0 1699.5,2343.5 1702.8,2343.5 1702.8,2341.7 1706.0,2341.7 1706.0,2341.4 1709.2,2341.4 1709.2,2338.9 1712.5,2338.9 1712.5,2337.8 1715.8,2337.8 1715.8,2341.2 1719.0,2341.2 1719.0,2339.9 1722.2,2339.9 1722.2,2342.2 1725.5,2342.2 1725.5,2337.9 1728.8,2337.9 1728.8,2341.4 1732.0,2341.4 1732.0,2339.3 1735.2,2339.3 1735.2,2343.1 1738.5,2343.1 1738.5,2344.9 1741.8,2344.9 1741.8,2345.5 1745.0,2345.5 1745.0,2344.3 1748.2,2344.3 1748.2,2342.9 1751.5,2342.9 1751.5,2341.1 1754.8,2341.1 1754.8,2345.0 1758.0,2345.0 1758.0,2344.6 1761.2,2344.6 1761.2,2343.6 1764.5,2343.6 1764.5,2344.1 1767.8,2344.1 1767.8,2340.3 1771.0,2340.3 1771.0,2341.5 1774.2,2341.5 1774.2,2344.1 1777.5,2344.1 1777.5,2345.3 1780.8,2345.3 1780.8,2344.8 1784.0,2344.8 1784.0,2344.0 1787.2,2344.0 1787.2,2344.9 1790.5,2344.9 1790.5,2343.7 1793.8,2343.7 1793.8,2340.7 1797.0,2340.7 1797.0,2342.1 1800.2,2342.1 1800.2,2343.7 1803.5,2343.7 1803.5,2341.3 1806.8,2341.3 1806.8,2342.0 1810.0,2342.0 1810.0,2340.0 1813.2,2340.0 1813.2,2340.2 1816.5,2340.2 1816.5,2343.8 1819.8,2343.8 1819.8,2340.7 1823.0,2340.7 1823.0,2342.3 1826.2,2342.3 1826.2,2339.0 1829.5,2339.0 1829.5,2339.2 1832.8,2339.2 1832.8,2341.3 1836.0,2341.3 1836.0,2341.0 1839.2,2341.0 1839.2,2341.1 1842.5,2341.1 1842.5,2340.8 1845.8,2340.8 1845.8,2342.5 1849.0,2342.5 1849.0,2342.4 1852.2,2342.4 1852.2,2343.4 1855.5,2343.4 1855.5,2342.5 1858.8,2342.5 1858.8,2342.6 1862.0,2342.6 1862.0,2338.1 1865.2,2338.1 1865.2,2342.4 1868.5,2342.4 1868.5,2338.5 1871.8,2338.5 1871.8,2342.5 1875.0,2342.5 1875.0,2344.5 1878.2,2344.5 1878.2,2345.2 1881.5,2345.2 1881.5,2343.0 1884.8,2343.0 1884.8,2341.0 1888.0,2341.0 1888.0,2343.6 1891.2,2343.6 1891.2,2339.9 1894.5,2339.9 1894.5,2343.4 1897.8,2343.4 1897.8,2342.0 1901.0,2342.0 1901.0,2341.8 1904.2,2341.8 1904.2,2343.1 1907.5,2343.1 1907.5,2344.2 1910.8,2344.2 1910.8,2342.0 1914.0,2342.0 1914.0,2341.0 1917.2,2341.0 1917.2,2342.1 1920.5,2342.1 1920.5,2343.7 1923.8,2343.7 1923.8,2343.4 1927.0,2343.4 1927.0,2342.5 1930.2,2342.5 1930.2,2342.4 1933.5,2342.4 1933.5,2338.1 1936.8,2338.1 1936.8,2340.3 1940.0,2340.3 1940.0,2341.7 1943.2,2341.7 1943.2,2344.3 1946.5,2344.3 1946.5,2345.5 1949.8,2345.5 1949.8,2342.2 1953.0,2342.2 1953.0,2344.6 1956.2,2344.6 1956.2,2343.6 1959.5,2343.6 1959.5,2340.9 1962.8,2340.9 1962.8,2342.8 1966.0,2342.8 1966.0,2342.5 1969.2,2342.5 1969.2,2339.3 1972.5,2339.3 1972.5,2339.5 1975.8,2339.5 1975.8,2340.8 1979.0,2340.8 1979.0,2343.3 1982.2,2343.3 1982.2,2340.9 1985.5,2340.9 1985.5,2341.9 1988.8,2341.9 1988.8,2344.8 1992.0,2344.8 1992.0,2342.8 1995.2,2342.8 1995.2,2340.9 1998.5,2340.9 1998.5,2340.7 2001.8,2340.7 2001.8,2343.4 2005.0,2343.4 2005.0,2340.7 2008.2,2340.7 2008.2,2343.5 2011.5,2343.5 2011.5,2339.1 2014.8,2339.1 2014.8,2340.4 2018.0,2340.4 2018.0,2343.3 2021.2,2343.3 2021.2,2344.9 2024.5,2344.9 2024.5,2343.2 2027.8,2343.2 2027.8,2342.3 2031.0,2342.3 2031.0,2342.1 2034.2,2342.1 2034.2,2337.9 2037.5,2337.9 2037.5,2341.9 2040.8,2341.9 2040.8,2342.5 2044.0,2342.5 2044.0,2343.0 2047.2,2343.0 2047.2,2340.4 2050.5,2340.4 2050.5,2339.9 2053.8,2339.9 2053.8,2343.5 2057.0,2343.5 2057.0,2343.1 2060.2,2343.1 2060.2,2343.5 2063.5,2343.5 2063.5,2345.0 2066.8,2345.0 2066.8,2343.4 2070.0,2343.4 2070.0,2344.4 2073.2,2344.4 2073.2,2344.4 2076.5,2344.4 2076.5,2338.9 2079.8,2338.9 2079.8,2343.8 2083.0,2343.8 2083.0,2342.6 2086.2,2342.6 2086.2,2340.1 2089.5,2340.1 2089.5,2341.3 2092.8,2341.3 2092.8,2341.0 2096.0,2341.0 2096.0,2340.7 2099.2,2340.7 2099.2,2339.1 2102.5,2339.1 2102.5,2342.1 2105.8,2342.1 2105.8,2341.0 2109.0,2341.0 2109.0,2340.4 2112.2,2340.4 2112.2,2340.6 2115.5,2340.6 2115.5,2342.5 2118.8,2342.5 2118.8,2341.7 2122.0,2341.7 2122.0,2343.1 2125.2,2343.1 2125.2,2342.2 2128.5,2342.2 2128.5,2338.0 2131.8,2338.0 2131.8,2342.9 2135.0,2342.9 2135.0,2341.4 2138.2,2341.4 2138.2,2341.7 2141.5,2341.7 2141.5,2340.8 2144.8,2340.8 2144.8,2343.0 2148.0,2343.0 2148.0,2339.4 2151.2,2339.4 2151.2,2343.3 2154.5,2343.3 2154.5,2344.0 2157.8,2344.0 2157.8,2345.2 2161.0,2345.2 2161.0,2342.5 2164.2,2342.5 2164.2,2344.5 2167.5,2344.5 2167.5,2340.9 2170.8,2340.9 2170.8,2342.4 2174.0,2342.4 2174.0,2343.1 2177.2,2343.1 2177.2,2344.3 2180.5,2344.3 2180.5,2343.7 2183.8,2343.7 2183.8,2340.0 2187.0,2340.0 2187.0,2342.8 2190.2,2342.8 2190.2,2342.2 2193.5,2342.2 2193.5,2340.4 2196.8,2340.4 2196.8,2340.1 2200.0,2340.1 2200.0,2341.9 2203.2,2341.9 2203.2,2341.3 2206.5,2341.3 2206.5,2343.9 2209.8,2343.9 2209.8,2342.8 2213.0,2342.8 2213.0,2341.3 2216.2,2341.3 2216.2,2342.5 2219.5,2342.5 2219.5,2342.0 2222.8,2342.0 2222.8,2345.2 2226.0,2345.2 2226.0,2341.5 2229.2,2341.5 2229.2,2340.9 2232.5,2340.9 2232.5,2341.3 2235.8,2341.3 2235.8,2342.3 2239.0,2342.3 2239.0,2339.1 2242.2,2339.1 2242.2,2341.4 2245.5,2341.4 2245.5,2344.9 2248.8,2344.9 2248.8,2342.7 2252.0,2342.7 2252.0,2342.0 2255.2,2342.0 2255.2,2340.3 2258.5,2340.3 2258.5,2341.7 2261.8,2341.7 2261.8,2341.5 2265.0,2341.5 2265.0,2344.5 2268.2,2344.5 2268.2,2341.7 2271.5,2341.7 2271.5,2342.1 2274.8,2342.1 2274.8,2344.9 2278.0,2344.9 2278.0,2341.9 2281.2,2341.9 2281.2,2341.7 2284.5,2341.7 2284.5,2339.2 2287.8,2339.2 2287.8,2339.3 2291.0,2339.3 2291.0,2343.3 2294.2,2343.3 2294.2,2341.4 2297.5,2341.4 2297.5,2341.4 2300.8,2341.4 2300.8,2340.7 2304.0,2340.7 2304.0,2338.5 2307.2,2338.5 2307.2,2344.0 2310.5,2344.0 2310.5,2345.0 2313.8,2345.0 2313.8,2341.8 2317.0,2341.8 2317.0,2342.0 2320.2,2342.0 2320.2,2343.0 2323.5,2343.0 2323.5,2339.9 2326.8,2339.9 2326.8,2341.7 2330.0,2341.7 2330.0,2341.2 2333.2,2341.2 2333.2,2345.4 2336.5,2345.4 2336.5,2339.1 2339.8,2339.1 2339.8,2340.8 2343.0,2340.8 2343.0,2340.7 2346.2,2340.7 2346.2,2343.0 2349.5,2343.0 2349.5,2340.9 2352.8,2340.9 2352.8,2340.5 2356.0,2340.5 2356.0,2343.7 2359.2,2343.7 2359.2,2342.5 2362.5,2342.5 2362.5,2342.1 2365.8,2342.1 2365.8,2341.6 2369.0,2341.6 2369.0,2339.9 2372.2,2339.9 2372.2,2339.5 2375.5,2339.5 2375.5,2340.7 2378.8,2340.7 2378.8,2344.2 2382.0,2344.2 2382.0,2343.4 2385.2,2343.4 2385.2,2342.3 2388.5,2342.3 2388.5,2340.9 2391.8,2340.9 2391.8,2342.7 2395.0,2342.7 2395.0,2338.3 2397.0,2338.3 2397.0,2358.3 2395.0,2358.3 2395.0,2357.2 2391.8,2357.2 2391.8,2357.8 2388.5,2357.8 2388.5,2358.3 2385.2,2358.3 2385.2,2358.0 2382.0,2358.0 2382.0,2360.1 2378.8,2360.1 2378.8,2357.0 2375.5,2357.0 2375.5,2358.7 2372.2,2358.7 2372.2,2357.7 2369.0,2357.7 2369.0,2357.8 2365.8,2357.8 2365.8,2356.7 2362.5,2356.7 2362.5,2357.2 2359.2,2357.2 2359.2,2357.6 2356.0,2357.6 2356.0,2358.1 2352.8,2358.1 2352.8,2362.4 2349.5,2362.4 2349.5,2361.9 2346.2,2361.9 2346.2,2359.1 2343.0,2359.1 2343.0,2361.6 2339.8,2361.6 2339.8,2358.4 2336.5,2358.4 2336.5,2356.8 2333.2,2356.8 2333.2,2357.5 2330.0,2357.5 2330.0,2358.5 2326.8,2358.5 2326.8,2357.6 2323.5,2357.6 2323.5,2362.4 2320.2,2362.4 2320.2,2362.2 2317.0,2362.2 2317.0,2359.5 2313.8,2359.5 2313.8,2363.4 2310.5,2363.4 2310.5,2363.8 2307.2,2363.8 2307.2,2362.5 2304.0,2362.5 2304.0,2360.6 2300.8,2360.6 2300.8,2357.6 2297.5,2357.6 2297.5,2360.5 2294.2,2360.5 2294.2,2359.3 2291.0,2359.3 2291.0,2362.7 2287.8,2362.7 2287.8,2361.2 2284.5,2361.2 2284.5,2357.4 2281.2,2357.4 2281.2,2358.9 2278.0,2358.9 2278.0,2358.9 2274.8,2358.9 2274.8,2356.8 2271.5,2356.8 2271.5,2362.3 2268.2,2362.3 2268.2,2361.5 2265.0,2361.5 2265.0,2362.7 2261.8,2362.7 2261.8,2360.2 2258.5,2360.2 2258.5,2362.2 2255.2,2362.2 2255.2,2361.2 2252.0,2361.2 2252.0,2361.0 2248.8,2361.0 2248.8,2359.9 2245.5,2359.9 2245.5,2358.9 2242.2,2358.9 2242.2,2360.4 2239.0,2360.4 2239.0,2361.8 2235.8,2361.8 2235.8,2360.6 2232.5,2360.6 2232.5,2357.6 2229.2,2357.6 2229.2,2361.7 2226.0,2361.7 2226.0,2360.2 2222.8,2360.2 2222.8,2360.3 2219.5,2360.3 2219.5,2363.4 2216.2,2363.4 2216.2,2358.4 2213.0,2358.4 2213.0,2361.4 2209.8,2361.4 2209.8,2363.1 2206.5,2363.1 2206.5,2363.4 2203.2,2363.4 2203.2,2357.6 2200.0,2357.6 2200.0,2358.1 2196.8,2358.1 2196.8,2362.6 2193.5,2362.6 2193.5,2361.7 2190.2,2361.7 2190.2,2360.2 2187.0,2360.2 2187.0,2360.9 2183.8,2360.9 2183.8,2359.7 2180.5,2359.7 2180.5,2359.4 2177.2,2359.4 2177.2,2361.1 2174.0,2361.1 2174.0,2362.4 2170.8,2362.4 2170.8,2362.1 2167.5,2362.1 2167.5,2359.6 2164.2,2359.6 2164.2,2359.0 2161.0,2359.0 2161.0,2356.5 2157.8,2356.5 2157.8,2358.2 2154.5,2358.2 2154.5,2362.5 2151.2,2362.5 2151.2,2361.2 2148.0,2361.2 2148.0,2362.8 2144.8,2362.8 2144.8,2359.4 2141.5,2359.4 2141.5,2361.1 2138.2,2361.1 2138.2,2358.6 2135.0,2358.6 2135.0,2362.2 2131.8,2362.2 2131.8,2363.2 2128.5,2363.2 2128.5,2361.5 2125.2,2361.5 2125.2,2362.8 2122.0,2362.8 2122.0,2362.3 2118.8,2362.3 2118.8,2364.2 2115.5,2364.2 2115.5,2360.4 2112.2,2360.4 2112.2,2361.3 2109.0,2361.3 2109.0,2360.0 2105.8,2360.0 2105.8,2357.4 2102.5,2357.4 2102.5,2361.0 2099.2,2361.0 2099.2,2357.6 2096.0,2357.6 2096.0,2356.5 2092.8,2356.5 2092.8,2358.5 2089.5,2358.5 2089.5,2361.0 2086.2,2361.0 2086.2,2358.1 2083.0,2358.1 2083.0,2359.7 2079.8,2359.7 2079.8,2359.7 2076.5,2359.7 2076.5,2361.5 2073.2,2361.5 2073.2,2359.3 2070.0,2359.3 2070.0,2357.2 2066.8,2357.2 2066.8,2359.4 2063.5,2359.4 2063.5,2358.7 2060.2,2358.7 2060.2,2359.2 2057.0,2359.2 2057.0,2359.9 2053.8,2359.9 2053.8,2359.9 2050.5,2359.9 2050.5,2364.2 2047.2,2364.2 2047.2,2359.2 2044.0,2359.2 2044.0,2360.8 2040.8,2360.8 2040.8,2362.0 2037.5,2362.0 2037.5,2358.1 2034.2,2358.1 2034.2,2360.0 2031.0,2360.0 2031.0,2360.6 2027.8,2360.6 2027.8,2360.9 2024.5,2360.9 2024.5,2359.9 2021.2,2359.9 2021.2,2357.2 2018.0,2357.2 2018.0,2361.1 2014.8,2361.1 2014.8,2361.3 2011.5,2361.3 2011.5,2358.3 2008.2,2358.3 2008.2,2357.8 2005.0,2357.8 2005.0,2360.1 2001.8,2360.1 2001.8,2360.7 1998.5,2360.7 1998.5,2356.9 1995.2,2356.9 1995.2,2360.8 1992.0,2360.8 1992.0,2359.1 1988.8,2359.1 1988.8,2359.9 1985.5,2359.9 1985.5,2359.6 1982.2,2359.6 1982.2,2361.6 1979.0,2361.6 1979.0,2359.7 1975.8,2359.7 1975.8,2357.7 1972.5,2357.7 1972.5,2359.8 1969.2,2359.8 1969.2,2357.3 1966.0,2357.3 1966.0,2360.5 1962.8,2360.5 1962.8,2362.0 1959.5,2362.0 1959.5,2360.1 1956.2,2360.1 1956.2,2362.1 1953.0,2362.1 1953.0,2362.4 1949.8,2362.4 1949.8,2359.7 1946.5,2359.7 1946.5,2361.8 1943.2,2361.8 1943.2,2363.9 1940.0,2363.9 1940.0,2361.9 1936.8,2361.9 1936.8,2363.1 1933.5,2363.1 1933.5,2359.8 1930.2,2359.8 1930.2,2363.6 1927.0,2363.6 1927.0,2363.2 1923.8,2363.2 1923.8,2364.1 1920.5,2364.1 1920.5,2360.8 1917.2,2360.8 1917.2,2358.5 1914.0,2358.5 1914.0,2358.9 1910.8,2358.9 1910.8,2360.9 1907.5,2360.9 1907.5,2358.8 1904.2,2358.8 1904.2,2361.6 1901.0,2361.6 1901.0,2359.7 1897.8,2359.7 1897.8,2360.2 1894.5,2360.2 1894.5,2356.5 1891.2,2356.5 1891.2,2357.1 1888.0,2357.1 1888.0,2357.6 1884.8,2357.6 1884.8,2362.1 1881.5,2362.1 1881.5,2360.2 1878.2,2360.2 1878.2,2359.7 1875.0,2359.7 1875.0,2359.7 1871.8,2359.7 1871.8,2361.8 1868.5,2361.8 1868.5,2363.4 1865.2,2363.4 1865.2,2359.0 1862.0,2359.0 1862.0,2360.3 1858.8,2360.3 1858.8,2360.0 1855.5,2360.0 1855.5,2360.1 1852.2,2360.1 1852.2,2364.2 1849.0,2364.2 1849.0,2361.4 1845.8,2361.4 1845.8,2358.9 1842.5,2358.9 1842.5,2361.4 1839.2,2361.4 1839.2,2357.6 1836.0,2357.6 1836.0,2357.8 1832.8,2357.8 1832.8,2358.1 1829.5,2358.1 1829.5,2359.4 1826.2,2359.4 1826.2,2357.9 1823.0,2357.9 1823.0,2359.8 1819.8,2359.8 1819.8,2358.2 1816.5,2358.2 1816.5,2357.6 1813.2,2357.6 1813.2,2359.6 1810.0,2359.6 1810.0,2358.3 1806.8,2358.3 1806.8,2360.1 1803.5,2360.1 1803.5,2361.7 1800.2,2361.7 1800.2,2363.6 1797.0,2363.6 1797.0,2360.6 1793.8,2360.6 1793.8,2363.7 1790.5,2363.7 1790.5,2363.6 1787.2,2363.6 1787.2,2362.9 1784.0,2362.9 1784.0,2360.5 1780.8,2360.5 1780.8,2360.3 1777.5,2360.3 1777.5,2360.6 1774.2,2360.6 1774.2,2361.9 1771.0,2361.9 1771.0,2360.0 1767.8,2360.0 1767.8,2363.0 1764.5,2363.0 1764.5,2362.5 1761.2,2362.5 1761.2,2362.5 1758.0,2362.5 1758.0,2356.6 1754.8,2356.6 1754.8,2361.4 1751.5,2361.4 1751.5,2357.5 1748.2,2357.5 1748.2,2360.0 1745.0,2360.0 1745.0,2358.7 1741.8,2358.7 1741.8,2364.0 1738.5,2364.0 1738.5,2363.6 1735.2,2363.6 1735.2,2360.4 1732.0,2360.4 1732.0,2357.0 1728.8,2357.0 1728.8,2357.4 1725.5,2357.4 1725.5,2358.2 1722.2,2358.2 1722.2,2358.6 1719.0,2358.6 1719.0,2356.8 1715.8,2356.8 1715.8,2359.5 1712.5,2359.5 1712.5,2362.7 1709.2,2362.7 1709.2,2360.2 1706.0,2360.2 1706.0,2360.2 1702.8,2360.2 1702.8,2359.7 1699.5,2359.7 1699.5,2363.4 1696.2,2363.4 1696.2,2358.5 1693.0,2358.5 1693.0,2359.8 1689.8,2359.8 1689.8,2360.4 1686.5,2360.4 1686.5,2362.5 1683.2,2362.5 1683.2,2360.7 1680.0,2360.7 1680.0,2358.5 1676.8,2358.5 1676.8,2362.7 1673.5,2362.7 1673.5,2359.8 1670.2,2359.8 1670.2,2358.0 1667.0,2358.0 1667.0,2356.8 1663.8,2356.8 1663.8,2359.5 1660.5,2359.5 1660.5,2361.5 1657.2,2361.5 1657.2,2357.7 1654.0,2357.7 1654.0,2362.4 1650.8,2362.4 1650.8,2363.0 1647.5,2363.0 1647.5,2359.0 1644.2,2359.0 1644.2,2358.0 1641.0,2358.0 1641.0,2357.1 1637.8,2357.1 1637.8,2358.0 1634.5,2358.0 1634.5,2357.0 1631.2,2357.0 1631.2,2357.4 1628.0,2357.4 1628.0,2358.7 1624.8,2358.7 1624.8,2364.0 1621.5,2364.0 1621.5,2360.7 1618.2,2360.7 1618.2,2362.6 1615.0,2362.6 1615.0,2358.8 1611.8,2358.8 1611.8,2357.9 1608.5,2357.9 1608.5,2359.5 1605.2,2359.5 1605.2,2359.5 1602.0,2359.5 1602.0,2364.3 1598.8,2364.3 1598.8,2363.5 1595.5,2363.5 1595.5,2360.2 1592.2,2360.2 1592.2,2360.1 1589.0,2360.1 1589.0,2362.2 1585.8,2362.2 1585.8,2360.0 1582.5,2360.0 1582.5,2359.6 1579.2,2359.6 1579.2,2360.5 1576.0,2360.5 1576.0,2361.1 1572.8,2361.1 1572.8,2362.6 1569.5,2362.6 1569.5,2359.2 1566.2,2359.2 1566.2,2358.4 1563.0,2358.4 1563.0,2361.4 1559.8,2361.4 1559.8,2360.9 1556.5,2360.9 1556.5,2360.7 1553.2,2360.7 1553.2,2356.8 1550.0,2356.8 1550.0,2362.4 1546.8,2362.4 1546.8,2361.8 1543.5,2361.8 1543.5,2362.6 1540.2,2362.6 1540.2,2363.2 1537.0,2363.2 1537.0,2357.4 1533.8,2357.4 1533.8,2359.3 1530.5,2359.3 1530.5,2359.2 1527.2,2359.2 1527.2,2361.1 1524.0,2361.1 1524.0,2358.8 1520.8,2358.8 1520.8,2360.8 1517.5,2360.8 1517.5,2358.3 1514.2,2358.3 1514.2,2358.7 1511.0,2358.7 1511.0,2358.7 1507.8,2358.7 1507.8,2357.4 1504.5,2357.4 1504.5,2360.3 1501.2,2360.3 1501.2,2358.6 1498.0,2358.6 1498.0,2360.3 1494.8,2360.3 1494.8,2356.8 1491.5,2356.8 1491.5,2359.1 1488.2,2359.1 1488.2,2362.7 1485.0,2362.7Z" fill="#FFC000" clip-path="url(#clip_c2)"/>
<path d="M1485.0,1831.7 1488.2,1831.7 1488.2,1831.6 1491.5,1831.6 1491.5,1834.1 1494.8,1834.1 1494.8,1833.0 1498.0,1833.0 1498.0,1833.1 1501.2,1833.1 1501.2,1833.3 1504.5,1833.3 1504.5,1832.5 1507.8,1832.5 1507.8,1834.2 1511.0,1834.2 1511.0,1832.6 1514.2,1832.6 1514.2,1834.7 1517.5,1834.7 1517.5,1834.2 1520.8,1834.2 1520.8,1833.4 1524.0,1833.4 1524.0,1830.4 1527.2,1830.4 1527.2,1832.8 1530.5,1832.8 1530.5,1835.7 1533.8,1835.7 1533.8,1833.4 1537.0,1833.4 1537.0,1835.7 1540.2,1835.7 1540.2,1833.0 1543.5,1833.0 1543.5,1835.4 1546.8,1835.4 1546.8,1833.9 1550.0,1833.9 1550.0,1832.1 1553.2,1832.1 1553.2,1834.0 1556.5,1834.0 1556.5,1832.5 1559.8,1832.5 1559.8,1835.6 1563.0,1835.6 1563.0,1832.3 1566.2,1832.3 1566.2,1832.4 1569.5,1832.4 1569.5,1833.1 1572.8,1833.1 1572.8,1832.2 1576.0,1832.2 1576.0,1831.8 1579.2,1831.8 1579.2,1832.8 1582.5,1832.8 1582.5,1835.2 1585.8,1835.2 1585.8,1834.8 1589.0,1834.8 1589.0,1832.4 1592.2,1832.4 1592.2,1832.9 1595.5,1832.9 1595.5,1833.5 1598.8,1833.5 1598.8,1834.6 1602.0,1834.6 1602.0,1832.7 1605.2,1832.7 1605.2,1833.3 1608.5,1833.3 1608.5,1832.8 1611.8,1832.8 1611.8,1834.9 1615.0,1834.9 1615.0,1834.4 1618.2,1834.4 1618.2,1835.6 1621.5,1835.6 1621.5,1833.0 1624.8,1833.0 1624.8,1833.4 1628.0,1833.4 1628.0,1833.0 1631.2,1833.0 1631.2,1832.9 1634.5,1832.9 1634.5,1832.6 1637.8,1832.6 1637.8,1834.3 1641.0,1834.3 1641.0,1832.9 1644.2,1832.9 1644.2,1831.8 1647.5,1831.8 1647.5,1829.7 1650.8,1829.7 1650.8,1833.8 1654.0,1833.8 1654.0,1833.6 1657.2,1833.6 1657.2,1829.8 1660.5,1829.8 1660.5,1831.7 1663.8,1831.7 1663.8,1830.7 1667.0,1830.7 1667.0,1829.5 1670.2,1829.5 1670.2,1829.3 1673.5,1829.3 1673.5,1832.6 1676.8,1832.6 1676.8,1831.5 1680.0,1831.5 1680.0,1831.4 1683.2,1831.4 1683.2,1830.7 1686.5,1830.7 1686.5,1831.9 1689.8,1831.9 1689.8,1829.9 1693.0,1829.9 1693.0,1832.5 1696.2,1832.5 1696.2,1834.8 1699.5,1834.8 1699.5,1833.0 1702.8,1833.0 1702.8,1834.2 1706.0,1834.2 1706.0,1832.9 1709.2,1832.9 1709.2,1830.5 1712.5,1830.5 1712.5,1831.8 1715.8,1831.8 1715.8,1830.3 1719.0,1830.3 1719.0,1831.7 1722.2,1831.7 1722.2,1831.8 1725.5,1831.8 1725.5,1830.7 1728.8,1830.7 1728.8,1831.2 1732.0,1831.2 1732.0,1830.8 1735.2,1830.8 1735.2,1832.2 1738.5,1832.2 1738.5,1830.8 1741.8,1830.8 1741.8,1830.4 1745.0,1830.4 1745.0,1832.1 1748.2,1832.1 1748.2,1831.7 1751.5,1831.7 1751.5,1832.7 1754.8,1832.7 1754.8,1834.3 1758.0,1834.3 1758.0,1831.6 1761.2,1831.6 1761.2,1830.3 1764.5,1830.3 1764.5,1832.3 1767.8,1832.3 1767.8,1834.7 1771.0,1834.7 1771.0,1831.3 1774.2,1831.3 1774.2,1832.1 1777.5,1832.1 1777.5,1829.6 1780.8,1829.6 1780.8,1832.5 1784.0,1832.5 1784.0,1831.1 1787.2,1831.1 1787.2,1831.3 1790.5,1831.3 1790.5,1832.5 1793.8,1832.5 1793.8,1830.8 1797.0,1830.8 1797.0,1829.3 1800.2,1829.3 1800.2,1830.6 1803.5,1830.6 1803.5,1830.5 1806.8,1830.5 1806.8,1832.0 1810.0,1832.0 1810.0,1830.6 1813.2,1830.6 1813.2,1832.5 1816.5,1832.5 1816.5,1831.5 1819.8,1831.5 1819.8,1833.8 1823.0,1833.8 1823.0,1833.4 1826.2,1833.4 1826.2,1834.1 1829.5,1834.1 1829.5,1833.9 1832.8,1833.9 1832.8,1833.9 1836.0,1833.9 1836.0,1829.3 1839.2,1829.3 1839.2,1834.0 1842.5,1834.0 1842.5,1834.4 1845.8,1834.4 1845.8,1832.0 1849.0,1832.0 1849.0,1832.4 1852.2,1832.4 1852.2,1835.7 1855.5,1835.7 1855.5,1834.0 1858.8,1834.0 1858.8,1831.9 1862.0,1831.9 1862.0,1833.8 1865.2,1833.8 1865.2,1835.2 1868.5,1835.2 1868.5,1829.6 1871.8,1829.6 1871.8,1833.9 1875.0,1833.9 1875.0,1833.1 1878.2,1833.1 1878.2,1832.2 1881.5,1832.2 1881.5,1832.3 1884.8,1832.3 1884.8,1831.9 1888.0,1831.9 1888.0,1832.4 1891.2,1832.4 1891.2,1828.8 1894.5,1828.8 1894.5,1831.1 1897.8,1831.1 1897.8,1831.8 1901.0,1831.8 1901.0,1832.4 1904.2,1832.4 1904.2,1831.1 1907.5,1831.1 1907.5,1834.7 1910.8,1834.7 1910.8,1833.9 1914.0,1833.9 1914.0,1834.2 1917.2,1834.2 1917.2,1833.6 1920.5,1833.6 1920.5,1834.3 1923.8,1834.3 1923.8,1833.6 1927.0,1833.6 1927.0,1832.3 1930.2,1832.3 1930.2,1828.6 1933.5,1828.6 1933.5,1833.2 1936.8,1833.2 1936.8,1833.5 1940.0,1833.5 1940.0,1834.1 1943.2,1834.1 1943.2,1832.9 1946.5,1832.9 1946.5,1834.2 1949.8,1834.2 1949.8,1832.2 1953.0,1832.2 1953.0,1833.7 1956.2,1833.7 1956.2,1833.1 1959.5,1833.1 1959.5,1832.8 1962.8,1832.8 1962.8,1832.8 1966.0,1832.8 1966.0,1830.7 1969.2,1830.7 1969.2,1834.8 1972.5,1834.8 1972.5,1830.1 1975.8,1830.1 1975.8,1832.6 1979.0,1832.6 1979.0,1830.9 1982.2,1830.9 1982.2,1832.5 1985.5,1832.5 1985.5,1828.5 1988.8,1828.5 1988.8,1832.4 1992.0,1832.4 1992.0,1832.0 1995.2,1832.0 1995.2,1835.4 1998.5,1835.4 1998.5,1834.6 2001.8,1834.6 2001.8,1834.0 2005.0,1834.0 2005.0,1829.5 2008.2,1829.5 2008.2,1831.0 2011.5,1831.0 2011.5,1835.1 2014.8,1835.1 2014.8,1833.7 2018.0,1833.7 2018.0,1832.5 2021.2,1832.5 2021.2,1831.3 2024.5,1831.3 2024.5,1831.8 2027.8,1831.8 2027.8,1835.2 2031.0,1835.2 2031.0,1833.9 2034.2,1833.9 2034.2,1833.6 2037.5,1833.6 2037.5,1835.4 2040.8,1835.4 2040.8,1832.1 2044.0,1832.1 2044.0,1832.0 2047.2,1832.0 2047.2,1835.1 2050.5,1835.1 2050.5,1832.7 2053.8,1832.7 2053.8,1832.4 2057.0,1832.4 2057.0,1834.4 2060.2,1834.4 2060.2,1835.2 2063.5,1835.2 2063.5,1834.1 2066.8,1834.1 2066.8,1831.7 2070.0,1831.7 2070.0,1832.0 2073.2,1832.0 2073.2,1829.0 2076.5,1829.0 2076.5,1831.2 2079.8,1831.2 2079.8,1835.0 2083.0,1835.0 2083.0,1832.7 2086.2,1832.7 2086.2,1831.6 2089.5,1831.6 2089.5,1830.6 2092.8,1830.6 2092.8,1832.7 2096.0,1832.7 2096.0,1833.4 2099.2,1833.4 2099.2,1831.6 2102.5,1831.6 2102.5,1834.9 2105.8,1834.9 2105.8,1835.5 2109.0,1835.5 2109.0,1833.4 2112.2,1833.4 2112.2,1835.1 2115.5,1835.1 2115.5,1834.7 2118.8,1834.7 2118.8,1831.1 2122.0,1831.1 2122.0,1832.6 2125.2,1832.6 2125.2,1830.0 2128.5,1830.0 2128.5,1831.9 2131.8,1831.9 2131.8,1833.3 2135.0,1833.3 2135.0,1831.2 2138.2,1831.2 2138.2,1833.3 2141.5,1833.3 2141.5,1829.0 2144.8,1829.0 2144.8,1830.9 2148.0,1830.9 2148.0,1833.3 2151.2,1833.3 2151.2,1833.8 2154.5,1833.8 2154.5,1831.3 2157.8,1831.3 2157.8,1830.4 2161.0,1830.4 2161.0,1834.9 2164.2,1834.9 2164.2,1832.2 2167.5,1832.2 2167.5,1828.8 2170.8,1828.8 2170.8,1831.7 2174.0,1831.7 2174.0,1833.6 2177.2,1833.6 2177.2,1832.9 2180.5,1832.9 2180.5,1832.7 2183.8,1832.7 2183.8,1831.5 2187.0,1831.5 2187.0,1829.0 2190.2,1829.0 2190.2,1835.0 2193.5,1835.0 2193.5,1833.1 2196.8,1833.1 2196.8,1830.3 2200.0,1830.3 2200.0,1834.0 2203.2,1834.0 2203.2,1832.7 2206.5,1832.7 2206.5,1828.7 2209.8,1828.7 2209.8,1831.1 2213.0,1831.1 2213.0,1830.8 2216.2,1830.8 2216.2,1831.9 2219.5,1831.9 2219.5,1833.0 2222.8,1833.0 2222.8,1831.4 2226.0,1831.4 2226.0,1830.5 2229.2,1830.5 2229.2,1833.5 2232.5,1833.5 2232.5,1830.1 2235.8,1830.1 2235.8,1832.2 2239.0,1832.2 2239.0,1833.5 2242.2,1833.5 2242.2,1830.7 2245.5,1830.7 2245.5,1832.8 2248.8,1832.8 2248.8,1829.8 2252.0,1829.8 2252.0,1834.5 2255.2,1834.5 2255.2,1833.2 2258.5,1833.2 2258.5,1828.5 2261.8,1828.5 2261.8,1834.3 2265.0,1834.3 2265.0,1832.1 2268.2,1832.1 2268.2,1832.8 2271.5,1832.8 2271.5,1830.3 2274.8,1830.3 2274.8,1833.0 2278.0,1833.0 2278.0,1834.7 2281.2,1834.7 2281.2,1833.1 2284.5,1833.1 2284.5,1833.6 2287.8,1833.6 2287.8,1835.0 2291.0,1835.0 2291.0,1833.1 2294.2,1833.1 2294.2,1833.1 2297.5,1833.1 2297.5,1830.8 2300.8,1830.8 2300.8,1828.9 2304.0,1828.9 2304.0,1829.0 2307.2,1829.0 2307.2,1829.2 2310.5,1829.2 2310.5,1833.7 2313.8,1833.7 2313.8,1830.8 2317.0,1830.8 2317.0,1834.3 2320.2,1834.3 2320.2,1830.7 2323.5,1830.7 2323.5,1831.9 2326.8,1831.9 2326.8,1834.6 2330.0,1834.6 2330.0,1833.8 2333.2,1833.8 2333.2,1835.0 2336.5,1835.0 2336.5,1832.1 2339.8,1832.1 2339.8,1832.2 2343.0,1832.2 2343.0,1834.5 2346.2,1834.5 2346.2,1834.9 2349.5,1834.9 2349.5,1835.6 2352.8,1835.6 2352.8,1835.7 2356.0,1835.7 2356.0,1833.4 2359.2,1833.4 2359.2,1835.4 2362.5,1835.4 2362.5,1835.7 2365.8,1835.7 2365.8,1831.4 2369.0,1831.4 2369.0,1830.7 2372.2,1830.7 2372.2,1831.0 2375.5,1831.0 2375.5,1832.2 2378.8,1832.2 2378.8,1833.6 2382.0,1833.6 2382.0,1831.2 2385.2,1831.2 2385.2,1829.8 2388.5,1829.8 2388.5,1831.5 2391.8,1831.5 2391.8,1831.5 2395.0,1831.5 2395.0,1830.0 2397.0,1830.0 2397.0,1845.9 2395.0,1845.9 2395.0,1843.2 2391.8,1843.2 2391.8,1843.7 2388.5,1843.7 2388.5,1845.0 2385.2,1845.0 2385.2,1842.6 2382.0,1842.6 2382.0,1846.4 2378.8,1846.4 2378.8,1845.5 2375.5,1845.5 2375.5,1846.1 2372.2,1846.1 2372.2,1844.5 2369.0,1844.5 2369.0,1846.8 2365.8,1846.8 2365.8,1846.6 2362.5,1846.6 2362.5,1843.9 2359.2,1843.9 2359.2,1846.6 2356.0,1846.6 2356.0,1846.1 2352.8,1846.1 2352.8,1848.4 2349.5,1848.4 2349.5,1844.8 2346.2,1844.8 2346.2,1844.7 2343.0,1844.7 2343.0,1842.7 2339.8,1842.7 2339.8,1844.0 2336.5,1844.0 2336.5,1842.3 2333.2,1842.3 2333.2,1841.4 2330.0,1841.4 2330.0,1843.4 2326.8,1843.4 2326.8,1841.3 2323.5,1841.3 2323.5,1842.4 2320.2,1842.4 2320.2,1841.3 2317.0,1841.3 2317.0,1845.6 2313.8,1845.6 2313.8,1842.5 2310.5,1842.5 2310.5,1842.0 2307.2,1842.0 2307.2,1847.6 2304.0,1847.6 2304.0,1846.8 2300.8,1846.8 2300.8,1844.6 2297.5,1844.6 2297.5,1846.8 2294.2,1846.8 2294.2,1845.1 2291.0,1845.1 2291.0,1846.2 2287.8,1846.2 2287.8,1844.8 2284.5,1844.8 2284.5,1845.2 2281.2,1845.2 2281.2,1844.3 2278.0,1844.3 2278.0,1846.6 2274.8,1846.6 2274.8,1844.3 2271.5,1844.3 2271.5,1845.5 2268.2,1845.5 2268.2,1844.4 2265.0,1844.4 2265.0,1844.5 2261.8,1844.5 2261.8,1843.0 2258.5,1843.0 2258.5,1847.5 2255.2,1847.5 2255.2,1845.5 2252.0,1845.5 2252.0,1844.5 2248.8,1844.5 2248.8,1845.0 2245.5,1845.0 2245.5,1844.9 2242.2,1844.9 2242.2,1844.3 2239.0,1844.3 2239.0,1846.1 2235.8,1846.1 2235.8,1846.2 2232.5,1846.2 2232.5,1847.3 2229.2,1847.3 2229.2,1843.8 2226.0,1843.8 2226.0,1841.3 2222.8,1841.3 2222.8,1845.1 2219.5,1845.1 2219.5,1844.6 2216.2,1844.6 2216.2,1845.1 2213.0,1845.1 2213.0,1844.3 2209.8,1844.3 2209.8,1842.1 2206.5,1842.1 2206.5,1843.3 2203.2,1843.3 2203.2,1845.0 2200.0,1845.0 2200.0,1843.2 2196.8,1843.2 2196.8,1842.9 2193.5,1842.9 2193.5,1843.4 2190.2,1843.4 2190.2,1844.3 2187.0,1844.3 2187.0,1846.8 2183.8,1846.8 2183.8,1845.2 2180.5,1845.2 2180.5,1844.3 2177.2,1844.3 2177.2,1842.5 2174.0,1842.5 2174.0,1845.4 2170.8,1845.4 2170.8,1843.3 2167.5,1843.3 2167.5,1846.0 2164.2,1846.0 2164.2,1842.7 2161.0,1842.7 2161.0,1843.4 2157.8,1843.4 2157.8,1844.6 2154.5,1844.6 2154.5,1841.8 2151.2,1841.8 2151.2,1843.0 2148.0,1843.0 2148.0,1846.3 2144.8,1846.3 2144.8,1847.9 2141.5,1847.9 2141.5,1845.3 2138.2,1845.3 2138.2,1843.8 2135.0,1843.8 2135.0,1842.9 2131.8,1842.9 2131.8,1842.6 2128.5,1842.6 2128.5,1841.8 2125.2,1841.8 2125.2,1842.2 2122.0,1842.2 2122.0,1843.3 2118.8,1843.3 2118.8,1842.6 2115.5,1842.6 2115.5,1842.1 2112.2,1842.1 2112.2,1843.7 2109.0,1843.7 2109.0,1844.4 2105.8,1844.4 2105.8,1842.5 2102.5,1842.5 2102.5,1841.5 2099.2,1841.5 2099.2,1841.8 2096.0,1841.8 2096.0,1841.9 2092.8,1841.9 2092.8,1846.1 2089.5,1846.1 2089.5,1841.4 2086.2,1841.4 2086.2,1841.8 2083.0,1841.8 2083.0,1844.5 2079.8,1844.5 2079.8,1843.0 2076.5,1843.0 2076.5,1842.6 2073.2,1842.6 2073.2,1841.3 2070.0,1841.3 2070.0,1845.3 2066.8,1845.3 2066.8,1846.8 2063.5,1846.8 2063.5,1846.8 2060.2,1846.8 2060.2,1845.1 2057.0,1845.1 2057.0,1846.9 2053.8,1846.9 2053.8,1842.6 2050.5,1842.6 2050.5,1841.4 2047.2,1841.4 2047.2,1842.9 2044.0,1842.9 2044.0,1845.3 2040.8,1845.3 2040.8,1843.1 2037.5,1843.1 2037.5,1842.6 2034.2,1842.6 2034.2,1842.5 2031.0,1842.5 2031.0,1844.2 2027.8,1844.2 2027.8,1844.5 2024.5,1844.5 2024.5,1845.4 2021.2,1845.4 2021.2,1843.4 2018.0,1843.4 2018.0,1843.5 2014.8,1843.5 2014.8,1845.6 2011.5,1845.6 2011.5,1842.5 2008.2,1842.5 2008.2,1845.1 2005.0,1845.1 2005.0,1842.8 2001.8,1842.8 2001.8,1845.7 1998.5,1845.7 1998.5,1844.0 1995.2,1844.0 1995.2,1844.0 1992.0,1844.0 1992.0,1843.2 1988.8,1843.2 1988.8,1845.0 1985.5,1845.0 1985.5,1843.4 1982.2,1843.4 1982.2,1842.8 1979.0,1842.8 1979.0,1843.5 1975.8,1843.5 1975.8,1847.1 1972.5,1847.1 1972.5,1846.7 1969.2,1846.7 1969.2,1844.6 1966.0,1844.6 1966.0,1845.8 1962.8,1845.8 1962.8,1844.9 1959.5,1844.9 1959.5,1845.6 1956.2,1845.6 1956.2,1846.3 1953.0,1846.3 1953.0,1848.1 1949.8,1848.1 1949.8,1847.6 1946.5,1847.6 1946.5,1846.2 1943.2,1846.2 1943.2,1848.0 1940.0,1848.0 1940.0,1845.3 1936.8,1845.3 1936.8,1843.4 1933.5,1843.4 1933.5,1844.2 1930.2,1844.2 1930.2,1845.2 1927.0,1845.2 1927.0,1846.4 1923.8,1846.4 1923.8,1844.0 1920.5,1844.0 1920.5,1845.6 1917.2,1845.6 1917.2,1847.0 1914.0,1847.0 1914.0,1843.5 1910.8,1843.5 1910.8,1844.6 1907.5,1844.6 1907.5,1844.5 1904.2,1844.5 1904.2,1847.1 1901.0,1847.1 1901.0,1845.7 1897.8,1845.7 1897.8,1847.8 1894.5,1847.8 1894.5,1846.6 1891.2,1846.6 1891.2,1842.9 1888.0,1842.9 1888.0,1847.2 1884.8,1847.2 1884.8,1841.3 1881.5,1841.3 1881.5,1843.7 1878.2,1843.7 1878.2,1845.0 1875.0,1845.0 1875.0,1845.8 1871.8,1845.8 1871.8,1847.9 1868.5,1847.9 1868.5,1844.8 1865.2,1844.8 1865.2,1844.5 1862.0,1844.5 1862.0,1843.6 1858.8,1843.6 1858.8,1843.5 1855.5,1843.5 1855.5,1845.9 1852.2,1845.9 1852.2,1843.6 1849.0,1843.6 1849.0,1845.9 1845.8,1845.9 1845.8,1845.7 1842.5,1845.7 1842.5,1842.7 1839.2,1842.7 1839.2,1841.3 1836.0,1841.3 1836.0,1844.0 1832.8,1844.0 1832.8,1843.0 1829.5,1843.0 1829.5,1843.4 1826.2,1843.4 1826.2,1844.2 1823.0,1844.2 1823.0,1841.6 1819.8,1841.6 1819.8,1844.7 1816.5,1844.7 1816.5,1845.2 1813.2,1845.2 1813.2,1847.0 1810.0,1847.0 1810.0,1844.2 1806.8,1844.2 1806.8,1845.5 1803.5,1845.5 1803.5,1841.3 1800.2,1841.3 1800.2,1843.8 1797.0,1843.8 1797.0,1845.0 1793.8,1845.0 1793.8,1843.9 1790.5,1843.9 1790.5,1848.4 1787.2,1848.4 1787.2,1844.3 1784.0,1844.3 1784.0,1844.7 1780.8,1844.7 1780.8,1845.0 1777.5,1845.0 1777.5,1844.3 1774.2,1844.3 1774.2,1847.7 1771.0,1847.7 1771.0,1844.8 1767.8,1844.8 1767.8,1846.9 1764.5,1846.9 1764.5,1843.2 1761.2,1843.2 1761.2,1846.1 1758.0,1846.1 1758.0,1843.4 1754.8,1843.4 1754.8,1842.5 1751.5,1842.5 1751.5,1841.9 1748.2,1841.9 1748.2,1844.5 1745.0,1844.5 1745.0,1843.6 1741.8,1843.6 1741.8,1843.2 1738.5,1843.2 1738.5,1848.1 1735.2,1848.1 1735.2,1847.5 1732.0,1847.5 1732.0,1847.4 1728.8,1847.4 1728.8,1844.7 1725.5,1844.7 1725.5,1844.2 1722.2,1844.2 1722.2,1841.7 1719.0,1841.7 1719.0,1841.8 1715.8,1841.8 1715.8,1841.4 1712.5,1841.4 1712.5,1842.9 1709.2,1842.9 1709.2,1844.0 1706.0,1844.0 1706.0,1843.2 1702.8,1843.2 1702.8,1843.3 1699.5,1843.3 1699.5,1845.0 1696.2,1845.0 1696.2,1844.3 1693.0,1844.3 1693.0,1846.3 1689.8,1846.3 1689.8,1847.9 1686.5,1847.9 1686.5,1845.7 1683.2,1845.7 1683.2,1845.6 1680.0,1845.6 1680.0,1843.4 1676.8,1843.4 1676.8,1844.6 1673.5,1844.6 1673.5,1844.7 1670.2,1844.7 1670.2,1843.4 1667.0,1843.4 1667.0,1845.3 1663.8,1845.3 1663.8,1841.4 1660.5,1841.4 1660.5,1841.9 1657.2,1841.9 1657.2,1845.1 1654.0,1845.1 1654.0,1841.8 1650.8,1841.8 1650.8,1842.8 1647.5,1842.8 1647.5,1841.7 1644.2,1841.7 1644.2,1843.8 1641.0,1843.8 1641.0,1842.0 1637.8,1842.0 1637.8,1843.2 1634.5,1843.2 1634.5,1842.7 1631.2,1842.7 1631.2,1841.3 1628.0,1841.3 1628.0,1842.5 1624.8,1842.5 1624.8,1844.1 1621.5,1844.1 1621.5,1843.2 1618.2,1843.2 1618.2,1841.6 1615.0,1841.6 1615.0,1843.2 1611.8,1843.2 1611.8,1846.9 1608.5,1846.9 1608.5,1844.7 1605.2,1844.7 1605.2,1841.3 1602.0,1841.3 1602.0,1844.6 1598.8,1844.6 1598.8,1842.2 1595.5,1842.2 1595.5,1845.7 1592.2,1845.7 1592.2,1842.8 1589.0,1842.8 1589.0,1844.7 1585.8,1844.7 1585.8,1844.5 1582.5,1844.5 1582.5,1846.1 1579.2,1846.1 1579.2,1843.8 1576.0,1843.8 1576.0,1844.6 1572.8,1844.6 1572.8,1845.1 1569.5,1845.1 1569.5,1842.0 1566.2,1842.0 1566.2,1842.6 1563.0,1842.6 1563.0,1845.4 1559.8,1845.4 1559.8,1842.2 1556.5,1842.2 1556.5,1842.1 1553.2,1842.1 1553.2,1841.7 1550.0,1841.7 1550.0,1842.9 1546.8,1842.9 1546.8,1843.1 1543.5,1843.1 1543.5,1843.2 1540.2,1843.2 1540.2,1845.6 1537.0,1845.6 1537.0,1844.4 1533.8,1844.4 1533.8,1846.3 1530.5,1846.3 1530.5,1842.9 1527.2,1842.9 1527.2,1844.9 1524.0,1844.9 1524.0,1846.0 1520.8,1846.0 1520.8,1846.4 1517.5,1846.4 1517.5,1841.8 1514.2,1841.8 1514.2,1845.6 1511.0,1845.6 1511.0,1841.3 1507.8,1841.3 1507.8,1841.3 1504.5,1841.3 1504.5,1843.2 1501.2,1843.2 1501.2,1842.8 1498.0,1842.8 1498.0,1845.2 1494.8,1845.2 1494.8,1845.2 1491.5,1845.2 1491.5,1847.0 1488.2,1847.0 1488.2,1847.4 1485.0,1847.4Z" fill="#5B9BD5" clip-path="url(#clip_c2)" opacity="0.7"/>
<path d="M1485.0,1812.4 1488.2,1812.4 1488.2,1818.6 1491.5,1818.6 1491.5,1815.9 1494.8,1815.9 1494.8,1813.8 1498.0,1813.8 1498.0,1812.6 1501.2,1812.6 1501.2,1813.2 1504.5,1813.2 1504.5,1815.6 1507.8,1815.6 1507.8,1815.3 1511.0,1815.3 1511.0,1815.2 1514.2,1815.2 1514.2,1812.0 1517.5,1812.0 1517.5,1818.1 1520.8,1818.1 1520.8,1814.5 1524.0,1814.5 1524.0,1817.8 1527.2,1817.8 1527.2,1812.3 1530.5,1812.3 1530.5,1817.1 1533.8,1817.1 1533.8,1816.0 1537.0,1816.0 1537.0,1819.2 1540.2,1819.2 1540.2,1819.4 1543.5,1819.4 1543.5,1818.4 1546.8,1818.4 1546.8,1817.9 1550.0,1817.9 1550.0,1815.8 1553.2,1815.8 1553.2,1811.6 1556.5,1811.6 1556.5,1813.2 1559.8,1813.2 1559.8,1815.7 1563.0,1815.7 1563.0,1814.2 1566.2,1814.2 1566.2,1815.5 1569.5,1815.5 1569.5,1814.1 1572.8,1814.1 1572.8,1816.2 1576.0,1816.2 1576.0,1813.7 1579.2,1813.7 1579.2,1819.1 1582.5,1819.1 1582.5,1816.2 1585.8,1816.2 1585.8,1818.0 1589.0,1818.0 1589.0,1817.7 1592.2,1817.7 1592.2,1816.5 1595.5,1816.5 1595.5,1814.7 1598.8,1814.7 1598.8,1819.5 1602.0,1819.5 1602.0,1817.6 1605.2,1817.6 1605.2,1816.6 1608.5,1816.6 1608.5,1814.8 1611.8,1814.8 1611.8,1815.5 1615.0,1815.5 1615.0,1815.4 1618.2,1815.4 1618.2,1819.3 1621.5,1819.3 1621.5,1819.4 1624.8,1819.4 1624.8,1816.3 1628.0,1816.3 1628.0,1814.9 1631.2,1814.9 1631.2,1815.7 1634.5,1815.7 1634.5,1813.4 1637.8,1813.4 1637.8,1815.0 1641.0,1815.0 1641.0,1811.7 1644.2,1811.7 1644.2,1816.2 1647.5,1816.2 1647.5,1813.0 1650.8,1813.0 1650.8,1817.0 1654.0,1817.0 1654.0,1819.3 1657.2,1819.3 1657.2,1817.4 1660.5,1817.4 1660.5,1816.5 1663.8,1816.5 1663.8,1814.5 1667.0,1814.5 1667.0,1816.9 1670.2,1816.9 1670.2,1815.4 1673.5,1815.4 1673.5,1813.4 1676.8,1813.4 1676.8,1814.9 1680.0,1814.9 1680.0,1816.3 1683.2,1816.3 1683.2,1816.1 1686.5,1816.1 1686.5,1817.0 1689.8,1817.0 1689.8,1813.4 1693.0,1813.4 1693.0,1818.2 1696.2,1818.2 1696.2,1818.9 1699.5,1818.9 1699.5,1816.0 1702.8,1816.0 1702.8,1813.7 1706.0,1813.7 1706.0,1817.7 1709.2,1817.7 1709.2,1817.3 1712.5,1817.3 1712.5,1816.5 1715.8,1816.5 1715.8,1815.8 1719.0,1815.8 1719.0,1816.3 1722.2,1816.3 1722.2,1813.8 1725.5,1813.8 1725.5,1813.5 1728.8,1813.5 1728.8,1815.0 1732.0,1815.0 1732.0,1815.9 1735.2,1815.9 1735.2,1819.1 1738.5,1819.1 1738.5,1819.2 1741.8,1819.2 1741.8,1818.6 1745.0,1818.6 1745.0,1812.9 1748.2,1812.9 1748.2,1817.0 1751.5,1817.0 1751.5,1816.1 1754.8,1816.1 1754.8,1817.6 1758.0,1817.6 1758.0,1815.8 1761.2,1815.8 1761.2,1816.9 1764.5,1816.9 1764.5,1813.1 1767.8,1813.1 1767.8,1817.2 1771.0,1817.2 1771.0,1817.1 1774.2,1817.1 1774.2,1815.8 1777.5,1815.8 1777.5,1815.3 1780.8,1815.3 1780.8,1815.8 1784.0,1815.8 1784.0,1816.0 1787.2,1816.0 1787.2,1815.0 1790.5,1815.0 1790.5,1817.2 1793.8,1817.2 1793.8,1813.1 1797.0,1813.1 1797.0,1814.8 1800.2,1814.8 1800.2,1815.8 1803.5,1815.8 1803.5,1818.4 1806.8,1818.4 1806.8,1816.4 1810.0,1816.4 1810.0,1815.1 1813.2,1815.1 1813.2,1813.9 1816.5,1813.9 1816.5,1813.3 1819.8,1813.3 1819.8,1818.8 1823.0,1818.8 1823.0,1817.3 1826.2,1817.3 1826.2,1819.4 1829.5,1819.4 1829.5,1814.8 1832.8,1814.8 1832.8,1819.5 1836.0,1819.5 1836.0,1819.4 1839.2,1819.4 1839.2,1816.7 1842.5,1816.7 1842.5,1817.1 1845.8,1817.1 1845.8,1816.3 1849.0,1816.3 1849.0,1813.9 1852.2,1813.9 1852.2,1813.6 1855.5,1813.6 1855.5,1815.9 1858.8,1815.9 1858.8,1812.3 1862.0,1812.3 1862.0,1817.0 1865.2,1817.0 1865.2,1817.3 1868.5,1817.3 1868.5,1818.9 1871.8,1818.9 1871.8,1816.5 1875.0,1816.5 1875.0,1815.1 1878.2,1815.1 1878.2,1816.3 1881.5,1816.3 1881.5,1815.5 1884.8,1815.5 1884.8,1817.6 1888.0,1817.6 1888.0,1815.2 1891.2,1815.2 1891.2,1817.7 1894.5,1817.7 1894.5,1816.5 1897.8,1816.5 1897.8,1818.7 1901.0,1818.7 1901.0,1818.7 1904.2,1818.7 1904.2,1816.3 1907.5,1816.3 1907.5,1817.1 1910.8,1817.1 1910.8,1814.7 1914.0,1814.7 1914.0,1817.2 1917.2,1817.2 1917.2,1817.8 1920.5,1817.8 1920.5,1815.5 1923.8,1815.5 1923.8,1813.7 1927.0,1813.7 1927.0,1817.8 1930.2,1817.8 1930.2,1816.7 1933.5,1816.7 1933.5,1817.7 1936.8,1817.7 1936.8,1814.6 1940.0,1814.6 1940.0,1816.0 1943.2,1816.0 1943.2,1818.0 1946.5,1818.0 1946.5,1816.5 1949.8,1816.5 1949.8,1815.2 1953.0,1815.2 1953.0,1814.5 1956.2,1814.5 1956.2,1816.1 1959.5,1816.1 1959.5,1814.4 1962.8,1814.4 1962.8,1814.7 1966.0,1814.7 1966.0,1815.7 1969.2,1815.7 1969.2,1817.8 1972.5,1817.8 1972.5,1814.7 1975.8,1814.7 1975.8,1815.7 1979.0,1815.7 1979.0,1815.8 1982.2,1815.8 1982.2,1813.2 1985.5,1813.2 1985.5,1815.4 1988.8,1815.4 1988.8,1816.4 1992.0,1816.4 1992.0,1816.1 1995.2,1816.1 1995.2,1817.1 1998.5,1817.1 1998.5,1815.2 2001.8,1815.2 2001.8,1817.2 2005.0,1817.2 2005.0,1814.7 2008.2,1814.7 2008.2,1816.4 2011.5,1816.4 2011.5,1817.4 2014.8,1817.4 2014.8,1816.4 2018.0,1816.4 2018.0,1819.2 2021.2,1819.2 2021.2,1817.4 2024.5,1817.4 2024.5,1816.5 2027.8,1816.5 2027.8,1817.4 2031.0,1817.4 2031.0,1819.2 2034.2,1819.2 2034.2,1816.6 2037.5,1816.6 2037.5,1814.5 2040.8,1814.5 2040.8,1815.3 2044.0,1815.3 2044.0,1817.4 2047.2,1817.4 2047.2,1819.5 2050.5,1819.5 2050.5,1818.4 2053.8,1818.4 2053.8,1812.5 2057.0,1812.5 2057.0,1816.6 2060.2,1816.6 2060.2,1817.1 2063.5,1817.1 2063.5,1813.9 2066.8,1813.9 2066.8,1817.7 2070.0,1817.7 2070.0,1817.5 2073.2,1817.5 2073.2,1815.5 2076.5,1815.5 2076.5,1816.2 2079.8,1816.2 2079.8,1812.1 2083.0,1812.1 2083.0,1814.7 2086.2,1814.7 2086.2,1812.7 2089.5,1812.7 2089.5,1815.1 2092.8,1815.1 2092.8,1816.1 2096.0,1816.1 2096.0,1815.7 2099.2,1815.7 2099.2,1817.8 2102.5,1817.8 2102.5,1813.0 2105.8,1813.0 2105.8,1814.0 2109.0,1814.0 2109.0,1817.4 2112.2,1817.4 2112.2,1816.6 2115.5,1816.6 2115.5,1816.3 2118.8,1816.3 2118.8,1812.7 2122.0,1812.7 2122.0,1812.3 2125.2,1812.3 2125.2,1816.6 2128.5,1816.6 2128.5,1814.9 2131.8,1814.9 2131.8,1813.8 2135.0,1813.8 2135.0,1818.1 2138.2,1818.1 2138.2,1815.6 2141.5,1815.6 2141.5,1819.5 2144.8,1819.5 2144.8,1817.6 2148.0,1817.6 2148.0,1812.9 2151.2,1812.9 2151.2,1816.3 2154.5,1816.3 2154.5,1815.4 2157.8,1815.4 2157.8,1815.3 2161.0,1815.3 2161.0,1817.3 2164.2,1817.3 2164.2,1812.1 2167.5,1812.1 2167.5,1815.6 2170.8,1815.6 2170.8,1815.3 2174.0,1815.3 2174.0,1817.1 2177.2,1817.1 2177.2,1815.7 2180.5,1815.7 2180.5,1813.0 2183.8,1813.0 2183.8,1813.4 2187.0,1813.4 2187.0,1817.7 2190.2,1817.7 2190.2,1815.3 2193.5,1815.3 2193.5,1817.7 2196.8,1817.7 2196.8,1818.3 2200.0,1818.3 2200.0,1815.1 2203.2,1815.1 2203.2,1819.0 2206.5,1819.0 2206.5,1815.9 2209.8,1815.9 2209.8,1818.0 2213.0,1818.0 2213.0,1818.0 2216.2,1818.0 2216.2,1818.1 2219.5,1818.1 2219.5,1819.3 2222.8,1819.3 2222.8,1815.3 2226.0,1815.3 2226.0,1812.8 2229.2,1812.8 2229.2,1814.6 2232.5,1814.6 2232.5,1813.8 2235.8,1813.8 2235.8,1818.3 2239.0,1818.3 2239.0,1817.5 2242.2,1817.5 2242.2,1818.0 2245.5,1818.0 2245.5,1818.5 2248.8,1818.5 2248.8,1816.8 2252.0,1816.8 2252.0,1814.8 2255.2,1814.8 2255.2,1813.9 2258.5,1813.9 2258.5,1816.4 2261.8,1816.4 2261.8,1814.6 2265.0,1814.6 2265.0,1813.8 2268.2,1813.8 2268.2,1813.8 2271.5,1813.8 2271.5,1814.7 2274.8,1814.7 2274.8,1817.8 2278.0,1817.8 2278.0,1818.7 2281.2,1818.7 2281.2,1814.1 2284.5,1814.1 2284.5,1816.1 2287.8,1816.1 2287.8,1815.2 2291.0,1815.2 2291.0,1812.6 2294.2,1812.6 2294.2,1816.3 2297.5,1816.3 2297.5,1816.5 2300.8,1816.5 2300.8,1811.6 2304.0,1811.6 2304.0,1812.4 2307.2,1812.4 2307.2,1812.6 2310.5,1812.6 2310.5,1813.2 2313.8,1813.2 2313.8,1812.4 2317.0,1812.4 2317.0,1813.2 2320.2,1813.2 2320.2,1817.2 2323.5,1817.2 2323.5,1814.1 2326.8,1814.1 2326.8,1815.2 2330.0,1815.2 2330.0,1813.7 2333.2,1813.7 2333.2,1815.6 2336.5,1815.6 2336.5,1815.1 2339.8,1815.1 2339.8,1813.9 2343.0,1813.9 2343.0,1815.1 2346.2,1815.1 2346.2,1816.3 2349.5,1816.3 2349.5,1811.9 2352.8,1811.9 2352.8,1815.8 2356.0,1815.8 2356.0,1813.8 2359.2,1813.8 2359.2,1817.5 2362.5,1817.5 2362.5,1814.6 2365.8,1814.6 2365.8,1816.1 2369.0,1816.1 2369.0,1814.3 2372.2,1814.3 2372.2,1814.0 2375.5,1814.0 2375.5,1815.0 2378.8,1815.0 2378.8,1816.7 2382.0,1816.7 2382.0,1816.0 2385.2,1816.0 2385.2,1816.3 2388.5,1816.3 2388.5,1815.4 2391.8,1815.4 2391.8,1816.5 2395.0,1816.5 2395.0,1818.6 2397.0,1818.6 2397.0,1842.1 2395.0,1842.1 2395.0,1840.9 2391.8,1840.9 2391.8,1840.3 2388.5,1840.3 2388.5,1837.1 2385.2,1837.1 2385.2,1841.0 2382.0,1841.0 2382.0,1837.2 2378.8,1837.2 2378.8,1841.1 2375.5,1841.1 2375.5,1837.4 2372.2,1837.4 2372.2,1842.4 2369.0,1842.4 2369.0,1841.8 2365.8,1841.8 2365.8,1843.8 2362.5,1843.8 2362.5,1839.9 2359.2,1839.9 2359.2,1840.1 2356.0,1840.1 2356.0,1843.1 2352.8,1843.1 2352.8,1843.1 2349.5,1843.1 2349.5,1841.9 2346.2,1841.9 2346.2,1839.8 2343.0,1839.8 2343.0,1843.9 2339.8,1843.9 2339.8,1843.0 2336.5,1843.0 2336.5,1842.8 2333.2,1842.8 2333.2,1839.3 2330.0,1839.3 2330.0,1841.9 2326.8,1841.9 2326.8,1840.2 2323.5,1840.2 2323.5,1842.8 2320.2,1842.8 2320.2,1838.6 2317.0,1838.6 2317.0,1839.6 2313.8,1839.6 2313.8,1840.1 2310.5,1840.1 2310.5,1840.9 2307.2,1840.9 2307.2,1838.9 2304.0,1838.9 2304.0,1841.7 2300.8,1841.7 2300.8,1841.1 2297.5,1841.1 2297.5,1839.7 2294.2,1839.7 2294.2,1839.7 2291.0,1839.7 2291.0,1840.2 2287.8,1840.2 2287.8,1842.4 2284.5,1842.4 2284.5,1840.1 2281.2,1840.1 2281.2,1840.3 2278.0,1840.3 2278.0,1838.2 2274.8,1838.2 2274.8,1839.4 2271.5,1839.4 2271.5,1838.6 2268.2,1838.6 2268.2,1839.4 2265.0,1839.4 2265.0,1840.0 2261.8,1840.0 2261.8,1840.2 2258.5,1840.2 2258.5,1839.3 2255.2,1839.3 2255.2,1838.0 2252.0,1838.0 2252.0,1839.4 2248.8,1839.4 2248.8,1839.2 2245.5,1839.2 2245.5,1839.3 2242.2,1839.3 2242.2,1841.8 2239.0,1841.8 2239.0,1840.7 2235.8,1840.7 2235.8,1840.1 2232.5,1840.1 2232.5,1842.0 2229.2,1842.0 2229.2,1840.0 2226.0,1840.0 2226.0,1838.4 2222.8,1838.4 2222.8,1836.5 2219.5,1836.5 2219.5,1839.8 2216.2,1839.8 2216.2,1837.0 2213.0,1837.0 2213.0,1838.3 2209.8,1838.3 2209.8,1839.6 2206.5,1839.6 2206.5,1842.1 2203.2,1842.1 2203.2,1843.8 2200.0,1843.8 2200.0,1843.0 2196.8,1843.0 2196.8,1840.3 2193.5,1840.3 2193.5,1839.6 2190.2,1839.6 2190.2,1840.2 2187.0,1840.2 2187.0,1839.7 2183.8,1839.7 2183.8,1836.8 2180.5,1836.8 2180.5,1838.0 2177.2,1838.0 2177.2,1839.5 2174.0,1839.5 2174.0,1840.0 2170.8,1840.0 2170.8,1840.5 2167.5,1840.5 2167.5,1839.8 2164.2,1839.8 2164.2,1838.9 2161.0,1838.9 2161.0,1839.7 2157.8,1839.7 2157.8,1836.5 2154.5,1836.5 2154.5,1836.7 2151.2,1836.7 2151.2,1839.5 2148.0,1839.5 2148.0,1838.6 2144.8,1838.6 2144.8,1837.9 2141.5,1837.9 2141.5,1836.9 2138.2,1836.9 2138.2,1837.8 2135.0,1837.8 2135.0,1836.5 2131.8,1836.5 2131.8,1841.3 2128.5,1841.3 2128.5,1839.7 2125.2,1839.7 2125.2,1836.5 2122.0,1836.5 2122.0,1836.8 2118.8,1836.8 2118.8,1838.4 2115.5,1838.4 2115.5,1839.3 2112.2,1839.3 2112.2,1842.0 2109.0,1842.0 2109.0,1841.9 2105.8,1841.9 2105.8,1842.4 2102.5,1842.4 2102.5,1841.0 2099.2,1841.0 2099.2,1838.3 2096.0,1838.3 2096.0,1837.7 2092.8,1837.7 2092.8,1842.0 2089.5,1842.0 2089.5,1839.5 2086.2,1839.5 2086.2,1840.2 2083.0,1840.2 2083.0,1840.7 2079.8,1840.7 2079.8,1841.7 2076.5,1841.7 2076.5,1839.8 2073.2,1839.8 2073.2,1840.8 2070.0,1840.8 2070.0,1836.7 2066.8,1836.7 2066.8,1836.5 2063.5,1836.5 2063.5,1841.0 2060.2,1841.0 2060.2,1838.3 2057.0,1838.3 2057.0,1836.8 2053.8,1836.8 2053.8,1837.3 2050.5,1837.3 2050.5,1839.3 2047.2,1839.3 2047.2,1838.7 2044.0,1838.7 2044.0,1841.1 2040.8,1841.1 2040.8,1837.2 2037.5,1837.2 2037.5,1840.4 2034.2,1840.4 2034.2,1843.3 2031.0,1843.3 2031.0,1838.8 2027.8,1838.8 2027.8,1837.3 2024.5,1837.3 2024.5,1839.8 2021.2,1839.8 2021.2,1839.8 2018.0,1839.8 2018.0,1838.3 2014.8,1838.3 2014.8,1841.3 2011.5,1841.3 2011.5,1838.9 2008.2,1838.9 2008.2,1841.3 2005.0,1841.3 2005.0,1840.8 2001.8,1840.8 2001.8,1840.9 1998.5,1840.9 1998.5,1838.5 1995.2,1838.5 1995.2,1838.3 1992.0,1838.3 1992.0,1838.2 1988.8,1838.2 1988.8,1838.3 1985.5,1838.3 1985.5,1840.0 1982.2,1840.0 1982.2,1838.3 1979.0,1838.3 1979.0,1840.6 1975.8,1840.6 1975.8,1840.2 1972.5,1840.2 1972.5,1841.2 1969.2,1841.2 1969.2,1843.9 1966.0,1843.9 1966.0,1839.8 1962.8,1839.8 1962.8,1839.6 1959.5,1839.6 1959.5,1843.9 1956.2,1843.9 1956.2,1841.4 1953.0,1841.4 1953.0,1836.6 1949.8,1836.6 1949.8,1843.2 1946.5,1843.2 1946.5,1844.0 1943.2,1844.0 1943.2,1838.5 1940.0,1838.5 1940.0,1842.9 1936.8,1842.9 1936.8,1840.1 1933.5,1840.1 1933.5,1840.5 1930.2,1840.5 1930.2,1839.2 1927.0,1839.2 1927.0,1838.2 1923.8,1838.2 1923.8,1840.4 1920.5,1840.4 1920.5,1837.3 1917.2,1837.3 1917.2,1839.6 1914.0,1839.6 1914.0,1844.3 1910.8,1844.3 1910.8,1840.8 1907.5,1840.8 1907.5,1839.5 1904.2,1839.5 1904.2,1840.7 1901.0,1840.7 1901.0,1841.6 1897.8,1841.6 1897.8,1839.7 1894.5,1839.7 1894.5,1841.3 1891.2,1841.3 1891.2,1838.9 1888.0,1838.9 1888.0,1841.3 1884.8,1841.3 1884.8,1836.6 1881.5,1836.6 1881.5,1838.5 1878.2,1838.5 1878.2,1838.1 1875.0,1838.1 1875.0,1840.5 1871.8,1840.5 1871.8,1839.7 1868.5,1839.7 1868.5,1843.0 1865.2,1843.0 1865.2,1840.4 1862.0,1840.4 1862.0,1839.5 1858.8,1839.5 1858.8,1844.4 1855.5,1844.4 1855.5,1839.8 1852.2,1839.8 1852.2,1839.1 1849.0,1839.1 1849.0,1841.5 1845.8,1841.5 1845.8,1837.6 1842.5,1837.6 1842.5,1841.2 1839.2,1841.2 1839.2,1842.0 1836.0,1842.0 1836.0,1838.0 1832.8,1838.0 1832.8,1840.1 1829.5,1840.1 1829.5,1840.0 1826.2,1840.0 1826.2,1840.6 1823.0,1840.6 1823.0,1839.6 1819.8,1839.6 1819.8,1837.3 1816.5,1837.3 1816.5,1841.4 1813.2,1841.4 1813.2,1839.9 1810.0,1839.9 1810.0,1837.9 1806.8,1837.9 1806.8,1840.2 1803.5,1840.2 1803.5,1839.0 1800.2,1839.0 1800.2,1841.0 1797.0,1841.0 1797.0,1840.0 1793.8,1840.0 1793.8,1840.4 1790.5,1840.4 1790.5,1838.9 1787.2,1838.9 1787.2,1839.9 1784.0,1839.9 1784.0,1837.0 1780.8,1837.0 1780.8,1838.0 1777.5,1838.0 1777.5,1837.8 1774.2,1837.8 1774.2,1841.1 1771.0,1841.1 1771.0,1837.8 1767.8,1837.8 1767.8,1844.4 1764.5,1844.4 1764.5,1841.5 1761.2,1841.5 1761.2,1840.7 1758.0,1840.7 1758.0,1838.3 1754.8,1838.3 1754.8,1842.1 1751.5,1842.1 1751.5,1843.1 1748.2,1843.1 1748.2,1840.9 1745.0,1840.9 1745.0,1842.8 1741.8,1842.8 1741.8,1840.2 1738.5,1840.2 1738.5,1840.9 1735.2,1840.9 1735.2,1840.0 1732.0,1840.0 1732.0,1843.3 1728.8,1843.3 1728.8,1842.8 1725.5,1842.8 1725.5,1843.0 1722.2,1843.0 1722.2,1838.2 1719.0,1838.2 1719.0,1838.3 1715.8,1838.3 1715.8,1837.4 1712.5,1837.4 1712.5,1839.7 1709.2,1839.7 1709.2,1836.7 1706.0,1836.7 1706.0,1837.7 1702.8,1837.7 1702.8,1839.5 1699.5,1839.5 1699.5,1839.7 1696.2,1839.7 1696.2,1840.2 1693.0,1840.2 1693.0,1839.9 1689.8,1839.9 1689.8,1838.8 1686.5,1838.8 1686.5,1840.2 1683.2,1840.2 1683.2,1839.1 1680.0,1839.1 1680.0,1840.7 1676.8,1840.7 1676.8,1839.9 1673.5,1839.9 1673.5,1842.2 1670.2,1842.2 1670.2,1840.2 1667.0,1840.2 1667.0,1842.6 1663.8,1842.6 1663.8,1841.6 1660.5,1841.6 1660.5,1837.5 1657.2,1837.5 1657.2,1838.0 1654.0,1838.0 1654.0,1837.5 1650.8,1837.5 1650.8,1841.7 1647.5,1841.7 1647.5,1842.9 1644.2,1842.9 1644.2,1839.4 1641.0,1839.4 1641.0,1839.6 1637.8,1839.6 1637.8,1839.9 1634.5,1839.9 1634.5,1836.8 1631.2,1836.8 1631.2,1838.3 1628.0,1838.3 1628.0,1837.4 1624.8,1837.4 1624.8,1837.3 1621.5,1837.3 1621.5,1840.3 1618.2,1840.3 1618.2,1838.8 1615.0,1838.8 1615.0,1842.5 1611.8,1842.5 1611.8,1839.5 1608.5,1839.5 1608.5,1839.9 1605.2,1839.9 1605.2,1839.3 1602.0,1839.3 1602.0,1838.1 1598.8,1838.1 1598.8,1839.2 1595.5,1839.2 1595.5,1838.6 1592.2,1838.6 1592.2,1838.5 1589.0,1838.5 1589.0,1841.2 1585.8,1841.2 1585.8,1842.3 1582.5,1842.3 1582.5,1841.9 1579.2,1841.9 1579.2,1840.2 1576.0,1840.2 1576.0,1840.4 1572.8,1840.4 1572.8,1837.8 1569.5,1837.8 1569.5,1837.4 1566.2,1837.4 1566.2,1838.8 1563.0,1838.8 1563.0,1840.0 1559.8,1840.0 1559.8,1841.9 1556.5,1841.9 1556.5,1839.8 1553.2,1839.8 1553.2,1840.6 1550.0,1840.6 1550.0,1840.2 1546.8,1840.2 1546.8,1837.3 1543.5,1837.3 1543.5,1841.0 1540.2,1841.0 1540.2,1836.8 1537.0,1836.8 1537.0,1837.0 1533.8,1837.0 1533.8,1838.6 1530.5,1838.6 1530.5,1838.5 1527.2,1838.5 1527.2,1837.1 1524.0,1837.1 1524.0,1838.6 1520.8,1838.6 1520.8,1841.3 1517.5,1841.3 1517.5,1844.5 1514.2,1844.5 1514.2,1840.6 1511.0,1840.6 1511.0,1844.4 1507.8,1844.4 1507.8,1843.7 1504.5,1843.7 1504.5,1841.4 1501.2,1841.4 1501.2,1840.7 1498.0,1840.7 1498.0,1844.4 1494.8,1844.4 1494.8,1841.6 1491.5,1841.6 1491.5,1842.0 1488.2,1842.0 1488.2,1843.9 1485.0,1843.9Z" fill="#70AD47" clip-path="url(#clip_c2)"/>
<path d="M1485.0,1989.0 1488.2,1989.0 1488.2,1989.5 1491.5,1989.5 1491.5,1989.2 1494.8,1989.2 1494.8,1987.9 1498.0,1987.9 1498.0,1988.4 1501.2,1988.4 1501.2,1988.5 1504.5,1988.5 1504.5,1989.0 1507.8,1989.0 1507.8,1988.3 1511.0,1988.3 1511.0,1985.0 1514.2,1985.0 1514.2,1988.1 1517.5,1988.1 1517.5,1987.3 1520.8,1987.3 1520.8,1990.0 1524.0,1990.0 1524.0,1989.1 1527.2,1989.1 1527.2,1990.0 1530.5,1990.0 1530.5,1988.3 1533.8,1988.3 1533.8,1991.1 1537.0,1991.1 1537.0,1987.5 1540.2,1987.5 1540.2,1987.3 1543.5,1987.3 1543.5,1986.2 1546.8,1986.2 1546.8,1988.6 1550.0,1988.6 1550.0,1986.3 1553.2,1986.3 1553.2,1984.7 1556.5,1984.7 1556.5,1986.7 1559.8,1986.7 1559.8,1985.8 1563.0,1985.8 1563.0,1990.7 1566.2,1990.7 1566.2,1989.5 1569.5,1989.5 1569.5,1987.3 1572.8,1987.3 1572.8,1986.0 1576.0,1986.0 1576.0,1988.4 1579.2,1988.4 1579.2,1987.4 1582.5,1987.4 1582.5,1990.0 1585.8,1990.0 1585.8,1988.5 1589.0,1988.5 1589.0,1990.6 1592.2,1990.6 1592.2,1986.9 1595.5,1986.9 1595.5,1987.8 1598.8,1987.8 1598.8,1990.6 1602.0,1990.6 1602.0,1987.9 1605.2,1987.9 1605.2,1987.8 1608.5,1987.8 1608.5,1984.8 1611.8,1984.8 1611.8,1988.4 1615.0,1988.4 1615.0,1987.0 1618.2,1987.0 1618.2,1987.8 1621.5,1987.8 1621.5,1987.3 1624.8,1987.3 1624.8,1986.7 1628.0,1986.7 1628.0,1988.2 1631.2,1988.2 1631.2,1985.4 1634.5,1985.4 1634.5,1988.4 1637.8,1988.4 1637.8,1989.5 1641.0,1989.5 1641.0,1988.9 1644.2,1988.9 1644.2,1988.4 1647.5,1988.4 1647.5,1989.7 1650.8,1989.7 1650.8,1991.1 1654.0,1991.1 1654.0,1989.9 1657.2,1989.9 1657.2,1988.2 1660.5,1988.2 1660.5,1985.5 1663.8,1985.5 1663.8,1984.8 1667.0,1984.8 1667.0,1987.1 1670.2,1987.1 1670.2,1985.3 1673.5,1985.3 1673.5,1990.3 1676.8,1990.3 1676.8,1990.1 1680.0,1990.1 1680.0,1988.3 1683.2,1988.3 1683.2,1988.5 1686.5,1988.5 1686.5,1987.3 1689.8,1987.3 1689.8,1986.9 1693.0,1986.9 1693.0,1985.7 1696.2,1985.7 1696.2,1987.6 1699.5,1987.6 1699.5,1985.8 1702.8,1985.8 1702.8,1986.2 1706.0,1986.2 1706.0,1990.7 1709.2,1990.7 1709.2,1988.2 1712.5,1988.2 1712.5,1988.9 1715.8,1988.9 1715.8,1991.2 1719.0,1991.2 1719.0,1990.1 1722.2,1990.1 1722.2,1989.2 1725.5,1989.2 1725.5,1989.5 1728.8,1989.5 1728.8,1984.7 1732.0,1984.7 1732.0,1987.7 1735.2,1987.7 1735.2,1989.3 1738.5,1989.3 1738.5,1990.2 1741.8,1990.2 1741.8,1990.7 1745.0,1990.7 1745.0,1988.1 1748.2,1988.1 1748.2,1989.3 1751.5,1989.3 1751.5,1985.8 1754.8,1985.8 1754.8,1987.9 1758.0,1987.9 1758.0,1988.4 1761.2,1988.4 1761.2,1987.3 1764.5,1987.3 1764.5,1986.7 1767.8,1986.7 1767.8,1986.6 1771.0,1986.6 1771.0,1988.4 1774.2,1988.4 1774.2,1985.5 1777.5,1985.5 1777.5,1986.9 1780.8,1986.9 1780.8,1988.3 1784.0,1988.3 1784.0,1987.9 1787.2,1987.9 1787.2,1987.0 1790.5,1987.0 1790.5,1985.7 1793.8,1985.7 1793.8,1988.1 1797.0,1988.1 1797.0,1988.7 1800.2,1988.7 1800.2,1988.6 1803.5,1988.6 1803.5,1987.8 1806.8,1987.8 1806.8,1985.1 1810.0,1985.1 1810.0,1988.3 1813.2,1988.3 1813.2,1988.0 1816.5,1988.0 1816.5,1986.5 1819.8,1986.5 1819.8,1985.4 1823.0,1985.4 1823.0,1988.5 1826.2,1988.5 1826.2,1991.4 1829.5,1991.4 1829.5,1988.6 1832.8,1988.6 1832.8,1990.6 1836.0,1990.6 1836.0,1989.6 1839.2,1989.6 1839.2,1989.7 1842.5,1989.7 1842.5,1990.7 1845.8,1990.7 1845.8,1988.4 1849.0,1988.4 1849.0,1990.1 1852.2,1990.1 1852.2,1990.6 1855.5,1990.6 1855.5,1988.7 1858.8,1988.7 1858.8,1989.0 1862.0,1989.0 1862.0,1989.2 1865.2,1989.2 1865.2,1985.9 1868.5,1985.9 1868.5,1988.3 1871.8,1988.3 1871.8,1986.3 1875.0,1986.3 1875.0,1985.1 1878.2,1985.1 1878.2,1990.1 1881.5,1990.1 1881.5,1989.0 1884.8,1989.0 1884.8,1988.9 1888.0,1988.9 1888.0,1984.5 1891.2,1984.5 1891.2,1988.0 1894.5,1988.0 1894.5,1987.9 1897.8,1987.9 1897.8,1986.5 1901.0,1986.5 1901.0,1986.1 1904.2,1986.1 1904.2,1987.1 1907.5,1987.1 1907.5,1986.2 1910.8,1986.2 1910.8,1987.8 1914.0,1987.8 1914.0,1988.9 1917.2,1988.9 1917.2,1988.4 1920.5,1988.4 1920.5,1987.4 1923.8,1987.4 1923.8,1988.5 1927.0,1988.5 1927.0,1988.5 1930.2,1988.5 1930.2,1987.1 1933.5,1987.1 1933.5,1987.5 1936.8,1987.5 1936.8,1989.1 1940.0,1989.1 1940.0,1991.0 1943.2,1991.0 1943.2,1989.9 1946.5,1989.9 1946.5,1989.0 1949.8,1989.0 1949.8,1989.0 1953.0,1989.0 1953.0,1984.6 1956.2,1984.6 1956.2,1987.8 1959.5,1987.8 1959.5,1990.3 1962.8,1990.3 1962.8,1990.8 1966.0,1990.8 1966.0,1989.8 1969.2,1989.8 1969.2,1990.0 1972.5,1990.0 1972.5,1990.5 1975.8,1990.5 1975.8,1988.6 1979.0,1988.6 1979.0,1988.5 1982.2,1988.5 1982.2,1987.3 1985.5,1987.3 1985.5,1987.6 1988.8,1987.6 1988.8,1987.7 1992.0,1987.7 1992.0,1988.0 1995.2,1988.0 1995.2,1988.3 1998.5,1988.3 1998.5,1987.6 2001.8,1987.6 2001.8,1989.1 2005.0,1989.1 2005.0,1989.9 2008.2,1989.9 2008.2,1987.3 2011.5,1987.3 2011.5,1987.7 2014.8,1987.7 2014.8,1988.5 2018.0,1988.5 2018.0,1986.8 2021.2,1986.8 2021.2,1986.1 2024.5,1986.1 2024.5,1987.8 2027.8,1987.8 2027.8,1989.8 2031.0,1989.8 2031.0,1986.8 2034.2,1986.8 2034.2,1990.3 2037.5,1990.3 2037.5,1989.1 2040.8,1989.1 2040.8,1986.4 2044.0,1986.4 2044.0,1990.2 2047.2,1990.2 2047.2,1990.7 2050.5,1990.7 2050.5,1991.2 2053.8,1991.2 2053.8,1987.9 2057.0,1987.9 2057.0,1986.7 2060.2,1986.7 2060.2,1984.8 2063.5,1984.8 2063.5,1989.8 2066.8,1989.8 2066.8,1987.5 2070.0,1987.5 2070.0,1988.1 2073.2,1988.1 2073.2,1988.0 2076.5,1988.0 2076.5,1991.4 2079.8,1991.4 2079.8,1987.9 2083.0,1987.9 2083.0,1990.6 2086.2,1990.6 2086.2,1991.2 2089.5,1991.2 2089.5,1987.7 2092.8,1987.7 2092.8,1988.9 2096.0,1988.9 2096.0,1990.4 2099.2,1990.4 2099.2,1989.9 2102.5,1989.9 2102.5,1989.4 2105.8,1989.4 2105.8,1990.3 2109.0,1990.3 2109.0,1988.5 2112.2,1988.5 2112.2,1987.1 2115.5,1987.1 2115.5,1988.1 2118.8,1988.1 2118.8,1986.6 2122.0,1986.6 2122.0,1986.8 2125.2,1986.8 2125.2,1987.2 2128.5,1987.2 2128.5,1987.1 2131.8,1987.1 2131.8,1986.9 2135.0,1986.9 2135.0,1991.2 2138.2,1991.2 2138.2,1989.9 2141.5,1989.9 2141.5,1990.8 2144.8,1990.8 2144.8,1991.4 2148.0,1991.4 2148.0,1987.6 2151.2,1987.6 2151.2,1986.4 2154.5,1986.4 2154.5,1988.5 2157.8,1988.5 2157.8,1988.0 2161.0,1988.0 2161.0,1988.9 2164.2,1988.9 2164.2,1987.4 2167.5,1987.4 2167.5,1987.9 2170.8,1987.9 2170.8,1989.4 2174.0,1989.4 2174.0,1988.0 2177.2,1988.0 2177.2,1991.1 2180.5,1991.1 2180.5,1989.4 2183.8,1989.4 2183.8,1988.8 2187.0,1988.8 2187.0,1989.8 2190.2,1989.8 2190.2,1988.7 2193.5,1988.7 2193.5,1987.9 2196.8,1987.9 2196.8,1990.1 2200.0,1990.1 2200.0,1988.3 2203.2,1988.3 2203.2,1991.4 2206.5,1991.4 2206.5,1990.8 2209.8,1990.8 2209.8,1989.0 2213.0,1989.0 2213.0,1991.4 2216.2,1991.4 2216.2,1989.6 2219.5,1989.6 2219.5,1987.3 2222.8,1987.3 2222.8,1988.1 2226.0,1988.1 2226.0,1990.0 2229.2,1990.0 2229.2,1988.0 2232.5,1988.0 2232.5,1987.8 2235.8,1987.8 2235.8,1987.8 2239.0,1987.8 2239.0,1990.0 2242.2,1990.0 2242.2,1990.2 2245.5,1990.2 2245.5,1991.0 2248.8,1991.0 2248.8,1988.3 2252.0,1988.3 2252.0,1990.9 2255.2,1990.9 2255.2,1987.2 2258.5,1987.2 2258.5,1991.3 2261.8,1991.3 2261.8,1989.7 2265.0,1989.7 2265.0,1989.3 2268.2,1989.3 2268.2,1988.5 2271.5,1988.5 2271.5,1991.1 2274.8,1991.1 2274.8,1991.4 2278.0,1991.4 2278.0,1989.4 2281.2,1989.4 2281.2,1989.3 2284.5,1989.3 2284.5,1988.8 2287.8,1988.8 2287.8,1986.5 2291.0,1986.5 2291.0,1988.6 2294.2,1988.6 2294.2,1987.9 2297.5,1987.9 2297.5,1986.3 2300.8,1986.3 2300.8,1987.5 2304.0,1987.5 2304.0,1987.9 2307.2,1987.9 2307.2,1988.0 2310.5,1988.0 2310.5,1988.6 2313.8,1988.6 2313.8,1985.7 2317.0,1985.7 2317.0,1988.3 2320.2,1988.3 2320.2,1987.9 2323.5,1987.9 2323.5,1988.7 2326.8,1988.7 2326.8,1989.7 2330.0,1989.7 2330.0,1985.6 2333.2,1985.6 2333.2,1988.2 2336.5,1988.2 2336.5,1984.9 2339.8,1984.9 2339.8,1986.7 2343.0,1986.7 2343.0,1986.9 2346.2,1986.9 2346.2,1987.6 2349.5,1987.6 2349.5,1987.7 2352.8,1987.7 2352.8,1989.5 2356.0,1989.5 2356.0,1991.5 2359.2,1991.5 2359.2,1989.0 2362.5,1989.0 2362.5,1990.9 2365.8,1990.9 2365.8,1988.6 2369.0,1988.6 2369.0,1991.3 2372.2,1991.3 2372.2,1988.7 2375.5,1988.7 2375.5,1991.2 2378.8,1991.2 2378.8,1989.4 2382.0,1989.4 2382.0,1990.1 2385.2,1990.1 2385.2,1986.2 2388.5,1986.2 2388.5,1990.1 2391.8,1990.1 2391.8,1986.4 2395.0,1986.4 2395.0,1988.1 2397.0,1988.1 2397.0,1996.5 2395.0,1996.5 2395.0,1996.5 2391.8,1996.5 2391.8,1999.0 2388.5,1999.0 2388.5,1999.5 2385.2,1999.5 2385.2,1999.6 2382.0,1999.6 2382.0,1999.7 2378.8,1999.7 2378.8,2002.4 2375.5,2002.4 2375.5,1998.7 2372.2,1998.7 2372.2,1998.1 2369.0,1998.1 2369.0,1997.6 2365.8,1997.6 2365.8,1998.3 2362.5,1998.3 2362.5,1997.5 2359.2,1997.5 2359.2,2002.3 2356.0,2002.3 2356.0,1998.8 2352.8,1998.8 2352.8,2002.0 2349.5,2002.0 2349.5,2000.1 2346.2,2000.1 2346.2,1999.1 2343.0,1999.1 2343.0,2000.9 2339.8,2000.9 2339.8,1999.5 2336.5,1999.5 2336.5,2001.5 2333.2,2001.5 2333.2,1999.5 2330.0,1999.5 2330.0,2002.9 2326.8,2002.9 2326.8,1997.2 2323.5,1997.2 2323.5,2001.0 2320.2,2001.0 2320.2,2000.7 2317.0,2000.7 2317.0,2000.6 2313.8,2000.6 2313.8,2000.7 2310.5,2000.7 2310.5,2001.1 2307.2,2001.1 2307.2,1998.0 2304.0,1998.0 2304.0,1998.5 2300.8,1998.5 2300.8,1997.3 2297.5,1997.3 2297.5,1998.2 2294.2,1998.2 2294.2,1999.4 2291.0,1999.4 2291.0,1999.5 2287.8,1999.5 2287.8,1997.6 2284.5,1997.6 2284.5,2000.8 2281.2,2000.8 2281.2,2001.7 2278.0,2001.7 2278.0,2000.4 2274.8,2000.4 2274.8,2001.2 2271.5,2001.2 2271.5,1999.7 2268.2,1999.7 2268.2,2002.0 2265.0,2002.0 2265.0,2001.3 2261.8,2001.3 2261.8,2002.1 2258.5,2002.1 2258.5,1998.6 2255.2,1998.6 2255.2,1997.6 2252.0,1997.6 2252.0,2001.7 2248.8,2001.7 2248.8,2000.1 2245.5,2000.1 2245.5,1999.5 2242.2,1999.5 2242.2,1997.9 2239.0,1997.9 2239.0,2000.0 2235.8,2000.0 2235.8,1997.4 2232.5,1997.4 2232.5,1998.5 2229.2,1998.5 2229.2,1997.8 2226.0,1997.8 2226.0,2001.7 2222.8,2001.7 2222.8,1999.4 2219.5,1999.4 2219.5,2000.2 2216.2,2000.2 2216.2,1999.5 2213.0,1999.5 2213.0,2002.9 2209.8,2002.9 2209.8,2000.4 2206.5,2000.4 2206.5,2003.1 2203.2,2003.1 2203.2,1999.6 2200.0,1999.6 2200.0,1998.1 2196.8,1998.1 2196.8,2001.8 2193.5,2001.8 2193.5,2001.8 2190.2,2001.8 2190.2,2001.8 2187.0,2001.8 2187.0,2001.4 2183.8,2001.4 2183.8,1999.8 2180.5,1999.8 2180.5,2002.6 2177.2,2002.6 2177.2,1999.8 2174.0,1999.8 2174.0,2000.7 2170.8,2000.7 2170.8,2000.3 2167.5,2000.3 2167.5,2000.7 2164.2,2000.7 2164.2,1996.8 2161.0,1996.8 2161.0,1997.8 2157.8,1997.8 2157.8,1999.6 2154.5,1999.6 2154.5,2000.2 2151.2,2000.2 2151.2,1997.4 2148.0,1997.4 2148.0,1997.3 2144.8,1997.3 2144.8,2000.4 2141.5,2000.4 2141.5,2000.2 2138.2,2000.2 2138.2,1999.6 2135.0,1999.6 2135.0,1997.3 2131.8,1997.3 2131.8,1999.6 2128.5,1999.6 2128.5,1998.3 2125.2,1998.3 2125.2,1997.2 2122.0,1997.2 2122.0,2000.0 2118.8,2000.0 2118.8,1999.4 2115.5,1999.4 2115.5,1998.9 2112.2,1998.9 2112.2,2000.2 2109.0,2000.2 2109.0,1998.3 2105.8,1998.3 2105.8,2001.5 2102.5,2001.5 2102.5,1999.8 2099.2,1999.8 2099.2,2000.9 2096.0,2000.9 2096.0,1999.4 2092.8,1999.4 2092.8,2002.2 2089.5,2002.2 2089.5,2001.1 2086.2,2001.1 2086.2,2003.3 2083.0,2003.3 2083.0,2002.2 2079.8,2002.2 2079.8,2002.3 2076.5,2002.3 2076.5,2001.5 2073.2,2001.5 2073.2,2002.5 2070.0,2002.5 2070.0,1998.9 2066.8,1998.9 2066.8,2000.5 2063.5,2000.5 2063.5,2002.5 2060.2,2002.5 2060.2,2001.4 2057.0,2001.4 2057.0,1999.7 2053.8,1999.7 2053.8,2000.6 2050.5,2000.6 2050.5,1996.6 2047.2,1996.6 2047.2,1996.8 2044.0,1996.8 2044.0,1997.4 2040.8,1997.4 2040.8,1996.6 2037.5,1996.6 2037.5,1996.8 2034.2,1996.8 2034.2,1999.8 2031.0,1999.8 2031.0,1996.9 2027.8,1996.9 2027.8,1998.7 2024.5,1998.7 2024.5,1998.7 2021.2,1998.7 2021.2,1998.1 2018.0,1998.1 2018.0,2000.4 2014.8,2000.4 2014.8,1997.1 2011.5,1997.1 2011.5,1996.9 2008.2,1996.9 2008.2,1998.0 2005.0,1998.0 2005.0,1999.7 2001.8,1999.7 2001.8,1997.5 1998.5,1997.5 1998.5,1998.9 1995.2,1998.9 1995.2,2000.1 1992.0,2000.1 1992.0,1996.5 1988.8,1996.5 1988.8,2000.2 1985.5,2000.2 1985.5,1998.7 1982.2,1998.7 1982.2,2001.7 1979.0,2001.7 1979.0,1997.1 1975.8,1997.1 1975.8,1998.3 1972.5,1998.3 1972.5,1999.5 1969.2,1999.5 1969.2,2000.0 1966.0,2000.0 1966.0,1997.8 1962.8,1997.8 1962.8,2000.0 1959.5,2000.0 1959.5,1997.8 1956.2,1997.8 1956.2,1998.9 1953.0,1998.9 1953.0,1998.5 1949.8,1998.5 1949.8,1997.9 1946.5,1997.9 1946.5,1999.3 1943.2,1999.3 1943.2,1998.8 1940.0,1998.8 1940.0,2002.7 1936.8,2002.7 1936.8,1997.7 1933.5,1997.7 1933.5,1999.0 1930.2,1999.0 1930.2,2002.6 1927.0,2002.6 1927.0,2000.3 1923.8,2000.3 1923.8,2001.7 1920.5,2001.7 1920.5,1999.0 1917.2,1999.0 1917.2,2000.1 1914.0,2000.1 1914.0,2001.5 1910.8,2001.5 1910.8,1999.7 1907.5,1999.7 1907.5,1998.2 1904.2,1998.2 1904.2,1996.6 1901.0,1996.6 1901.0,1997.6 1897.8,1997.6 1897.8,1997.8 1894.5,1997.8 1894.5,2002.5 1891.2,2002.5 1891.2,1999.7 1888.0,1999.7 1888.0,2003.4 1884.8,2003.4 1884.8,1999.7 1881.5,1999.7 1881.5,2001.0 1878.2,2001.0 1878.2,2000.0 1875.0,2000.0 1875.0,2000.2 1871.8,2000.2 1871.8,1999.5 1868.5,1999.5 1868.5,2000.9 1865.2,2000.9 1865.2,2002.8 1862.0,2002.8 1862.0,2000.3 1858.8,2000.3 1858.8,2003.3 1855.5,2003.3 1855.5,2001.7 1852.2,2001.7 1852.2,1999.5 1849.0,1999.5 1849.0,2002.8 1845.8,2002.8 1845.8,2000.0 1842.5,2000.0 1842.5,2002.3 1839.2,2002.3 1839.2,2001.3 1836.0,2001.3 1836.0,2001.0 1832.8,2001.0 1832.8,2002.5 1829.5,2002.5 1829.5,2000.3 1826.2,2000.3 1826.2,1999.7 1823.0,1999.7 1823.0,1999.9 1819.8,1999.9 1819.8,2000.7 1816.5,2000.7 1816.5,2000.1 1813.2,2000.1 1813.2,2000.0 1810.0,2000.0 1810.0,2003.2 1806.8,2003.2 1806.8,1999.9 1803.5,1999.9 1803.5,2000.6 1800.2,2000.6 1800.2,2000.5 1797.0,2000.5 1797.0,2003.2 1793.8,2003.2 1793.8,1999.7 1790.5,1999.7 1790.5,1999.7 1787.2,1999.7 1787.2,1997.3 1784.0,1997.3 1784.0,1997.6 1780.8,1997.6 1780.8,1998.7 1777.5,1998.7 1777.5,2000.1 1774.2,2000.1 1774.2,1999.0 1771.0,1999.0 1771.0,2000.1 1767.8,2000.1 1767.8,1997.2 1764.5,1997.2 1764.5,1997.7 1761.2,1997.7 1761.2,2000.5 1758.0,2000.5 1758.0,2000.0 1754.8,2000.0 1754.8,1999.2 1751.5,1999.2 1751.5,2000.6 1748.2,2000.6 1748.2,2002.5 1745.0,2002.5 1745.0,2001.8 1741.8,2001.8 1741.8,2003.3 1738.5,2003.3 1738.5,1998.8 1735.2,1998.8 1735.2,2001.2 1732.0,2001.2 1732.0,2000.7 1728.8,2000.7 1728.8,2000.4 1725.5,2000.4 1725.5,1999.6 1722.2,1999.6 1722.2,1998.3 1719.0,1998.3 1719.0,2000.1 1715.8,2000.1 1715.8,1998.6 1712.5,1998.6 1712.5,2001.9 1709.2,2001.9 1709.2,2001.3 1706.0,2001.3 1706.0,2002.4 1702.8,2002.4 1702.8,2000.0 1699.5,2000.0 1699.5,2002.9 1696.2,2002.9 1696.2,2001.9 1693.0,2001.9 1693.0,2001.3 1689.8,2001.3 1689.8,1997.3 1686.5,1997.3 1686.5,1998.2 1683.2,1998.2 1683.2,1998.6 1680.0,1998.6 1680.0,1999.3 1676.8,1999.3 1676.8,1997.8 1673.5,1997.8 1673.5,1999.8 1670.2,1999.8 1670.2,1996.6 1667.0,1996.6 1667.0,1998.8 1663.8,1998.8 1663.8,1997.1 1660.5,1997.1 1660.5,2000.4 1657.2,2000.4 1657.2,1999.9 1654.0,1999.9 1654.0,1999.0 1650.8,1999.0 1650.8,1997.1 1647.5,1997.1 1647.5,1998.3 1644.2,1998.3 1644.2,1997.1 1641.0,1997.1 1641.0,2000.0 1637.8,2000.0 1637.8,1997.6 1634.5,1997.6 1634.5,2001.2 1631.2,2001.2 1631.2,1999.6 1628.0,1999.6 1628.0,2001.8 1624.8,2001.8 1624.8,2000.0 1621.5,2000.0 1621.5,2003.4 1618.2,2003.4 1618.2,2001.3 1615.0,2001.3 1615.0,2002.5 1611.8,2002.5 1611.8,1999.3 1608.5,1999.3 1608.5,2001.4 1605.2,2001.4 1605.2,1999.5 1602.0,1999.5 1602.0,1999.8 1598.8,1999.8 1598.8,1998.0 1595.5,1998.0 1595.5,2002.9 1592.2,2002.9 1592.2,2000.7 1589.0,2000.7 1589.0,2000.2 1585.8,2000.2 1585.8,2001.6 1582.5,2001.6 1582.5,2003.1 1579.2,2003.1 1579.2,2000.9 1576.0,2000.9 1576.0,2000.8 1572.8,2000.8 1572.8,1997.7 1569.5,1997.7 1569.5,1998.0 1566.2,1998.0 1566.2,2002.4 1563.0,2002.4 1563.0,1997.8 1559.8,1997.8 1559.8,1999.9 1556.5,1999.9 1556.5,1996.5 1553.2,1996.5 1553.2,1997.5 1550.0,1997.5 1550.0,1999.2 1546.8,1999.2 1546.8,1997.6 1543.5,1997.6 1543.5,1998.1 1540.2,1998.1 1540.2,1997.0 1537.0,1997.0 1537.0,2000.5 1533.8,2000.5 1533.8,1996.6 1530.5,1996.6 1530.5,1999.5 1527.2,1999.5 1527.2,1999.0 1524.0,1999.0 1524.0,2002.3 1520.8,2002.3 1520.8,1998.2 1517.5,1998.2 1517.5,1996.9 1514.2,1996.9 1514.2,1999.1 1511.0,1999.1 1511.0,1999.3 1507.8,1999.3 1507.8,1999.8 1504.5,1999.8 1504.5,2000.2 1501.2,2000.2 1501.2,1999.0 1498.0,1999.0 1498.0,1997.7 1494.8,1997.7 1494.8,1998.4 1491.5,1998.4 1491.5,1997.5 1488.2,1997.5 1488.2,1999.6 1485.0,1999.6Z" fill="#264478" clip-path="url(#clip_c2)" opacity="0.8"/>
<path d="M1485.0,1972.6 1488.2,1972.6 1488.2,1974.1 1491.5,1974.1 1491.5,1974.8 1494.8,1974.8 1494.8,1973.4 1498.0,1973.4 1498.0,1975.9 1501.2,1975.9 1501.2,1971.7 1504.5,1971.7 1504.5,1976.0 1507.8,1976.0 1507.8,1970.5 1511.0,1970.5 1511.0,1975.7 1514.2,1975.7 1514.2,1975.0 1517.5,1975.0 1517.5,1975.4 1520.8,1975.4 1520.8,1973.3 1524.0,1973.3 1524.0,1972.0 1527.2,1972.0 1527.2,1973.3 1530.5,1973.3 1530.5,1975.5 1533.8,1975.5 1533.8,1976.2 1537.0,1976.2 1537.0,1974.3 1540.2,1974.3 1540.2,1976.2 1543.5,1976.2 1543.5,1973.3 1546.8,1973.3 1546.8,1971.6 1550.0,1971.6 1550.0,1970.8 1553.2,1970.8 1553.2,1973.5 1556.5,1973.5 1556.5,1971.6 1559.8,1971.6 1559.8,1971.1 1563.0,1971.1 1563.0,1973.6 1566.2,1973.6 1566.2,1974.5 1569.5,1974.5 1569.5,1975.0 1572.8,1975.0 1572.8,1970.8 1576.0,1970.8 1576.0,1974.5 1579.2,1974.5 1579.2,1974.1 1582.5,1974.1 1582.5,1971.6 1585.8,1971.6 1585.8,1969.5 1589.0,1969.5 1589.0,1972.1 1592.2,1972.1 1592.2,1971.7 1595.5,1971.7 1595.5,1970.2 1598.8,1970.2 1598.8,1970.7 1602.0,1970.7 1602.0,1968.7 1605.2,1968.7 1605.2,1973.7 1608.5,1973.7 1608.5,1972.7 1611.8,1972.7 1611.8,1971.8 1615.0,1971.8 1615.0,1973.5 1618.2,1973.5 1618.2,1972.8 1621.5,1972.8 1621.5,1975.1 1624.8,1975.1 1624.8,1976.4 1628.0,1976.4 1628.0,1973.9 1631.2,1973.9 1631.2,1976.1 1634.5,1976.1 1634.5,1972.0 1637.8,1972.0 1637.8,1973.6 1641.0,1973.6 1641.0,1968.8 1644.2,1968.8 1644.2,1973.0 1647.5,1973.0 1647.5,1971.8 1650.8,1971.8 1650.8,1972.0 1654.0,1972.0 1654.0,1976.1 1657.2,1976.1 1657.2,1973.2 1660.5,1973.2 1660.5,1975.7 1663.8,1975.7 1663.8,1973.7 1667.0,1973.7 1667.0,1969.9 1670.2,1969.9 1670.2,1972.8 1673.5,1972.8 1673.5,1971.2 1676.8,1971.2 1676.8,1974.7 1680.0,1974.7 1680.0,1975.8 1683.2,1975.8 1683.2,1976.3 1686.5,1976.3 1686.5,1975.6 1689.8,1975.6 1689.8,1970.9 1693.0,1970.9 1693.0,1973.3 1696.2,1973.3 1696.2,1973.5 1699.5,1973.5 1699.5,1971.3 1702.8,1971.3 1702.8,1972.6 1706.0,1972.6 1706.0,1971.5 1709.2,1971.5 1709.2,1976.2 1712.5,1976.2 1712.5,1973.7 1715.8,1973.7 1715.8,1973.5 1719.0,1973.5 1719.0,1973.2 1722.2,1973.2 1722.2,1971.2 1725.5,1971.2 1725.5,1974.7 1728.8,1974.7 1728.8,1975.9 1732.0,1975.9 1732.0,1974.7 1735.2,1974.7 1735.2,1970.7 1738.5,1970.7 1738.5,1973.3 1741.8,1973.3 1741.8,1974.6 1745.0,1974.6 1745.0,1974.0 1748.2,1974.0 1748.2,1976.0 1751.5,1976.0 1751.5,1975.8 1754.8,1975.8 1754.8,1973.6 1758.0,1973.6 1758.0,1969.1 1761.2,1969.1 1761.2,1974.8 1764.5,1974.8 1764.5,1971.7 1767.8,1971.7 1767.8,1971.1 1771.0,1971.1 1771.0,1969.2 1774.2,1969.2 1774.2,1970.0 1777.5,1970.0 1777.5,1971.6 1780.8,1971.6 1780.8,1976.5 1784.0,1976.5 1784.0,1973.6 1787.2,1973.6 1787.2,1970.9 1790.5,1970.9 1790.5,1972.2 1793.8,1972.2 1793.8,1971.2 1797.0,1971.2 1797.0,1974.6 1800.2,1974.6 1800.2,1973.8 1803.5,1973.8 1803.5,1975.4 1806.8,1975.4 1806.8,1972.3 1810.0,1972.3 1810.0,1970.8 1813.2,1970.8 1813.2,1970.9 1816.5,1970.9 1816.5,1975.3 1819.8,1975.3 1819.8,1972.0 1823.0,1972.0 1823.0,1972.5 1826.2,1972.5 1826.2,1975.6 1829.5,1975.6 1829.5,1974.1 1832.8,1974.1 1832.8,1974.4 1836.0,1974.4 1836.0,1972.8 1839.2,1972.8 1839.2,1969.9 1842.5,1969.9 1842.5,1969.5 1845.8,1969.5 1845.8,1971.4 1849.0,1971.4 1849.0,1972.4 1852.2,1972.4 1852.2,1969.7 1855.5,1969.7 1855.5,1970.9 1858.8,1970.9 1858.8,1974.3 1862.0,1974.3 1862.0,1974.2 1865.2,1974.2 1865.2,1974.5 1868.5,1974.5 1868.5,1973.7 1871.8,1973.7 1871.8,1973.7 1875.0,1973.7 1875.0,1973.2 1878.2,1973.2 1878.2,1972.2 1881.5,1972.2 1881.5,1973.5 1884.8,1973.5 1884.8,1973.0 1888.0,1973.0 1888.0,1973.1 1891.2,1973.1 1891.2,1973.4 1894.5,1973.4 1894.5,1970.6 1897.8,1970.6 1897.8,1970.6 1901.0,1970.6 1901.0,1973.8 1904.2,1973.8 1904.2,1975.2 1907.5,1975.2 1907.5,1972.5 1910.8,1972.5 1910.8,1971.6 1914.0,1971.6 1914.0,1975.7 1917.2,1975.7 1917.2,1975.1 1920.5,1975.1 1920.5,1973.7 1923.8,1973.7 1923.8,1974.9 1927.0,1974.9 1927.0,1975.9 1930.2,1975.9 1930.2,1974.7 1933.5,1974.7 1933.5,1974.8 1936.8,1974.8 1936.8,1973.0 1940.0,1973.0 1940.0,1973.1 1943.2,1973.1 1943.2,1976.4 1946.5,1976.4 1946.5,1970.3 1949.8,1970.3 1949.8,1970.7 1953.0,1970.7 1953.0,1971.1 1956.2,1971.1 1956.2,1968.9 1959.5,1968.9 1959.5,1970.5 1962.8,1970.5 1962.8,1972.0 1966.0,1972.0 1966.0,1976.5 1969.2,1976.5 1969.2,1973.6 1972.5,1973.6 1972.5,1971.8 1975.8,1971.8 1975.8,1971.8 1979.0,1971.8 1979.0,1971.4 1982.2,1971.4 1982.2,1972.6 1985.5,1972.6 1985.5,1975.8 1988.8,1975.8 1988.8,1971.5 1992.0,1971.5 1992.0,1972.9 1995.2,1972.9 1995.2,1976.5 1998.5,1976.5 1998.5,1971.9 2001.8,1971.9 2001.8,1972.2 2005.0,1972.2 2005.0,1973.8 2008.2,1973.8 2008.2,1972.6 2011.5,1972.6 2011.5,1970.6 2014.8,1970.6 2014.8,1971.5 2018.0,1971.5 2018.0,1970.4 2021.2,1970.4 2021.2,1973.9 2024.5,1973.9 2024.5,1974.7 2027.8,1974.7 2027.8,1970.5 2031.0,1970.5 2031.0,1970.9 2034.2,1970.9 2034.2,1973.6 2037.5,1973.6 2037.5,1974.3 2040.8,1974.3 2040.8,1974.5 2044.0,1974.5 2044.0,1974.5 2047.2,1974.5 2047.2,1973.1 2050.5,1973.1 2050.5,1971.7 2053.8,1971.7 2053.8,1972.7 2057.0,1972.7 2057.0,1976.0 2060.2,1976.0 2060.2,1975.0 2063.5,1975.0 2063.5,1974.9 2066.8,1974.9 2066.8,1974.8 2070.0,1974.8 2070.0,1976.1 2073.2,1976.1 2073.2,1974.6 2076.5,1974.6 2076.5,1974.6 2079.8,1974.6 2079.8,1972.9 2083.0,1972.9 2083.0,1975.5 2086.2,1975.5 2086.2,1971.0 2089.5,1971.0 2089.5,1971.9 2092.8,1971.9 2092.8,1973.9 2096.0,1973.9 2096.0,1972.2 2099.2,1972.2 2099.2,1970.3 2102.5,1970.3 2102.5,1972.9 2105.8,1972.9 2105.8,1973.6 2109.0,1973.6 2109.0,1974.7 2112.2,1974.7 2112.2,1972.0 2115.5,1972.0 2115.5,1973.0 2118.8,1973.0 2118.8,1968.7 2122.0,1968.7 2122.0,1974.0 2125.2,1974.0 2125.2,1974.4 2128.5,1974.4 2128.5,1971.6 2131.8,1971.6 2131.8,1970.8 2135.0,1970.8 2135.0,1970.6 2138.2,1970.6 2138.2,1972.5 2141.5,1972.5 2141.5,1970.3 2144.8,1970.3 2144.8,1971.4 2148.0,1971.4 2148.0,1972.6 2151.2,1972.6 2151.2,1969.1 2154.5,1969.1 2154.5,1972.5 2157.8,1972.5 2157.8,1972.8 2161.0,1972.8 2161.0,1970.4 2164.2,1970.4 2164.2,1970.1 2167.5,1970.1 2167.5,1970.0 2170.8,1970.0 2170.8,1974.7 2174.0,1974.7 2174.0,1970.7 2177.2,1970.7 2177.2,1975.4 2180.5,1975.4 2180.5,1974.1 2183.8,1974.1 2183.8,1971.4 2187.0,1971.4 2187.0,1973.4 2190.2,1973.4 2190.2,1973.5 2193.5,1973.5 2193.5,1971.3 2196.8,1971.3 2196.8,1972.9 2200.0,1972.9 2200.0,1976.2 2203.2,1976.2 2203.2,1969.9 2206.5,1969.9 2206.5,1969.2 2209.8,1969.2 2209.8,1973.0 2213.0,1973.0 2213.0,1972.3 2216.2,1972.3 2216.2,1971.6 2219.5,1971.6 2219.5,1973.4 2222.8,1973.4 2222.8,1973.0 2226.0,1973.0 2226.0,1971.9 2229.2,1971.9 2229.2,1973.5 2232.5,1973.5 2232.5,1971.4 2235.8,1971.4 2235.8,1972.0 2239.0,1972.0 2239.0,1973.5 2242.2,1973.5 2242.2,1970.0 2245.5,1970.0 2245.5,1972.2 2248.8,1972.2 2248.8,1976.1 2252.0,1976.1 2252.0,1975.1 2255.2,1975.1 2255.2,1971.2 2258.5,1971.2 2258.5,1968.7 2261.8,1968.7 2261.8,1969.4 2265.0,1969.4 2265.0,1968.9 2268.2,1968.9 2268.2,1975.5 2271.5,1975.5 2271.5,1968.6 2274.8,1968.6 2274.8,1971.1 2278.0,1971.1 2278.0,1972.9 2281.2,1972.9 2281.2,1973.1 2284.5,1973.1 2284.5,1969.7 2287.8,1969.7 2287.8,1975.1 2291.0,1975.1 2291.0,1972.4 2294.2,1972.4 2294.2,1975.9 2297.5,1975.9 2297.5,1972.2 2300.8,1972.2 2300.8,1976.1 2304.0,1976.1 2304.0,1973.3 2307.2,1973.3 2307.2,1971.6 2310.5,1971.6 2310.5,1976.5 2313.8,1976.5 2313.8,1973.9 2317.0,1973.9 2317.0,1975.4 2320.2,1975.4 2320.2,1973.7 2323.5,1973.7 2323.5,1973.8 2326.8,1973.8 2326.8,1970.2 2330.0,1970.2 2330.0,1974.7 2333.2,1974.7 2333.2,1974.4 2336.5,1974.4 2336.5,1974.7 2339.8,1974.7 2339.8,1973.4 2343.0,1973.4 2343.0,1972.0 2346.2,1972.0 2346.2,1971.2 2349.5,1971.2 2349.5,1974.9 2352.8,1974.9 2352.8,1976.5 2356.0,1976.5 2356.0,1973.7 2359.2,1973.7 2359.2,1970.1 2362.5,1970.1 2362.5,1973.4 2365.8,1973.4 2365.8,1975.5 2369.0,1975.5 2369.0,1973.7 2372.2,1973.7 2372.2,1973.4 2375.5,1973.4 2375.5,1975.2 2378.8,1975.2 2378.8,1972.1 2382.0,1972.1 2382.0,1973.0 2385.2,1973.0 2385.2,1971.7 2388.5,1971.7 2388.5,1973.5 2391.8,1973.5 2391.8,1974.0 2395.0,1974.0 2395.0,1970.7 2397.0,1970.7 2397.0,1992.8 2395.0,1992.8 2395.0,1998.5 2391.8,1998.5 2391.8,1997.1 2388.5,1997.1 2388.5,1991.4 2385.2,1991.4 2385.2,1992.1 2382.0,1992.1 2382.0,1993.4 2378.8,1993.4 2378.8,1995.3 2375.5,1995.3 2375.5,1996.2 2372.2,1996.2 2372.2,1997.0 2369.0,1997.0 2369.0,1993.6 2365.8,1993.6 2365.8,1994.2 2362.5,1994.2 2362.5,1996.7 2359.2,1996.7 2359.2,1996.7 2356.0,1996.7 2356.0,1994.2 2352.8,1994.2 2352.8,1994.4 2349.5,1994.4 2349.5,1994.4 2346.2,1994.4 2346.2,1996.9 2343.0,1996.9 2343.0,1996.0 2339.8,1996.0 2339.8,1995.0 2336.5,1995.0 2336.5,1995.3 2333.2,1995.3 2333.2,1994.3 2330.0,1994.3 2330.0,1994.3 2326.8,1994.3 2326.8,1991.1 2323.5,1991.1 2323.5,1995.8 2320.2,1995.8 2320.2,1993.4 2317.0,1993.4 2317.0,1994.7 2313.8,1994.7 2313.8,1996.7 2310.5,1996.7 2310.5,1993.7 2307.2,1993.7 2307.2,1994.0 2304.0,1994.0 2304.0,1995.2 2300.8,1995.2 2300.8,1994.6 2297.5,1994.6 2297.5,1996.0 2294.2,1996.0 2294.2,1993.4 2291.0,1993.4 2291.0,1991.6 2287.8,1991.6 2287.8,1991.9 2284.5,1991.9 2284.5,1995.3 2281.2,1995.3 2281.2,1993.5 2278.0,1993.5 2278.0,1995.7 2274.8,1995.7 2274.8,1996.4 2271.5,1996.4 2271.5,1994.0 2268.2,1994.0 2268.2,1991.4 2265.0,1991.4 2265.0,1993.8 2261.8,1993.8 2261.8,1991.4 2258.5,1991.4 2258.5,1990.8 2255.2,1990.8 2255.2,1992.4 2252.0,1992.4 2252.0,1994.2 2248.8,1994.2 2248.8,1994.0 2245.5,1994.0 2245.5,1992.7 2242.2,1992.7 2242.2,1996.9 2239.0,1996.9 2239.0,1997.1 2235.8,1997.1 2235.8,1994.5 2232.5,1994.5 2232.5,1992.7 2229.2,1992.7 2229.2,1995.6 2226.0,1995.6 2226.0,1991.0 2222.8,1991.0 2222.8,1993.6 2219.5,1993.6 2219.5,1995.7 2216.2,1995.7 2216.2,1994.9 2213.0,1994.9 2213.0,1995.0 2209.8,1995.0 2209.8,1992.8 2206.5,1992.8 2206.5,1992.2 2203.2,1992.2 2203.2,1991.6 2200.0,1991.6 2200.0,1992.1 2196.8,1992.1 2196.8,1991.9 2193.5,1991.9 2193.5,1994.7 2190.2,1994.7 2190.2,1993.0 2187.0,1993.0 2187.0,1991.2 2183.8,1991.2 2183.8,1997.3 2180.5,1997.3 2180.5,1996.1 2177.2,1996.1 2177.2,1995.7 2174.0,1995.7 2174.0,1995.2 2170.8,1995.2 2170.8,1998.4 2167.5,1998.4 2167.5,1994.9 2164.2,1994.9 2164.2,1994.4 2161.0,1994.4 2161.0,1993.2 2157.8,1993.2 2157.8,1996.4 2154.5,1996.4 2154.5,1996.1 2151.2,1996.1 2151.2,1993.1 2148.0,1993.1 2148.0,1993.7 2144.8,1993.7 2144.8,1995.7 2141.5,1995.7 2141.5,1991.9 2138.2,1991.9 2138.2,1992.7 2135.0,1992.7 2135.0,1995.3 2131.8,1995.3 2131.8,1994.4 2128.5,1994.4 2128.5,1993.4 2125.2,1993.4 2125.2,1994.3 2122.0,1994.3 2122.0,1994.3 2118.8,1994.3 2118.8,1990.5 2115.5,1990.5 2115.5,1993.6 2112.2,1993.6 2112.2,1991.2 2109.0,1991.2 2109.0,1993.9 2105.8,1993.9 2105.8,1993.1 2102.5,1993.1 2102.5,1993.9 2099.2,1993.9 2099.2,1995.6 2096.0,1995.6 2096.0,1993.3 2092.8,1993.3 2092.8,1997.9 2089.5,1997.9 2089.5,1998.2 2086.2,1998.2 2086.2,1993.3 2083.0,1993.3 2083.0,1995.1 2079.8,1995.1 2079.8,1992.6 2076.5,1992.6 2076.5,1995.2 2073.2,1995.2 2073.2,1994.9 2070.0,1994.9 2070.0,1994.4 2066.8,1994.4 2066.8,1996.9 2063.5,1996.9 2063.5,1993.3 2060.2,1993.3 2060.2,1993.7 2057.0,1993.7 2057.0,1994.6 2053.8,1994.6 2053.8,1994.9 2050.5,1994.9 2050.5,1997.9 2047.2,1997.9 2047.2,1994.0 2044.0,1994.0 2044.0,1995.0 2040.8,1995.0 2040.8,1993.5 2037.5,1993.5 2037.5,1997.1 2034.2,1997.1 2034.2,1992.6 2031.0,1992.6 2031.0,1995.6 2027.8,1995.6 2027.8,1994.2 2024.5,1994.2 2024.5,1996.6 2021.2,1996.6 2021.2,1995.5 2018.0,1995.5 2018.0,1997.9 2014.8,1997.9 2014.8,1994.6 2011.5,1994.6 2011.5,1994.7 2008.2,1994.7 2008.2,1996.2 2005.0,1996.2 2005.0,1993.3 2001.8,1993.3 2001.8,1995.7 1998.5,1995.7 1998.5,1992.9 1995.2,1992.9 1995.2,1993.9 1992.0,1993.9 1992.0,1997.3 1988.8,1997.3 1988.8,1995.8 1985.5,1995.8 1985.5,1996.2 1982.2,1996.2 1982.2,1994.6 1979.0,1994.6 1979.0,1993.4 1975.8,1993.4 1975.8,1995.8 1972.5,1995.8 1972.5,1996.6 1969.2,1996.6 1969.2,1992.9 1966.0,1992.9 1966.0,1995.4 1962.8,1995.4 1962.8,1993.5 1959.5,1993.5 1959.5,1996.2 1956.2,1996.2 1956.2,1995.0 1953.0,1995.0 1953.0,1996.9 1949.8,1996.9 1949.8,1995.1 1946.5,1995.1 1946.5,1990.5 1943.2,1990.5 1943.2,1991.7 1940.0,1991.7 1940.0,1994.3 1936.8,1994.3 1936.8,1991.1 1933.5,1991.1 1933.5,1994.5 1930.2,1994.5 1930.2,1992.5 1927.0,1992.5 1927.0,1992.7 1923.8,1992.7 1923.8,1992.7 1920.5,1992.7 1920.5,1995.2 1917.2,1995.2 1917.2,1991.9 1914.0,1991.9 1914.0,1998.1 1910.8,1998.1 1910.8,1998.4 1907.5,1998.4 1907.5,1993.8 1904.2,1993.8 1904.2,1992.1 1901.0,1992.1 1901.0,1993.5 1897.8,1993.5 1897.8,1993.5 1894.5,1993.5 1894.5,1993.7 1891.2,1993.7 1891.2,1998.1 1888.0,1998.1 1888.0,1992.4 1884.8,1992.4 1884.8,1993.6 1881.5,1993.6 1881.5,1994.4 1878.2,1994.4 1878.2,1994.4 1875.0,1994.4 1875.0,1995.1 1871.8,1995.1 1871.8,1995.7 1868.5,1995.7 1868.5,1996.9 1865.2,1996.9 1865.2,1992.1 1862.0,1992.1 1862.0,1997.5 1858.8,1997.5 1858.8,1994.5 1855.5,1994.5 1855.5,1998.3 1852.2,1998.3 1852.2,1997.4 1849.0,1997.4 1849.0,1993.9 1845.8,1993.9 1845.8,1995.9 1842.5,1995.9 1842.5,1991.8 1839.2,1991.8 1839.2,1995.8 1836.0,1995.8 1836.0,1992.6 1832.8,1992.6 1832.8,1992.6 1829.5,1992.6 1829.5,1993.3 1826.2,1993.3 1826.2,1993.0 1823.0,1993.0 1823.0,1995.5 1819.8,1995.5 1819.8,1993.0 1816.5,1993.0 1816.5,1994.3 1813.2,1994.3 1813.2,1991.9 1810.0,1991.9 1810.0,1992.0 1806.8,1992.0 1806.8,1993.7 1803.5,1993.7 1803.5,1993.7 1800.2,1993.7 1800.2,1993.7 1797.0,1993.7 1797.0,1994.3 1793.8,1994.3 1793.8,1994.9 1790.5,1994.9 1790.5,1991.6 1787.2,1991.6 1787.2,1991.8 1784.0,1991.8 1784.0,1995.3 1780.8,1995.3 1780.8,1992.8 1777.5,1992.8 1777.5,1993.2 1774.2,1993.2 1774.2,1991.3 1771.0,1991.3 1771.0,1992.0 1767.8,1992.0 1767.8,1993.8 1764.5,1993.8 1764.5,1997.6 1761.2,1997.6 1761.2,1998.3 1758.0,1998.3 1758.0,1994.2 1754.8,1994.2 1754.8,1997.9 1751.5,1997.9 1751.5,1995.1 1748.2,1995.1 1748.2,1995.6 1745.0,1995.6 1745.0,1993.5 1741.8,1993.5 1741.8,1993.9 1738.5,1993.9 1738.5,1994.1 1735.2,1994.1 1735.2,1995.4 1732.0,1995.4 1732.0,1995.0 1728.8,1995.0 1728.8,1994.3 1725.5,1994.3 1725.5,1995.2 1722.2,1995.2 1722.2,1997.4 1719.0,1997.4 1719.0,1996.4 1715.8,1996.4 1715.8,1994.9 1712.5,1994.9 1712.5,1994.5 1709.2,1994.5 1709.2,1990.7 1706.0,1990.7 1706.0,1991.1 1702.8,1991.1 1702.8,1994.3 1699.5,1994.3 1699.5,1993.0 1696.2,1993.0 1696.2,1995.4 1693.0,1995.4 1693.0,1990.8 1689.8,1990.8 1689.8,1996.1 1686.5,1996.1 1686.5,1998.0 1683.2,1998.0 1683.2,1995.4 1680.0,1995.4 1680.0,1990.6 1676.8,1990.6 1676.8,1992.3 1673.5,1992.3 1673.5,1994.4 1670.2,1994.4 1670.2,1996.4 1667.0,1996.4 1667.0,1991.1 1663.8,1991.1 1663.8,1991.8 1660.5,1991.8 1660.5,1995.3 1657.2,1995.3 1657.2,1997.3 1654.0,1997.3 1654.0,1991.8 1650.8,1991.8 1650.8,1994.3 1647.5,1994.3 1647.5,1993.4 1644.2,1993.4 1644.2,1994.2 1641.0,1994.2 1641.0,1995.6 1637.8,1995.6 1637.8,1994.9 1634.5,1994.9 1634.5,1993.4 1631.2,1993.4 1631.2,1996.3 1628.0,1996.3 1628.0,1996.0 1624.8,1996.0 1624.8,1994.3 1621.5,1994.3 1621.5,1996.5 1618.2,1996.5 1618.2,1991.5 1615.0,1991.5 1615.0,1993.5 1611.8,1993.5 1611.8,1992.1 1608.5,1992.1 1608.5,1998.1 1605.2,1998.1 1605.2,1992.7 1602.0,1992.7 1602.0,1993.5 1598.8,1993.5 1598.8,1992.9 1595.5,1992.9 1595.5,1993.5 1592.2,1993.5 1592.2,1993.2 1589.0,1993.2 1589.0,1992.6 1585.8,1992.6 1585.8,1991.0 1582.5,1991.0 1582.5,1992.8 1579.2,1992.8 1579.2,1993.6 1576.0,1993.6 1576.0,1994.1 1572.8,1994.1 1572.8,1993.7 1569.5,1993.7 1569.5,1993.8 1566.2,1993.8 1566.2,1994.1 1563.0,1994.1 1563.0,1992.2 1559.8,1992.2 1559.8,1995.1 1556.5,1995.1 1556.5,1993.3 1553.2,1993.3 1553.2,1993.3 1550.0,1993.3 1550.0,1991.9 1546.8,1991.9 1546.8,1991.6 1543.5,1991.6 1543.5,1992.4 1540.2,1992.4 1540.2,1992.5 1537.0,1992.5 1537.0,1992.0 1533.8,1992.0 1533.8,1995.1 1530.5,1995.1 1530.5,1992.4 1527.2,1992.4 1527.2,1994.1 1524.0,1994.1 1524.0,1990.5 1520.8,1990.5 1520.8,1991.1 1517.5,1991.1 1517.5,1992.8 1514.2,1992.8 1514.2,1994.0 1511.0,1994.0 1511.0,1993.6 1507.8,1993.6 1507.8,1994.5 1504.5,1994.5 1504.5,1995.2 1501.2,1995.2 1501.2,1994.9 1498.0,1994.9 1498.0,1993.3 1494.8,1993.3 1494.8,1993.6 1491.5,1993.6 1491.5,1991.4 1488.2,1991.4 1488.2,1991.7 1485.0,1991.7Z" fill="#9E480E" clip-path="url(#clip_c2)"/>
<line x1="337.5" y1="705.0" x2="337.5" y2="717.0" stroke="#7f7f7f" stroke-width="4"/>
<text x="337.5" y="789.0" font-size="44" text-anchor="middle" fill="#595959" font-family="'Liberation Sans', sans-serif" stroke="#595959" stroke-width="0.8" textLength="20.8" lengthAdjust="spacingAndGlyphs">0</text>
<line x1="522.6" y1="705.0" x2="522.6" y2="717.0" stroke="#7f7f7f" stroke-width="4"/>
<text x="522.6" y="789.0" font-size="44" text-anchor="middle" fill="#595959" font-family="'Liberation Sans', sans-serif" stroke="#595959" stroke-width="0.8" textLength="41.6" lengthAdjust="spacingAndGlyphs">20</text>
<line x1="707.7" y1="705.0" x2="707.7" y2="717.0" stroke="#7f7f7f" stroke-width="4"/>
<text x="707.7" y="789.0" font-size="44" text-anchor="middle" fill="#595959" font-family="'Liberation Sans', sans-serif" stroke="#595959" stroke-width="0.8" textLength="41.6" lengthAdjust="spacingAndGlyphs">40</text>
<line x1="892.8" y1="705.0" x2="892.8" y2="717.0" stroke="#7f7f7f" stroke-width="4"/>
<text x="892.8" y="789.0" font-size="44" text-anchor="middle" fill="#595959" font-family="'Liberation Sans', sans-serif" stroke="#595959" stroke-width="0.8" textLength="41.6" lengthAdjust="spacingAndGlyphs">60</text>
<line x1="1077.9" y1="705.0" x2="1077.9" y2="717.0" stroke="#7f7f7f" stroke-width="4"/>
<text x="1077.9" y="789.0" font-size="44" text-anchor="middle" fill="#595959" font-family="'Liberation Sans', sans-serif" stroke="#595959" stroke-width="0.8" textLength="41.6" lengthAdjust="spacingAndGlyphs">80</text>
<line x1="1263.0" y1="705.0" x2="1263.0" y2="717.0" stroke="#7f7f7f" stroke-width="4"/>
<text x="1263.0" y="789.0" font-size="44" text-anchor="middle" fill="#595959" font-family="'Liberation Sans', sans-serif" stroke="#595959" stroke-width="0.8" textLength="62.4" lengthAdjust="spacingAndGlyphs">100</text>
<line x1="337.5" y1="717.0" x2="349.5" y2="717.0" stroke="#7f7f7f" stroke-width="4"/>
<text x="300.5" y="731.5" font-size="44" text-anchor="end" fill="#595959" font-family="'Liberation Sans', sans-serif" stroke="#595959" stroke-width="0.8" textLength="20.8" lengthAdjust="spacingAndGlyphs">0</text>
<line x1="337.5" y1="501.0" x2="349.5" y2="501.0" stroke="#7f7f7f" stroke-width="4"/>
<text x="300.5" y="515.5" font-size="44" text-anchor="end" fill="#595959" font-family="'Liberation Sans', sans-serif" stroke="#595959" stroke-width="0.8" textLength="52.0" lengthAdjust="spacingAndGlyphs">0.1</text>
<line x1="337.5" y1="285.0" x2="349.5" y2="285.0" stroke="#7f7f7f" stroke-width="4"/>
<text x="300.5" y="299.5" font-size="44" text-anchor="end" fill="#595959" font-family="'Liberation Sans', sans-serif" stroke="#595959" stroke-width="0.8" textLength="52.0" lengthAdjust="spacingAndGlyphs">0.2</text>
<line x1="337.5" y1="69.0" x2="349.5" y2="69.0" stroke="#7f7f7f" stroke-width="4"/>
<text x="300.5" y="83.5" font-size="44" text-anchor="end" fill="#595959" font-family="'Liberation Sans', sans-serif" stroke="#595959" stroke-width="0.8" textLength="52.0" lengthAdjust="spacingAndGlyphs">0.3</text>
<line x1="1471.5" y1="704.0" x2="1471.5" y2="716.0" stroke="#7f7f7f" stroke-width="4"/>
<text x="1471.5" y="788.0" font-size="44" text-anchor="middle" fill="#595959" font-family="'Liberation Sans', sans-serif" stroke="#595959" stroke-width="0.8" textLength="20.8" lengthAdjust="spacingAndGlyphs">0</text>
<line x1="1656.6" y1="704.0" x2="1656.6" y2="716.0" stroke="#7f7f7f" stroke-width="4"/>
<text x="1656.6" y="788.0" font-size="44" text-anchor="middle" fill="#595959" font-family="'Liberation Sans', sans-serif" stroke="#595959" stroke-width="0.8" textLength="41.6" lengthAdjust="spacingAndGlyphs">20</text>
<line x1="1841.7" y1="704.0" x2="1841.7" y2="716.0" stroke="#7f7f7f" stroke-width="4"/>
<text x="1841.7" y="788.0" font-size="44" text-anchor="middle" fill="#595959" font-family="'Liberation Sans', sans-serif" stroke="#595959" stroke-width="0.8" textLength="41.6" lengthAdjust="spacingAndGlyphs">40</text>
<line x1="2026.8" y1="704.0" x2="2026.8" y2="716.0" stroke="#7f7f7f" stroke-width="4"/>
<text x="2026.8" y="788.0" font-size="44" text-anchor="middle" fill="#595959" font-family="'Liberation Sans', sans-serif" stroke="#595959" stroke-width="0.8" textLength="41.6" lengthAdjust="spacingAndGlyphs">60</text>
<line x1="2211.9" y1="704.0" x2="2211.9" y2="716.0" stroke="#7f7f7f" stroke-width="4"/>
<text x="2211.9" y="788.0" font-size="44" text-anchor="middle" fill="#595959" font-family="'Liberation Sans', sans-serif" stroke="#595959" stroke-width="0.8" textLength="41.6" lengthAdjust="spacingAndGlyphs">80</text>
<line x1="2397.0" y1="704.0" x2="2397.0" y2="716.0" stroke="#7f7f7f" stroke-width="4"/>
<text x="2397.0" y="788.0" font-size="44" text-anchor="middle" fill="#595959" font-family="'Liberation Sans', sans-serif" stroke="#595959" stroke-width="0.8" textLength="62.4" lengthAdjust="spacingAndGlyphs">100</text>
<line x1="1471.5" y1="716.0" x2="1483.5" y2="716.0" stroke="#7f7f7f" stroke-width="4"/>
<text x="1434.5" y="730.5" font-size="44" text-anchor="end" fill="#595959" font-family="'Liberation Sans', sans-serif" stroke="#595959" stroke-width="0.8" textLength="20.8" lengthAdjust="spacingAndGlyphs">0</text>
<line x1="1471.5" y1="554.5" x2="1483.5" y2="554.5" stroke="#7f7f7f" stroke-width="4"/>
<text x="1434.5" y="569.0" font-size="44" text-anchor="end" fill="#595959" font-family="'Liberation Sans', sans-serif" stroke="#595959" stroke-width="0.8" textLength="52.0" lengthAdjust="spacingAndGlyphs">0.1</text>
<line x1="1471.5" y1="393.0" x2="1483.5" y2="393.0" stroke="#7f7f7f" stroke-width="4"/>
<text x="1434.5" y="407.5" font-size="44" text-anchor="end" fill="#595959" font-family="'Liberation Sans', sans-serif" stroke="#595959" stroke-width="0.8" textLength="52.0" lengthAdjust="spacingAndGlyphs">0.2</text>
<line x1="1471.5" y1="231.5" x2="1483.5" y2="231.5" stroke="#7f7f7f" stroke-width="4"/>
<text x="1434.5" y="246.0" font-size="44" text-anchor="end" fill="#595959" font-family="'Liberation Sans', sans-serif" stroke="#595959" stroke-width="0.8" textLength="52.0" lengthAdjust="spacingAndGlyphs">0.3</text>
<line x1="1471.5" y1="70.0" x2="1483.5" y2="70.0" stroke="#7f7f7f" stroke-width="4"/>
<text x="1434.5" y="84.5" font-size="44" text-anchor="end" fill="#595959" font-family="'Liberation Sans', sans-serif" stroke="#595959" stroke-width="0.8" textLength="52.0" lengthAdjust="spacingAndGlyphs">0.4</text>
<line x1="354.0" y1="1548.0" x2="354.0" y2="1560.0" stroke="#7f7f7f" stroke-width="4"/>
<text x="354.0" y="1632.0" font-size="44" text-anchor="middle" fill="#595959" font-family="'Liberation Sans', sans-serif" stroke="#595959" stroke-width="0.8" textLength="20.8" lengthAdjust="spacingAndGlyphs">0</text>
<line x1="637.4" y1="1548.0" x2="637.4" y2="1560.0" stroke="#7f7f7f" stroke-width="4"/>
<text x="637.4" y="1632.0" font-size="44" text-anchor="middle" fill="#595959" font-family="'Liberation Sans', sans-serif" stroke="#595959" stroke-width="0.8" textLength="62.4" lengthAdjust="spacingAndGlyphs">100</text>
<line x1="920.9" y1="1548.0" x2="920.9" y2="1560.0" stroke="#7f7f7f" stroke-width="4"/>
<text x="920.9" y="1632.0" font-size="44" text-anchor="middle" fill="#595959" font-family="'Liberation Sans', sans-serif" stroke="#595959" stroke-width="0.8" textLength="62.4" lengthAdjust="spacingAndGlyphs">200</text>
<line x1="1204.3" y1="1548.0" x2="1204.3" y2="1560.0" stroke="#7f7f7f" stroke-width="4"/>
<text x="1204.3" y="1632.0" font-size="44" text-anchor="middle" fill="#595959" font-family="'Liberation Sans', sans-serif" stroke="#595959" stroke-width="0.8" textLength="62.4" lengthAdjust="spacingAndGlyphs">300</text>
<line x1="354.0" y1="1560.0" x2="366.0" y2="1560.0" stroke="#7f7f7f" stroke-width="4"/>
<text x="317.0" y="1574.5" font-size="44" text-anchor="end" fill="#595959" font-family="'Liberation Sans', sans-serif" stroke="#595959" stroke-width="0.8" textLength="20.8" lengthAdjust="spacingAndGlyphs">0</text>
<line x1="354.0" y1="1454.3" x2="366.0" y2="1454.3" stroke="#7f7f7f" stroke-width="4"/>
<text x="317.0" y="1468.9" font-size="44" text-anchor="end" fill="#595959" font-family="'Liberation Sans', sans-serif" stroke="#595959" stroke-width="0.8" textLength="52.0" lengthAdjust="spacingAndGlyphs">0.1</text>
<line x1="354.0" y1="1348.7" x2="366.0" y2="1348.7" stroke="#7f7f7f" stroke-width="4"/>
<text x="317.0" y="1363.2" font-size="44" text-anchor="end" fill="#595959" font-family="'Liberation Sans', sans-serif" stroke="#595959" stroke-width="0.8" textLength="52.0" lengthAdjust="spacingAndGlyphs">0.2</text>
<line x1="354.0" y1="1243.0" x2="366.0" y2="1243.0" stroke="#7f7f7f" stroke-width="4"/>
<text x="317.0" y="1257.5" font-size="44" text-anchor="end" fill="#595959" font-family="'Liberation Sans', sans-serif" stroke="#595959" stroke-width="0.8" textLength="52.0" lengthAdjust="spacingAndGlyphs">0.3</text>
<line x1="354.0" y1="1137.3" x2="366.0" y2="1137.3" stroke="#7f7f7f" stroke-width="4"/>
<text x="317.0" y="1151.9" font-size="44" text-anchor="end" fill="#595959" font-family="'Liberation Sans', sans-serif" stroke="#595959" stroke-width="0.8" textLength="52.0" lengthAdjust="spacingAndGlyphs">0.4</text>
<line x1="354.0" y1="1031.7" x2="366.0" y2="1031.7" stroke="#7f7f7f" stroke-width="4"/>
<text x="317.0" y="1046.2" font-size="44" text-anchor="end" fill="#595959" font-family="'Liberation Sans', sans-serif" stroke="#595959" stroke-width="0.8" textLength="52.0" lengthAdjust="spacingAndGlyphs">0.5</text>
<line x1="354.0" y1="926.0" x2="366.0" y2="926.0" stroke="#7f7f7f" stroke-width="4"/>
<text x="317.0" y="940.5" font-size="44" text-anchor="end" fill="#595959" font-family="'Liberation Sans', sans-serif" stroke="#595959" stroke-width="0.8" textLength="52.0" lengthAdjust="spacingAndGlyphs">0.6</text>
<line x1="1484.0" y1="1548.0" x2="1484.0" y2="1560.0" stroke="#7f7f7f" stroke-width="4"/>
<text x="1484.0" y="1632.0" font-size="44" text-anchor="middle" fill="#595959" font-family="'Liberation Sans', sans-serif" stroke="#595959" stroke-width="0.8" textLength="20.8" lengthAdjust="spacingAndGlyphs">0</text>
<line x1="1767.8" y1="1548.0" x2="1767.8" y2="1560.0" stroke="#7f7f7f" stroke-width="4"/>
<text x="1767.8" y="1632.0" font-size="44" text-anchor="middle" fill="#595959" font-family="'Liberation Sans', sans-serif" stroke="#595959" stroke-width="0.8" textLength="62.4" lengthAdjust="spacingAndGlyphs">100</text>
<line x1="2051.5" y1="1548.0" x2="2051.5" y2="1560.0" stroke="#7f7f7f" stroke-width="4"/>
<text x="2051.5" y="1632.0" font-size="44" text-anchor="middle" fill="#595959" font-family="'Liberation Sans', sans-serif" stroke="#595959" stroke-width="0.8" textLength="62.4" lengthAdjust="spacingAndGlyphs">200</text>
<line x1="2335.2" y1="1548.0" x2="2335.2" y2="1560.0" stroke="#7f7f7f" stroke-width="4"/>
<text x="2335.2" y="1632.0" font-size="44" text-anchor="middle" fill="#595959" font-family="'Liberation Sans', sans-serif" stroke="#595959" stroke-width="0.8" textLength="62.4" lengthAdjust="spacingAndGlyphs">300</text>
<line x1="1484.0" y1="1560.0" x2="1496.0" y2="1560.0" stroke="#7f7f7f" stroke-width="4"/>
<text x="1447.0" y="1574.5" font-size="44" text-anchor="end" fill="#595959" font-family="'Liberation Sans', sans-serif" stroke="#595959" stroke-width="0.8" textLength="20.8" lengthAdjust="spacingAndGlyphs">0</text>
<line x1="1484.0" y1="1454.3" x2="1496.0" y2="1454.3" stroke="#7f7f7f" stroke-width="4"/>
<text x="1447.0" y="1468.9" font-size="44" text-anchor="end" fill="#595959" font-family="'Liberation Sans', sans-serif" stroke="#595959" stroke-width="0.8" textLength="52.0" lengthAdjust="spacingAndGlyphs">0.1</text>
<line x1="1484.0" y1="1348.7" x2="1496.0" y2="1348.7" stroke="#7f7f7f" stroke-width="4"/>
<text x="1447.0" y="1363.2" font-size="44" text-anchor="end" fill="#595959" font-family="'Liberation Sans', sans-serif" stroke="#595959" stroke-width="0.8" textLength="52.0" lengthAdjust="spacingAndGlyphs">0.2</text>
<line x1="1484.0" y1="1243.0" x2="1496.0" y2="1243.0" stroke="#7f7f7f" stroke-width="4"/>
<text x="1447.0" y="1257.5" font-size="44" text-anchor="end" fill="#595959" font-family="'Liberation Sans', sans-serif" stroke="#595959" stroke-width="0.8" textLength="52.0" lengthAdjust="spacingAndGlyphs">0.3</text>
<line x1="1484.0" y1="1137.3" x2="1496.0" y2="1137.3" stroke="#7f7f7f" stroke-width="4"/>
<text x="1447.0" y="1151.9" font-size="44" text-anchor="end" fill="#595959" font-family="'Liberation Sans', sans-serif" stroke="#595959" stroke-width="0.8" textLength="52.0" lengthAdjust="spacingAndGlyphs">0.4</text>
<line x1="1484.0" y1="1031.7" x2="1496.0" y2="1031.7" stroke="#7f7f7f" stroke-width="4"/>
<text x="1447.0" y="1046.2" font-size="44" text-anchor="end" fill="#595959" font-family="'Liberation Sans', sans-serif" stroke="#595959" stroke-width="0.8" textLength="52.0" lengthAdjust="spacingAndGlyphs">0.5</text>
<line x1="1484.0" y1="926.0" x2="1496.0" y2="926.0" stroke="#7f7f7f" stroke-width="4"/>
<text x="1447.0" y="940.5" font-size="44" text-anchor="end" fill="#595959" font-family="'Liberation Sans', sans-serif" stroke="#595959" stroke-width="0.8" textLength="52.0" lengthAdjust="spacingAndGlyphs">0.6</text>
<line x1="354.0" y1="2391.0" x2="354.0" y2="2403.0" stroke="#7f7f7f" stroke-width="4"/>
<text x="354.0" y="2476.0" font-size="44" text-anchor="middle" fill="#595959" font-family="'Liberation Sans', sans-serif" stroke="#595959" stroke-width="0.8" textLength="20.8" lengthAdjust="spacingAndGlyphs">0</text>
<line x1="484.6" y1="2391.0" x2="484.6" y2="2403.0" stroke="#7f7f7f" stroke-width="4"/>
<text x="484.6" y="2476.0" font-size="44" text-anchor="middle" fill="#595959" font-family="'Liberation Sans', sans-serif" stroke="#595959" stroke-width="0.8" textLength="41.6" lengthAdjust="spacingAndGlyphs">10</text>
<line x1="615.1" y1="2391.0" x2="615.1" y2="2403.0" stroke="#7f7f7f" stroke-width="4"/>
<text x="615.1" y="2476.0" font-size="44" text-anchor="middle" fill="#595959" font-family="'Liberation Sans', sans-serif" stroke="#595959" stroke-width="0.8" textLength="41.6" lengthAdjust="spacingAndGlyphs">20</text>
<line x1="745.7" y1="2391.0" x2="745.7" y2="2403.0" stroke="#7f7f7f" stroke-width="4"/>
<text x="745.7" y="2476.0" font-size="44" text-anchor="middle" fill="#595959" font-family="'Liberation Sans', sans-serif" stroke="#595959" stroke-width="0.8" textLength="41.6" lengthAdjust="spacingAndGlyphs">30</text>
<line x1="876.3" y1="2391.0" x2="876.3" y2="2403.0" stroke="#7f7f7f" stroke-width="4"/>
<text x="876.3" y="2476.0" font-size="44" text-anchor="middle" fill="#595959" font-family="'Liberation Sans', sans-serif" stroke="#595959" stroke-width="0.8" textLength="41.6" lengthAdjust="spacingAndGlyphs">40</text>
<line x1="1006.9" y1="2391.0" x2="1006.9" y2="2403.0" stroke="#7f7f7f" stroke-width="4"/>
<text x="1006.9" y="2476.0" font-size="44" text-anchor="middle" fill="#595959" font-family="'Liberation Sans', sans-serif" stroke="#595959" stroke-width="0.8" textLength="41.6" lengthAdjust="spacingAndGlyphs">50</text>
<line x1="1137.4" y1="2391.0" x2="1137.4" y2="2403.0" stroke="#7f7f7f" stroke-width="4"/>
<text x="1137.4" y="2476.0" font-size="44" text-anchor="middle" fill="#595959" font-family="'Liberation Sans', sans-serif" stroke="#595959" stroke-width="0.8" textLength="41.6" lengthAdjust="spacingAndGlyphs">60</text>
<line x1="1268.0" y1="2391.0" x2="1268.0" y2="2403.0" stroke="#7f7f7f" stroke-width="4"/>
<text x="1268.0" y="2476.0" font-size="44" text-anchor="middle" fill="#595959" font-family="'Liberation Sans', sans-serif" stroke="#595959" stroke-width="0.8" textLength="41.6" lengthAdjust="spacingAndGlyphs">70</text>
<line x1="354.0" y1="2403.0" x2="366.0" y2="2403.0" stroke="#7f7f7f" stroke-width="4"/>
<text x="317.0" y="2417.5" font-size="44" text-anchor="end" fill="#595959" font-family="'Liberation Sans', sans-serif" stroke="#595959" stroke-width="0.8" textLength="20.8" lengthAdjust="spacingAndGlyphs">0</text>
<line x1="354.0" y1="2278.0" x2="366.0" y2="2278.0" stroke="#7f7f7f" stroke-width="4"/>
<text x="317.0" y="2292.5" font-size="44" text-anchor="end" fill="#595959" font-family="'Liberation Sans', sans-serif" stroke="#595959" stroke-width="0.8" textLength="52.0" lengthAdjust="spacingAndGlyphs">0.1</text>
<line x1="354.0" y1="2153.0" x2="366.0" y2="2153.0" stroke="#7f7f7f" stroke-width="4"/>
<text x="317.0" y="2167.5" font-size="44" text-anchor="end" fill="#595959" font-family="'Liberation Sans', sans-serif" stroke="#595959" stroke-width="0.8" textLength="52.0" lengthAdjust="spacingAndGlyphs">0.2</text>
<line x1="354.0" y1="2028.0" x2="366.0" y2="2028.0" stroke="#7f7f7f" stroke-width="4"/>
<text x="317.0" y="2042.5" font-size="44" text-anchor="end" fill="#595959" font-family="'Liberation Sans', sans-serif" stroke="#595959" stroke-width="0.8" textLength="52.0" lengthAdjust="spacingAndGlyphs">0.3</text>
<line x1="354.0" y1="1903.0" x2="366.0" y2="1903.0" stroke="#7f7f7f" stroke-width="4"/>
<text x="317.0" y="1917.5" font-size="44" text-anchor="end" fill="#595959" font-family="'Liberation Sans', sans-serif" stroke="#595959" stroke-width="0.8" textLength="52.0" lengthAdjust="spacingAndGlyphs">0.4</text>
<line x1="354.0" y1="1778.0" x2="366.0" y2="1778.0" stroke="#7f7f7f" stroke-width="4"/>
<text x="317.0" y="1792.5" font-size="44" text-anchor="end" fill="#595959" font-family="'Liberation Sans', sans-serif" stroke="#595959" stroke-width="0.8" textLength="52.0" lengthAdjust="spacingAndGlyphs">0.5</text>
<line x1="1483.0" y1="2429.0" x2="1483.0" y2="2441.0" stroke="#7f7f7f" stroke-width="4"/>
<text x="1483.0" y="2508.0" font-size="38" text-anchor="middle" fill="#333" font-family="'Liberation Sans', sans-serif" stroke="#333" stroke-width="0.2" font-weight="bold" textLength="18.2" lengthAdjust="spacingAndGlyphs">0</text>
<line x1="1666.0" y1="2429.0" x2="1666.0" y2="2441.0" stroke="#7f7f7f" stroke-width="4"/>
<text x="1666.0" y="2508.0" font-size="38" text-anchor="middle" fill="#333" font-family="'Liberation Sans', sans-serif" stroke="#333" stroke-width="0.2" font-weight="bold" textLength="36.3" lengthAdjust="spacingAndGlyphs">20</text>
<line x1="1849.0" y1="2429.0" x2="1849.0" y2="2441.0" stroke="#7f7f7f" stroke-width="4"/>
<text x="1849.0" y="2508.0" font-size="38" text-anchor="middle" fill="#333" font-family="'Liberation Sans', sans-serif" stroke="#333" stroke-width="0.2" font-weight="bold" textLength="36.3" lengthAdjust="spacingAndGlyphs">40</text>
<line x1="2032.0" y1="2429.0" x2="2032.0" y2="2441.0" stroke="#7f7f7f" stroke-width="4"/>
<text x="2032.0" y="2508.0" font-size="38" text-anchor="middle" fill="#333" font-family="'Liberation Sans', sans-serif" stroke="#333" stroke-width="0.2" font-weight="bold" textLength="36.3" lengthAdjust="spacingAndGlyphs">60</text>
<line x1="2215.0" y1="2429.0" x2="2215.0" y2="2441.0" stroke="#7f7f7f" stroke-width="4"/>
<text x="2215.0" y="2508.0" font-size="38" text-anchor="middle" fill="#333" font-family="'Liberation Sans', sans-serif" stroke="#333" stroke-width="0.2" font-weight="bold" textLength="36.3" lengthAdjust="spacingAndGlyphs">80</text>
<line x1="2398.0" y1="2429.0" x2="2398.0" y2="2441.0" stroke="#7f7f7f" stroke-width="4"/>
<text x="2398.0" y="2508.0" font-size="38" text-anchor="middle" fill="#333" font-family="'Liberation Sans', sans-serif" stroke="#333" stroke-width="0.2" font-weight="bold" textLength="54.5" lengthAdjust="spacingAndGlyphs">100</text>
<line x1="1483.0" y1="2441.0" x2="1495.0" y2="2441.0" stroke="#7f7f7f" stroke-width="4"/>
<text x="1446.0" y="2452.9" font-size="36" text-anchor="end" fill="#333" font-family="'Liberation Sans', sans-serif" stroke="#333" stroke-width="0.2" font-weight="bold" textLength="75.5" lengthAdjust="spacingAndGlyphs">-1.25</text>
<line x1="1483.0" y1="2366.6" x2="1495.0" y2="2366.6" stroke="#7f7f7f" stroke-width="4"/>
<text x="1446.0" y="2378.4" font-size="36" text-anchor="end" fill="#333" font-family="'Liberation Sans', sans-serif" stroke="#333" stroke-width="0.2" font-weight="bold" textLength="57.1" lengthAdjust="spacingAndGlyphs">-1.2</text>
<line x1="1483.0" y1="2292.1" x2="1495.0" y2="2292.1" stroke="#7f7f7f" stroke-width="4"/>
<text x="1446.0" y="2304.0" font-size="36" text-anchor="end" fill="#333" font-family="'Liberation Sans', sans-serif" stroke="#333" stroke-width="0.2" font-weight="bold" textLength="75.5" lengthAdjust="spacingAndGlyphs">-1.15</text>
<line x1="1483.0" y1="2217.7" x2="1495.0" y2="2217.7" stroke="#7f7f7f" stroke-width="4"/>
<text x="1446.0" y="2229.5" font-size="36" text-anchor="end" fill="#333" font-family="'Liberation Sans', sans-serif" stroke="#333" stroke-width="0.2" font-weight="bold" textLength="57.1" lengthAdjust="spacingAndGlyphs">-1.1</text>
<line x1="1483.0" y1="2143.2" x2="1495.0" y2="2143.2" stroke="#7f7f7f" stroke-width="4"/>
<text x="1446.0" y="2155.1" font-size="36" text-anchor="end" fill="#333" font-family="'Liberation Sans', sans-serif" stroke="#333" stroke-width="0.2" font-weight="bold" textLength="75.5" lengthAdjust="spacingAndGlyphs">-1.05</text>
<line x1="1483.0" y1="2068.8" x2="1495.0" y2="2068.8" stroke="#7f7f7f" stroke-width="4"/>
<text x="1446.0" y="2080.7" font-size="36" text-anchor="end" fill="#333" font-family="'Liberation Sans', sans-serif" stroke="#333" stroke-width="0.2" font-weight="bold" textLength="29.4" lengthAdjust="spacingAndGlyphs">-1</text>
<line x1="1483.0" y1="1994.3" x2="1495.0" y2="1994.3" stroke="#7f7f7f" stroke-width="4"/>
<text x="1446.0" y="2006.2" font-size="36" text-anchor="end" fill="#333" font-family="'Liberation Sans', sans-serif" stroke="#333" stroke-width="0.2" font-weight="bold" textLength="75.5" lengthAdjust="spacingAndGlyphs">-0.95</text>
<line x1="1483.0" y1="1919.9" x2="1495.0" y2="1919.9" stroke="#7f7f7f" stroke-width="4"/>
<text x="1446.0" y="1931.8" font-size="36" text-anchor="end" fill="#333" font-family="'Liberation Sans', sans-serif" stroke="#333" stroke-width="0.2" font-weight="bold" textLength="57.1" lengthAdjust="spacingAndGlyphs">-0.9</text>
<line x1="1483.0" y1="1845.4" x2="1495.0" y2="1845.4" stroke="#7f7f7f" stroke-width="4"/>
<text x="1446.0" y="1857.3" font-size="36" text-anchor="end" fill="#333" font-family="'Liberation Sans', sans-serif" stroke="#333" stroke-width="0.2" font-weight="bold" textLength="75.5" lengthAdjust="spacingAndGlyphs">-0.85</text>
<line x1="1483.0" y1="1771.0" x2="1495.0" y2="1771.0" stroke="#7f7f7f" stroke-width="4"/>
<text x="1446.0" y="1782.9" font-size="36" text-anchor="end" fill="#333" font-family="'Liberation Sans', sans-serif" stroke="#333" stroke-width="0.2" font-weight="bold" textLength="57.1" lengthAdjust="spacingAndGlyphs">-0.8</text>
<text x="820.0" y="851.0" font-size="50" text-anchor="middle" fill="#3a3a3a" font-family="'Liberation Sans', sans-serif" stroke="#3a3a3a" stroke-width="1" textLength="195.0" lengthAdjust="spacingAndGlyphs">Time (ns)</text>
<text x="1954.0" y="851.0" font-size="50" text-anchor="middle" fill="#3a3a3a" font-family="'Liberation Sans', sans-serif" stroke="#3a3a3a" stroke-width="1" textLength="195.0" lengthAdjust="spacingAndGlyphs">Time (ns)</text>
<text x="809.0" y="1700.5" font-size="50" text-anchor="middle" fill="#3a3a3a" font-family="'Liberation Sans', sans-serif" stroke="#3a3a3a" stroke-width="1" textLength="446.0" lengthAdjust="spacingAndGlyphs">Residues of AKR1B10</text>
<text x="1938.0" y="1700.5" font-size="50" text-anchor="middle" fill="#3a3a3a" font-family="'Liberation Sans', sans-serif" stroke="#3a3a3a" stroke-width="1" textLength="415.0" lengthAdjust="spacingAndGlyphs">Residues of AKR1B1</text>
<text x="811.0" y="2554.0" font-size="50" text-anchor="middle" fill="#3a3a3a" font-family="'Liberation Sans', sans-serif" stroke="#3a3a3a" stroke-width="1" textLength="350.0" lengthAdjust="spacingAndGlyphs">Atoms of ligands</text>
<text x="1941.0" y="2560.0" font-size="50" text-anchor="middle" fill="#3a3a3a" font-family="'Liberation Sans', sans-serif" stroke="#3a3a3a" stroke-width="0.5" font-weight="bold" textLength="178.0" lengthAdjust="spacingAndGlyphs">Time (ns)</text>
<text x="236.0" y="393.0" font-size="49" text-anchor="middle" fill="#3a3a3a" font-family="'Liberation Sans', sans-serif" stroke="#3a3a3a" stroke-width="1" textLength="262.0" lengthAdjust="spacingAndGlyphs" transform="rotate(-90 236.0 393.0)">RMSD (nm)</text>
<text x="1367.0" y="393.0" font-size="49" text-anchor="middle" fill="#3a3a3a" font-family="'Liberation Sans', sans-serif" stroke="#3a3a3a" stroke-width="1" textLength="262.0" lengthAdjust="spacingAndGlyphs" transform="rotate(-90 1367.0 393.0)">RMSD (nm)</text>
<text x="245.5" y="1242.5" font-size="52" text-anchor="middle" fill="#3a3a3a" font-family="'Liberation Sans', sans-serif" stroke="#3a3a3a" stroke-width="1" textLength="254.0" lengthAdjust="spacingAndGlyphs" transform="rotate(-90 245.5 1242.5)">RMSF (nm)</text>
<text x="1375.0" y="1242.5" font-size="52" text-anchor="middle" fill="#3a3a3a" font-family="'Liberation Sans', sans-serif" stroke="#3a3a3a" stroke-width="1" textLength="254.0" lengthAdjust="spacingAndGlyphs" transform="rotate(-90 1375.0 1242.5)">RMSF (nm)</text>
<text x="242.5" y="2091.0" font-size="50" text-anchor="middle" fill="#3a3a3a" font-family="'Liberation Sans', sans-serif" stroke="#3a3a3a" stroke-width="1" textLength="254.0" lengthAdjust="spacingAndGlyphs" transform="rotate(-90 242.5 2091.0)">RMSF (nm)</text>
<text x="1362.0" y="2104.0" font-size="47" text-anchor="middle" fill="#3a3a3a" font-family="'Liberation Sans', sans-serif" font-weight="bold" textLength="485.0" lengthAdjust="spacingAndGlyphs" transform="rotate(-90 1362.0 2104.0)">Energy (× 10<tspan dy="-16" font-size="30">5</tspan><tspan dy="16"> kcal/mol)</tspan></text>
<line x1="360.0" y1="99.0" x2="430.0" y2="99.0" stroke="#4472C4" stroke-width="7"/>
<text x="437.0" y="112.7" font-size="38" text-anchor="start" fill="#404040" font-family="'Liberation Sans', sans-serif" stroke="#404040" stroke-width="0.8" textLength="141.0" lengthAdjust="spacingAndGlyphs">AKR1B10</text>
<line x1="360.0" y1="156.5" x2="430.0" y2="156.5" stroke="#ED7D31" stroke-width="7"/>
<text x="437.0" y="170.2" font-size="38" text-anchor="start" fill="#404040" font-family="'Liberation Sans', sans-serif" stroke="#404040" stroke-width="0.8" textLength="327.0" lengthAdjust="spacingAndGlyphs">AKR1B10-7f complex</text>
<line x1="1494.0" y1="98.0" x2="1563.0" y2="98.0" stroke="#4472C4" stroke-width="7"/>
<text x="1567.0" y="111.7" font-size="38" text-anchor="start" fill="#404040" font-family="'Liberation Sans', sans-serif" stroke="#404040" stroke-width="0.8" textLength="124.0" lengthAdjust="spacingAndGlyphs">AKR1B1</text>
<line x1="1494.0" y1="154.0" x2="1563.0" y2="154.0" stroke="#ED7D31" stroke-width="7"/>
<text x="1567.0" y="167.7" font-size="38" text-anchor="start" fill="#404040" font-family="'Liberation Sans', sans-serif" stroke="#404040" stroke-width="0.8" textLength="318.0" lengthAdjust="spacingAndGlyphs">AKR1B1-7d complex</text>
<line x1="369.0" y1="951.5" x2="434.0" y2="951.5" stroke="#4472C4" stroke-width="5"/>
<text x="441.0" y="965.2" font-size="38" text-anchor="start" fill="#404040" font-family="'Liberation Sans', sans-serif" stroke="#404040" stroke-width="0.8" textLength="143.0" lengthAdjust="spacingAndGlyphs">AKR1B10</text>
<line x1="369.0" y1="1006.5" x2="434.0" y2="1006.5" stroke="#ED7D31" stroke-width="5"/>
<text x="441.0" y="1020.2" font-size="38" text-anchor="start" fill="#404040" font-family="'Liberation Sans', sans-serif" stroke="#404040" stroke-width="0.8" textLength="328.0" lengthAdjust="spacingAndGlyphs">AKR1B10-7f complex</text>
<line x1="1500.0" y1="953.5" x2="1563.0" y2="953.5" stroke="#4472C4" stroke-width="5"/>
<text x="1572.0" y="967.2" font-size="38" text-anchor="start" fill="#404040" font-family="'Liberation Sans', sans-serif" stroke="#404040" stroke-width="0.8" textLength="123.0" lengthAdjust="spacingAndGlyphs">AKR1B1</text>
<line x1="1500.0" y1="1013.5" x2="1563.0" y2="1013.5" stroke="#ED7D31" stroke-width="5"/>
<text x="1572.0" y="1027.2" font-size="38" text-anchor="start" fill="#404040" font-family="'Liberation Sans', sans-serif" stroke="#404040" stroke-width="0.8" textLength="318.0" lengthAdjust="spacingAndGlyphs">AKR1B1-7d complex</text>
<line x1="381.0" y1="1811.5" x2="452.0" y2="1811.5" stroke="#333" stroke-width="6"/>
<text x="457.0" y="1825.2" font-size="38" text-anchor="start" fill="#404040" font-family="'Liberation Sans', sans-serif" stroke="#404040" stroke-width="0.8" textLength="34.0" lengthAdjust="spacingAndGlyphs">7f</text>
<line x1="381.0" y1="1864.0" x2="452.0" y2="1864.0" stroke="#ED7D31" stroke-width="6"/>
<text x="457.0" y="1877.7" font-size="38" text-anchor="start" fill="#404040" font-family="'Liberation Sans', sans-serif" stroke="#404040" stroke-width="0.8" textLength="41.0" lengthAdjust="spacingAndGlyphs">7d</text>
<line x1="1686.0" y1="1906.5" x2="1752.0" y2="1906.5" stroke="#4472C4" stroke-width="5"/>
<text x="1758.0" y="1919.8" font-size="37" text-anchor="start" fill="#262626" font-family="'Liberation Sans', sans-serif" stroke="#262626" stroke-width="0.3" font-weight="bold" textLength="226.0" lengthAdjust="spacingAndGlyphs">PE of AKR1B10</text>
<line x1="1686.0" y1="1961.7" x2="1752.0" y2="1961.7" stroke="#ED7D31" stroke-width="5"/>
<text x="1758.0" y="1975.0" font-size="37" text-anchor="start" fill="#262626" font-family="'Liberation Sans', sans-serif" stroke="#262626" stroke-width="0.3" font-weight="bold" textLength="405.0" lengthAdjust="spacingAndGlyphs">PE of AKR1B10-7f complex</text>
<line x1="1686.0" y1="2017.0" x2="1752.0" y2="2017.0" stroke="#A5A5A5" stroke-width="5"/>
<text x="1758.0" y="2030.3" font-size="37" text-anchor="start" fill="#262626" font-family="'Liberation Sans', sans-serif" stroke="#262626" stroke-width="0.3" font-weight="bold" textLength="205.0" lengthAdjust="spacingAndGlyphs">PE of AKR1B1</text>
<line x1="1686.0" y1="2071.6" x2="1752.0" y2="2071.6" stroke="#FFC000" stroke-width="5"/>
<text x="1758.0" y="2084.9" font-size="37" text-anchor="start" fill="#262626" font-family="'Liberation Sans', sans-serif" stroke="#262626" stroke-width="0.3" font-weight="bold" textLength="392.0" lengthAdjust="spacingAndGlyphs">PE of AKR1B1-7d complex</text>
<line x1="1686.0" y1="2126.8" x2="1752.0" y2="2126.8" stroke="#5B9BD5" stroke-width="5"/>
<text x="1758.0" y="2140.1" font-size="37" text-anchor="start" fill="#262626" font-family="'Liberation Sans', sans-serif" stroke="#262626" stroke-width="0.3" font-weight="bold" textLength="224.0" lengthAdjust="spacingAndGlyphs">TE of AKR1B10</text>
<line x1="1686.0" y1="2180.8" x2="1752.0" y2="2180.8" stroke="#70AD47" stroke-width="5"/>
<text x="1758.0" y="2194.1" font-size="37" text-anchor="start" fill="#262626" font-family="'Liberation Sans', sans-serif" stroke="#262626" stroke-width="0.3" font-weight="bold" textLength="402.0" lengthAdjust="spacingAndGlyphs">TE of AKR1B10-7f complex</text>
<line x1="1686.0" y1="2236.0" x2="1752.0" y2="2236.0" stroke="#264478" stroke-width="5"/>
<text x="1758.0" y="2249.3" font-size="37" text-anchor="start" fill="#262626" font-family="'Liberation Sans', sans-serif" stroke="#262626" stroke-width="0.3" font-weight="bold" textLength="204.0" lengthAdjust="spacingAndGlyphs">TE of AKR1B1</text>
<line x1="1686.0" y1="2290.6" x2="1752.0" y2="2290.6" stroke="#9E480E" stroke-width="5"/>
<text x="1758.0" y="2303.9" font-size="37" text-anchor="start" fill="#262626" font-family="'Liberation Sans', sans-serif" stroke="#262626" stroke-width="0.3" font-weight="bold" textLength="392.0" lengthAdjust="spacingAndGlyphs">TE of AKR1B1-7d complex</text>
<rect x="210.5" y="72" width="9.5" height="4" fill="#333" opacity="0.8"/>
<rect x="235" y="72.5" width="11" height="3.5" fill="#888" opacity="0.6"/>
<rect x="199.2" y="79.2" width="82.5" height="53.5" fill="#fff" stroke="#2F5597" stroke-width="6.5"/>
<text x="193.8" y="120.0" font-size="55" text-anchor="start" fill="#000" font-family="'Liberation Serif', serif" stroke="#000" stroke-width="1.6">(1)</text>
<rect x="1343" y="69" width="10.5" height="7" fill="#333" opacity="0.6"/>
<rect x="1361.5" y="72" width="17.5" height="4" fill="#888" opacity="0.5"/>
<rect x="1335.2" y="79.2" width="82.5" height="53.5" fill="#fff" stroke="#2F5597" stroke-width="6.5"/>
<text x="1330.1" y="120.0" font-size="55" text-anchor="start" fill="#000" font-family="'Liberation Serif', serif" stroke="#000" stroke-width="1.6">(2)</text>
<rect x="210.6" y="924" width="11" height="7" fill="#333" opacity="0.8"/>
<rect x="235" y="927" width="13.7" height="4" fill="#888" opacity="0.7"/>
<rect x="199.2" y="934.2" width="82.5" height="53.5" fill="#fff" stroke="#2F5597" stroke-width="6.5"/>
<text x="193.8" y="975.0" font-size="55" text-anchor="start" fill="#000" font-family="'Liberation Serif', serif" stroke="#000" stroke-width="1.6">(1)</text>
<rect x="1343" y="924" width="9" height="7" fill="#333" opacity="0.8"/>
<rect x="1357" y="927" width="24.7" height="4" fill="#888" opacity="0.7"/>
<rect x="1335.2" y="934.2" width="82.5" height="53.5" fill="#fff" stroke="#2F5597" stroke-width="6.5"/>
<text x="1329.8" y="975.0" font-size="55" text-anchor="start" fill="#000" font-family="'Liberation Serif', serif" stroke="#000" stroke-width="1.6">(2)</text>
<rect x="207" y="1773" width="15" height="13" fill="#333" opacity="0.85"/>
<rect x="239" y="1781" width="16" height="6" fill="#333" opacity="0.85"/>
<rect x="199.2" y="1789.2" width="82.5" height="54.5" fill="#fff" stroke="#2F5597" stroke-width="6.5"/>
<text x="200.4" y="1834.0" font-size="55" text-anchor="start" fill="#000" font-family="'Liberation Serif', serif" stroke="#000" stroke-width="1.6">(1)</text>
<rect x="1343" y="1773" width="10" height="10" fill="#333" opacity="0.85"/>
<rect x="1358" y="1778" width="24" height="5" fill="#555" opacity="0.8"/>
<rect x="1335.2" y="1786.2" width="82.5" height="52.5" fill="#fff" stroke="#2F5597" stroke-width="6.5"/>
<text x="1330.2" y="1822.6" font-size="55" text-anchor="start" fill="#000" font-family="'Liberation Serif', serif" stroke="#000" stroke-width="1.6">(2)</text></svg>
</body></html>
